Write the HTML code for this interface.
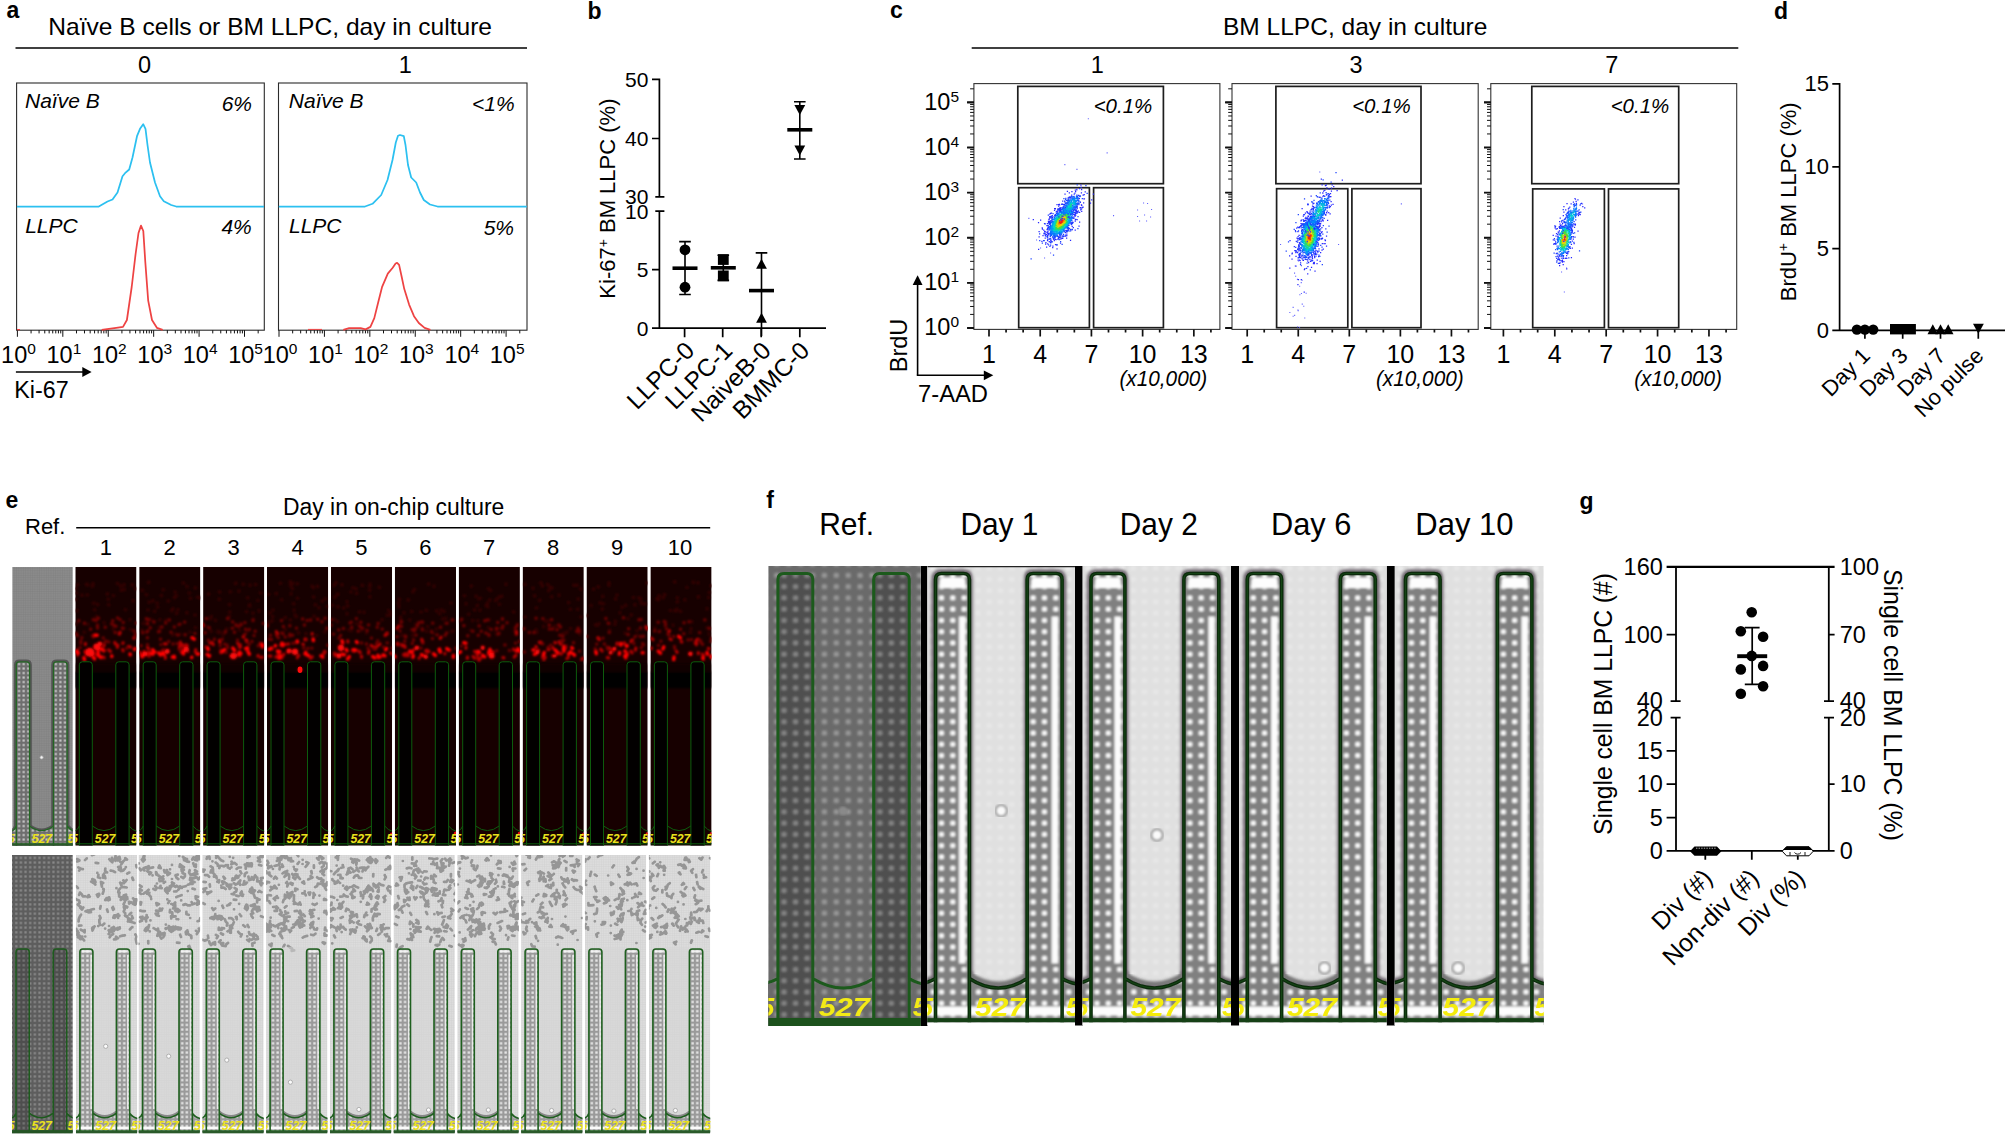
<!DOCTYPE html>
<html><head><meta charset="utf-8"><title>Figure</title>
<style>html,body{margin:0;padding:0;background:#fff;overflow:hidden;width:2006px;height:1136px;}svg{display:block}text{font-family:"Liberation Sans",Arial,sans-serif;}</style>
</head><body>
<svg width="2006" height="1136" viewBox="0 0 2006 1136">
<rect width="2006" height="1136" fill="#fff"/>
<g id="panel-a">
<text x="6.50" y="18.30" font-size="23" font-weight="bold">a</text>
<text x="48.30" y="34.60" font-size="24" textLength="443.7" lengthAdjust="spacingAndGlyphs">Naïve B cells or BM LLPC, day in culture</text>
<line x1="15.50" y1="48.00" x2="527.00" y2="48.00" stroke="#000" stroke-width="1.6" />
<text x="144.50" y="73.00" font-size="23.5" text-anchor="middle">0</text>
<text x="405.30" y="73.00" font-size="23.5" text-anchor="middle">1</text>
<rect x="16.60" y="83.00" width="247.70" height="247.20" fill="none" stroke="#2b2b2b" stroke-width="1.1" />
<path d="M17.40 330.2V336.8M31.07 330.2V333.4M39.07 330.2V333.4M44.75 330.2V333.4M49.15 330.2V333.4M52.74 330.2V333.4M55.78 330.2V333.4M58.42 330.2V333.4M60.74 330.2V333.4M62.82 330.2V336.8M76.49 330.2V333.4M84.49 330.2V333.4M90.17 330.2V333.4M94.57 330.2V333.4M98.16 330.2V333.4M101.20 330.2V333.4M103.84 330.2V333.4M106.16 330.2V333.4M108.24 330.2V336.8M121.91 330.2V333.4M129.91 330.2V333.4M135.59 330.2V333.4M139.99 330.2V333.4M143.58 330.2V333.4M146.62 330.2V333.4M149.26 330.2V333.4M151.58 330.2V333.4M153.66 330.2V336.8M167.33 330.2V333.4M175.33 330.2V333.4M181.01 330.2V333.4M185.41 330.2V333.4M189.00 330.2V333.4M192.04 330.2V333.4M194.68 330.2V333.4M197.00 330.2V333.4M199.08 330.2V336.8M212.75 330.2V333.4M220.75 330.2V333.4M226.43 330.2V333.4M230.83 330.2V333.4M234.42 330.2V333.4M237.46 330.2V333.4M240.10 330.2V333.4M242.42 330.2V333.4M244.50 330.2V336.8M258.17 330.2V333.4" stroke="#111" stroke-width="1" fill="none"/>
<text x="1.10" y="362.6" font-size="23.5">10<tspan dy="-8.2" font-size="15.5">0</tspan></text>
<text x="46.52" y="362.6" font-size="23.5">10<tspan dy="-8.2" font-size="15.5">1</tspan></text>
<text x="91.94" y="362.6" font-size="23.5">10<tspan dy="-8.2" font-size="15.5">2</tspan></text>
<text x="137.36" y="362.6" font-size="23.5">10<tspan dy="-8.2" font-size="15.5">3</tspan></text>
<text x="182.78" y="362.6" font-size="23.5">10<tspan dy="-8.2" font-size="15.5">4</tspan></text>
<text x="228.20" y="362.6" font-size="23.5">10<tspan dy="-8.2" font-size="15.5">5</tspan></text>
<rect x="278.50" y="83.00" width="248.50" height="247.20" fill="none" stroke="#2b2b2b" stroke-width="1.1" />
<path d="M279.00 330.2V336.8M292.67 330.2V333.4M300.67 330.2V333.4M306.35 330.2V333.4M310.75 330.2V333.4M314.34 330.2V333.4M317.38 330.2V333.4M320.02 330.2V333.4M322.34 330.2V333.4M324.42 330.2V336.8M338.09 330.2V333.4M346.09 330.2V333.4M351.77 330.2V333.4M356.17 330.2V333.4M359.76 330.2V333.4M362.80 330.2V333.4M365.44 330.2V333.4M367.76 330.2V333.4M369.84 330.2V336.8M383.51 330.2V333.4M391.51 330.2V333.4M397.19 330.2V333.4M401.59 330.2V333.4M405.18 330.2V333.4M408.22 330.2V333.4M410.86 330.2V333.4M413.18 330.2V333.4M415.26 330.2V336.8M428.93 330.2V333.4M436.93 330.2V333.4M442.61 330.2V333.4M447.01 330.2V333.4M450.60 330.2V333.4M453.64 330.2V333.4M456.28 330.2V333.4M458.60 330.2V333.4M460.68 330.2V336.8M474.35 330.2V333.4M482.35 330.2V333.4M488.03 330.2V333.4M492.43 330.2V333.4M496.02 330.2V333.4M499.06 330.2V333.4M501.70 330.2V333.4M504.02 330.2V333.4M506.10 330.2V336.8M519.77 330.2V333.4" stroke="#111" stroke-width="1" fill="none"/>
<text x="262.70" y="362.6" font-size="23.5">10<tspan dy="-8.2" font-size="15.5">0</tspan></text>
<text x="308.12" y="362.6" font-size="23.5">10<tspan dy="-8.2" font-size="15.5">1</tspan></text>
<text x="353.54" y="362.6" font-size="23.5">10<tspan dy="-8.2" font-size="15.5">2</tspan></text>
<text x="398.96" y="362.6" font-size="23.5">10<tspan dy="-8.2" font-size="15.5">3</tspan></text>
<text x="444.38" y="362.6" font-size="23.5">10<tspan dy="-8.2" font-size="15.5">4</tspan></text>
<text x="489.80" y="362.6" font-size="23.5">10<tspan dy="-8.2" font-size="15.5">5</tspan></text>
<path d="M16.9 206.5 L98.8 206.5 L107.5 201.5 L112.5 199.5 L117.5 192.5 L122.5 176.2 L125.0 173.2 L129.2 169.5 L132.5 157.5 L137.0 136.2 L140.0 128.8 L143.2 124.2 L145.5 128.8 L147.5 145.0 L150.0 162.5 L155.0 182.5 L160.0 196.2 L163.8 201.2 L171.2 205.0 L176.2 206.5 L264.0 206.5" fill="none" stroke="#2cc0f0" stroke-width="1.75" stroke-linejoin="round"/>
<path d="M278.8 206.5 L365.0 206.5 L372.5 203.8 L381.2 195.0 L387.5 180.0 L392.5 160.0 L395.8 142.5 L398.0 135.8 L400.0 135.0 L403.8 136.2 L405.5 145.0 L408.0 165.0 L411.2 177.5 L416.2 182.5 L420.0 192.5 L423.8 200.0 L430.0 204.5 L437.5 206.5 L526.8 206.5" fill="none" stroke="#2cc0f0" stroke-width="1.75" stroke-linejoin="round"/>
<path d="M101.7 329.8 L116.2 327.8 L123.0 326.9 L126.9 320.0 L131.7 287.0 L135.6 254.0 L138.5 233.0 L141.0 225.6 L143.3 231.0 L145.3 262.0 L148.2 300.7 L152.0 320.0 L156.9 327.8 L162.7 329.8" fill="none" stroke="#ee4343" stroke-width="1.75" stroke-linejoin="round"/>
<path d="M343.3 329.8 L349.1 328.2 L360.7 328.2 L365.6 329.4 L370.4 326.9 L374.3 318.1 L378.1 302.7 L382.0 287.2 L387.8 273.6 L392.7 267.8 L395.6 263.5 L397.1 262.8 L399.1 264.9 L401.4 275.5 L404.3 289.1 L409.1 304.6 L414.0 316.2 L418.8 323.0 L424.6 327.8 L430.4 329.8" fill="none" stroke="#ee4343" stroke-width="1.75" stroke-linejoin="round"/>
<line x1="17.00" y1="329.60" x2="20.00" y2="329.60" stroke="#ee4343" stroke-width="1.2" />
<line x1="308.00" y1="329.40" x2="322.00" y2="329.40" stroke="#ee4343" stroke-width="1.0" />
<text x="25.00" y="107.50" font-size="21" font-style="italic">Naïve B</text>
<text x="252.00" y="110.80" font-size="21" text-anchor="end" font-style="italic">6%</text>
<text x="25.20" y="232.50" font-size="21" font-style="italic">LLPC</text>
<text x="251.80" y="234.20" font-size="21" text-anchor="end" font-style="italic">4%</text>
<text x="288.80" y="107.50" font-size="21" font-style="italic">Naïve B</text>
<text x="514.60" y="110.80" font-size="21" text-anchor="end" font-style="italic">&lt;1%</text>
<text x="289.00" y="232.50" font-size="21" font-style="italic">LLPC</text>
<text x="514.00" y="234.50" font-size="21" text-anchor="end" font-style="italic">5%</text>
<line x1="15.90" y1="372.00" x2="83.50" y2="372.00" stroke="#000" stroke-width="1.6" />
<polygon points="82.3,367.1 91.6,372 82.3,376.9"/>
<text x="14.30" y="397.60" font-size="23.5" textLength="54.4" lengthAdjust="spacingAndGlyphs">Ki-67</text>
</g>
<g id="panel-b">
<text x="587.50" y="18.50" font-size="23" font-weight="bold">b</text>
<path d="M652 79.4H659.4V196.8M652 138.5H659.4M655.3 196.8H664.4M655.3 211.2H664.4M659.4 211.2V328.2M652 269.7H659.4M652 328.2H826M684.6 328.2V337.2M722.7 328.2V337.2M761.2 328.2V337.2M799.8 328.2V337.2" stroke="#000" stroke-width="1.7" fill="none"/>
<text x="648.40" y="86.90" font-size="21" text-anchor="end">50</text>
<text x="648.40" y="146.00" font-size="21" text-anchor="end">40</text>
<text x="648.40" y="204.30" font-size="21" text-anchor="end">30</text>
<text x="648.40" y="218.70" font-size="21" text-anchor="end">10</text>
<text x="648.40" y="277.20" font-size="21" text-anchor="end">5</text>
<text x="648.40" y="335.70" font-size="21" text-anchor="end">0</text>
<text x="615.4" y="198.6" font-size="22" text-anchor="middle" transform="rotate(-90 615.4 198.6)">Ki-67<tspan dy="-7.5" font-size="14">+</tspan><tspan dy="7.5"> BM LLPC (%)</tspan></text>
<path d="M685 241.6V294.5M679.2 241.6H690.8M679.2 294.5H690.8" stroke="#000" stroke-width="1.6" fill="none"/>
<line x1="672.50" y1="268.20" x2="697.50" y2="268.20" stroke="#000" stroke-width="3.6" />
<circle cx="685" cy="249.8" r="5.4"/><circle cx="685" cy="287.2" r="5.4"/>
<path d="M723.3 255.2V280.4M717.5 255.2H729.0999999999999M717.5 280.4H729.0999999999999" stroke="#000" stroke-width="1.6" fill="none"/>
<line x1="710.80" y1="267.80" x2="735.80" y2="267.80" stroke="#000" stroke-width="3.6" />
<rect x="717.90" y="254.20" width="10.80" height="10.70" fill="#000" stroke="none" stroke-width="1" />
<rect x="717.90" y="270.50" width="10.80" height="10.70" fill="#000" stroke="none" stroke-width="1" />
<path d="M761.5 252.9V336M755.7 252.9H767.3" stroke="#000" stroke-width="1.6" fill="none"/>
<line x1="749.00" y1="290.60" x2="774.00" y2="290.60" stroke="#000" stroke-width="3.6" />
<polygon points="756.1,268.86 766.9,268.86 761.5,258.87"/>
<polygon points="756.1,322.66 766.9,322.66 761.5,312.67"/>
<path d="M799.8 101.7V159M794.0 101.7H805.5999999999999M794.0 159H805.5999999999999" stroke="#000" stroke-width="1.6" fill="none"/>
<line x1="787.30" y1="129.80" x2="812.30" y2="129.80" stroke="#000" stroke-width="3.6" />
<polygon points="794.4,104.94 805.1999999999999,104.94 799.8,114.92999999999999"/>
<polygon points="794.4,145.54 805.1999999999999,145.54 799.8,155.53"/>
<text x="695.80" y="352.10" font-size="24.5" text-anchor="end" transform="rotate(-45 695.80 352.10)">LLPC-0</text>
<text x="733.90" y="352.10" font-size="24.5" text-anchor="end" transform="rotate(-45 733.90 352.10)">LLPC-1</text>
<text x="772.40" y="352.10" font-size="24.5" text-anchor="end" transform="rotate(-45 772.40 352.10)">NaiveB-0</text>
<text x="811.00" y="352.10" font-size="24.5" text-anchor="end" transform="rotate(-45 811.00 352.10)">BMMC-0</text>
</g>
<g id="panel-c">
<text x="890.00" y="17.80" font-size="23" font-weight="bold">c</text>
<text x="1223.00" y="35.00" font-size="24" textLength="264.4" lengthAdjust="spacingAndGlyphs">BM LLPC, day in culture</text>
<line x1="971.70" y1="48.00" x2="1738.30" y2="48.00" stroke="#000" stroke-width="1.6" />
<text x="1097.40" y="73.20" font-size="23.5" text-anchor="middle">1</text>
<rect x="973.90" y="83.60" width="246.00" height="245.80" fill="none" stroke="#333" stroke-width="1.1" />
<rect x="1017.80" y="86.40" width="145.60" height="97.30" fill="none" stroke="#1e1e1e" stroke-width="1.7" />
<rect x="1018.70" y="187.70" width="70.70" height="140.00" fill="none" stroke="#1e1e1e" stroke-width="1.7" />
<rect x="1093.60" y="187.70" width="69.80" height="140.00" fill="none" stroke="#1e1e1e" stroke-width="1.7" />
<path d="M967.10 328.00H973.90M970.10 314.42H973.90M970.10 306.47H973.90M970.10 300.84H973.90M970.10 296.46H973.90M970.10 292.89H973.90M970.10 289.87H973.90M970.10 287.25H973.90M970.10 284.94H973.90M967.10 282.88H973.90M970.10 269.30H973.90M970.10 261.35H973.90M970.10 255.72H973.90M970.10 251.34H973.90M970.10 247.77H973.90M970.10 244.75H973.90M970.10 242.13H973.90M970.10 239.82H973.90M967.10 237.76H973.90M970.10 224.18H973.90M970.10 216.23H973.90M970.10 210.60H973.90M970.10 206.22H973.90M970.10 202.65H973.90M970.10 199.63H973.90M970.10 197.01H973.90M970.10 194.70H973.90M967.10 192.64H973.90M970.10 179.06H973.90M970.10 171.11H973.90M970.10 165.48H973.90M970.10 161.10H973.90M970.10 157.53H973.90M970.10 154.51H973.90M970.10 151.89H973.90M970.10 149.58H973.90M967.10 147.52H973.90M970.10 133.94H973.90M970.10 125.99H973.90M970.10 120.36H973.90M970.10 115.98H973.90M970.10 112.41H973.90M970.10 109.39H973.90M970.10 106.77H973.90M970.10 104.46H973.90M967.10 102.40H973.90M970.10 88.82H973.90" stroke="#111" stroke-width="1" fill="none"/>
<line x1="967.10" y1="102.40" x2="973.90" y2="102.40" stroke="#111" stroke-width="1.8" />
<path d="M967.10 328.00H973.90M967.10 282.88H973.90M967.10 237.76H973.90M967.10 192.64H973.90M967.10 147.52H973.90M967.10 102.40H973.90" stroke="#111" stroke-width="1.8" fill="none"/>
<path d="M989.00 329.4V336.6M1006.07 329.4V332.6M1023.14 329.4V332.6M1040.21 329.4V336.6M1057.28 329.4V332.6M1074.35 329.4V332.6M1091.42 329.4V336.6M1108.49 329.4V332.6M1125.56 329.4V332.6M1142.63 329.4V336.6M1159.70 329.4V332.6M1176.77 329.4V332.6M1193.84 329.4V336.6M1210.91 329.4V332.6" stroke="#111" stroke-width="1.7" fill="none"/>
<text x="989.00" y="362.80" font-size="25" text-anchor="middle">1</text>
<text x="1040.21" y="362.80" font-size="25" text-anchor="middle">4</text>
<text x="1091.42" y="362.80" font-size="25" text-anchor="middle">7</text>
<text x="1142.63" y="362.80" font-size="25" text-anchor="middle">10</text>
<text x="1193.84" y="362.80" font-size="25" text-anchor="middle">13</text>
<text x="1207.20" y="386.00" font-size="21.5" text-anchor="end" font-style="italic" textLength="87.8" lengthAdjust="spacingAndGlyphs">(x10,000)</text>
<text x="1123.00" y="113.20" font-size="20.5" text-anchor="middle" font-style="italic">&lt;0.1%</text>
<text x="924.30" y="335.40" font-size="23.5">10<tspan dy="-8.2" font-size="15.5">0</tspan></text>
<text x="924.30" y="290.28" font-size="23.5">10<tspan dy="-8.2" font-size="15.5">1</tspan></text>
<text x="924.30" y="245.16" font-size="23.5">10<tspan dy="-8.2" font-size="15.5">2</tspan></text>
<text x="924.30" y="200.04" font-size="23.5">10<tspan dy="-8.2" font-size="15.5">3</tspan></text>
<text x="924.30" y="154.92" font-size="23.5">10<tspan dy="-8.2" font-size="15.5">4</tspan></text>
<text x="924.30" y="109.80" font-size="23.5">10<tspan dy="-8.2" font-size="15.5">5</tspan></text>
<text x="1356.00" y="73.20" font-size="23.5" text-anchor="middle">3</text>
<rect x="1232.00" y="83.60" width="246.20" height="245.80" fill="none" stroke="#333" stroke-width="1.1" />
<rect x="1275.90" y="86.40" width="145.10" height="97.30" fill="none" stroke="#1e1e1e" stroke-width="1.7" />
<rect x="1276.60" y="188.70" width="71.20" height="139.00" fill="none" stroke="#1e1e1e" stroke-width="1.7" />
<rect x="1351.90" y="188.70" width="69.10" height="139.00" fill="none" stroke="#1e1e1e" stroke-width="1.7" />
<path d="M1225.20 328.00H1232.00M1228.20 314.42H1232.00M1228.20 306.47H1232.00M1228.20 300.84H1232.00M1228.20 296.46H1232.00M1228.20 292.89H1232.00M1228.20 289.87H1232.00M1228.20 287.25H1232.00M1228.20 284.94H1232.00M1225.20 282.88H1232.00M1228.20 269.30H1232.00M1228.20 261.35H1232.00M1228.20 255.72H1232.00M1228.20 251.34H1232.00M1228.20 247.77H1232.00M1228.20 244.75H1232.00M1228.20 242.13H1232.00M1228.20 239.82H1232.00M1225.20 237.76H1232.00M1228.20 224.18H1232.00M1228.20 216.23H1232.00M1228.20 210.60H1232.00M1228.20 206.22H1232.00M1228.20 202.65H1232.00M1228.20 199.63H1232.00M1228.20 197.01H1232.00M1228.20 194.70H1232.00M1225.20 192.64H1232.00M1228.20 179.06H1232.00M1228.20 171.11H1232.00M1228.20 165.48H1232.00M1228.20 161.10H1232.00M1228.20 157.53H1232.00M1228.20 154.51H1232.00M1228.20 151.89H1232.00M1228.20 149.58H1232.00M1225.20 147.52H1232.00M1228.20 133.94H1232.00M1228.20 125.99H1232.00M1228.20 120.36H1232.00M1228.20 115.98H1232.00M1228.20 112.41H1232.00M1228.20 109.39H1232.00M1228.20 106.77H1232.00M1228.20 104.46H1232.00M1225.20 102.40H1232.00M1228.20 88.82H1232.00" stroke="#111" stroke-width="1" fill="none"/>
<line x1="1225.20" y1="102.40" x2="1232.00" y2="102.40" stroke="#111" stroke-width="1.8" />
<path d="M1225.20 328.00H1232.00M1225.20 282.88H1232.00M1225.20 237.76H1232.00M1225.20 192.64H1232.00M1225.20 147.52H1232.00M1225.20 102.40H1232.00" stroke="#111" stroke-width="1.8" fill="none"/>
<path d="M1247.20 329.4V336.6M1264.22 329.4V332.6M1281.24 329.4V332.6M1298.26 329.4V336.6M1315.28 329.4V332.6M1332.30 329.4V332.6M1349.32 329.4V336.6M1366.34 329.4V332.6M1383.36 329.4V332.6M1400.38 329.4V336.6M1417.40 329.4V332.6M1434.42 329.4V332.6M1451.44 329.4V336.6M1468.46 329.4V332.6" stroke="#111" stroke-width="1.7" fill="none"/>
<text x="1247.20" y="362.80" font-size="25" text-anchor="middle">1</text>
<text x="1298.26" y="362.80" font-size="25" text-anchor="middle">4</text>
<text x="1349.32" y="362.80" font-size="25" text-anchor="middle">7</text>
<text x="1400.38" y="362.80" font-size="25" text-anchor="middle">10</text>
<text x="1451.44" y="362.80" font-size="25" text-anchor="middle">13</text>
<text x="1463.70" y="386.00" font-size="21.5" text-anchor="end" font-style="italic" textLength="87.8" lengthAdjust="spacingAndGlyphs">(x10,000)</text>
<text x="1381.50" y="113.20" font-size="20.5" text-anchor="middle" font-style="italic">&lt;0.1%</text>
<text x="1611.90" y="73.20" font-size="23.5" text-anchor="middle">7</text>
<rect x="1490.80" y="83.60" width="245.90" height="245.80" fill="none" stroke="#333" stroke-width="1.1" />
<rect x="1531.80" y="86.40" width="146.90" height="97.30" fill="none" stroke="#1e1e1e" stroke-width="1.7" />
<rect x="1532.70" y="188.90" width="71.70" height="138.80" fill="none" stroke="#1e1e1e" stroke-width="1.7" />
<rect x="1608.50" y="188.90" width="70.20" height="138.80" fill="none" stroke="#1e1e1e" stroke-width="1.7" />
<path d="M1484.00 328.00H1490.80M1487.00 314.42H1490.80M1487.00 306.47H1490.80M1487.00 300.84H1490.80M1487.00 296.46H1490.80M1487.00 292.89H1490.80M1487.00 289.87H1490.80M1487.00 287.25H1490.80M1487.00 284.94H1490.80M1484.00 282.88H1490.80M1487.00 269.30H1490.80M1487.00 261.35H1490.80M1487.00 255.72H1490.80M1487.00 251.34H1490.80M1487.00 247.77H1490.80M1487.00 244.75H1490.80M1487.00 242.13H1490.80M1487.00 239.82H1490.80M1484.00 237.76H1490.80M1487.00 224.18H1490.80M1487.00 216.23H1490.80M1487.00 210.60H1490.80M1487.00 206.22H1490.80M1487.00 202.65H1490.80M1487.00 199.63H1490.80M1487.00 197.01H1490.80M1487.00 194.70H1490.80M1484.00 192.64H1490.80M1487.00 179.06H1490.80M1487.00 171.11H1490.80M1487.00 165.48H1490.80M1487.00 161.10H1490.80M1487.00 157.53H1490.80M1487.00 154.51H1490.80M1487.00 151.89H1490.80M1487.00 149.58H1490.80M1484.00 147.52H1490.80M1487.00 133.94H1490.80M1487.00 125.99H1490.80M1487.00 120.36H1490.80M1487.00 115.98H1490.80M1487.00 112.41H1490.80M1487.00 109.39H1490.80M1487.00 106.77H1490.80M1487.00 104.46H1490.80M1484.00 102.40H1490.80M1487.00 88.82H1490.80" stroke="#111" stroke-width="1" fill="none"/>
<line x1="1484.00" y1="102.40" x2="1490.80" y2="102.40" stroke="#111" stroke-width="1.8" />
<path d="M1484.00 328.00H1490.80M1484.00 282.88H1490.80M1484.00 237.76H1490.80M1484.00 192.64H1490.80M1484.00 147.52H1490.80M1484.00 102.40H1490.80" stroke="#111" stroke-width="1.8" fill="none"/>
<path d="M1503.40 329.4V336.6M1520.53 329.4V332.6M1537.66 329.4V332.6M1554.79 329.4V336.6M1571.92 329.4V332.6M1589.05 329.4V332.6M1606.18 329.4V336.6M1623.31 329.4V332.6M1640.44 329.4V332.6M1657.57 329.4V336.6M1674.70 329.4V332.6M1691.83 329.4V332.6M1708.96 329.4V336.6M1726.09 329.4V332.6" stroke="#111" stroke-width="1.7" fill="none"/>
<text x="1503.40" y="362.80" font-size="25" text-anchor="middle">1</text>
<text x="1554.79" y="362.80" font-size="25" text-anchor="middle">4</text>
<text x="1606.18" y="362.80" font-size="25" text-anchor="middle">7</text>
<text x="1657.57" y="362.80" font-size="25" text-anchor="middle">10</text>
<text x="1708.96" y="362.80" font-size="25" text-anchor="middle">13</text>
<text x="1722.00" y="386.00" font-size="21.5" text-anchor="end" font-style="italic" textLength="87.8" lengthAdjust="spacingAndGlyphs">(x10,000)</text>
<text x="1640.00" y="113.20" font-size="20.5" text-anchor="middle" font-style="italic">&lt;0.1%</text>
<path d="M1032.7 219.7h1.25M1038.0 249.3h1.25M1038.5 236.8h1.25M1041.8 229.1h1.25M1043.1 230.1h1.25M1043.8 233.0h1.25M1043.9 223.7h1.25M1044.6 238.0h1.25M1044.7 233.9h1.25M1044.7 235.5h1.25M1045.0 244.0h1.25M1045.3 234.6h1.25M1045.3 242.5h1.25M1046.0 247.0h1.25M1046.3 225.6h1.25M1046.4 232.4h1.25M1046.5 229.3h1.25M1046.6 225.7h1.25M1046.7 225.5h1.25M1046.8 237.8h1.25M1046.8 223.6h1.25M1046.9 235.6h1.25M1047.0 228.1h1.25M1047.1 243.8h1.25M1047.1 233.1h1.25M1047.3 232.8h1.25M1047.3 231.3h1.25M1047.7 228.1h1.25M1047.8 226.8h1.25M1047.8 221.4h1.25M1047.9 233.6h1.25M1047.9 222.9h1.25M1048.1 234.8h1.25M1048.3 219.4h1.25M1048.3 239.1h1.25M1048.4 221.0h1.25M1048.6 241.6h1.25M1048.6 219.0h1.25M1048.9 223.3h1.25M1049.1 216.7h1.25M1049.1 224.3h1.25M1049.2 214.2h1.25M1049.2 223.1h1.25M1049.3 221.3h1.25M1049.6 238.3h1.25M1049.7 222.9h1.25M1049.7 224.1h1.25M1049.8 242.4h1.25M1050.0 222.3h1.25M1050.0 213.4h1.25M1050.1 240.8h1.25M1050.3 220.5h1.25M1050.4 240.5h1.25M1050.6 220.7h1.25M1050.9 213.0h1.25M1051.7 217.5h1.25M1051.7 215.7h1.25M1052.1 247.7h1.25M1052.3 246.0h1.25M1052.7 238.2h1.25M1053.3 239.3h1.25M1053.7 236.6h1.25M1054.0 208.7h1.25M1054.0 215.9h1.25M1054.3 237.6h1.25M1054.8 208.5h1.25M1054.8 239.4h1.25M1054.9 244.5h1.25M1055.4 239.6h1.25M1056.1 244.8h1.25M1056.4 204.7h1.25M1057.1 239.2h1.25M1057.5 236.4h1.25M1057.9 238.9h1.25M1058.2 237.9h1.25M1058.9 236.8h1.25M1059.0 204.9h1.25M1059.2 208.1h1.25M1059.8 234.9h1.25M1059.9 243.1h1.25M1060.0 208.7h1.25M1060.0 209.3h1.25M1060.1 208.9h1.25M1060.2 239.0h1.25M1060.9 238.2h1.25M1061.2 204.4h1.25M1061.6 236.2h1.25M1062.1 201.0h1.25M1062.1 238.4h1.25M1062.4 235.8h1.25M1062.4 207.8h1.25M1063.3 236.4h1.25M1063.4 204.4h1.25M1064.4 194.1h1.25M1064.7 230.8h1.25M1064.8 207.7h1.25M1064.8 232.5h1.25M1065.0 236.0h1.25M1065.3 205.7h1.25M1065.4 230.8h1.25M1065.5 206.9h1.25M1065.6 206.6h1.25M1066.0 238.2h1.25M1066.1 231.8h1.25M1066.2 235.7h1.25M1067.2 203.4h1.25M1067.4 229.8h1.25M1067.8 202.4h1.25M1068.0 230.0h1.25M1068.1 228.5h1.25M1068.4 204.3h1.25M1069.0 197.2h1.25M1069.1 205.5h1.25M1069.5 206.7h1.25M1069.9 240.4h1.25M1070.1 206.1h1.25M1070.3 223.7h1.25M1070.6 203.1h1.25M1071.2 203.9h1.25M1071.2 203.1h1.25M1071.3 205.2h1.25M1071.3 191.5h1.25M1071.5 222.0h1.25M1071.6 222.4h1.25M1071.6 226.3h1.25M1071.8 198.2h1.25M1072.4 222.3h1.25M1072.6 218.2h1.25M1072.7 227.6h1.25M1073.2 212.6h1.25M1073.3 218.4h1.25M1073.4 207.9h1.25M1073.5 197.9h1.25M1073.6 212.6h1.25M1073.7 200.8h1.25M1073.8 214.9h1.25M1074.4 214.4h1.25M1074.4 202.5h1.25M1074.6 215.0h1.25M1074.6 208.9h1.25M1074.7 212.9h1.25M1074.8 219.7h1.25M1075.1 219.3h1.25M1075.3 213.2h1.25M1075.4 209.4h1.25M1075.4 212.3h1.25M1075.5 210.4h1.25M1075.6 211.2h1.25M1076.1 206.1h1.25M1076.5 219.5h1.25M1076.6 200.7h1.25M1076.6 205.9h1.25M1077.5 199.1h1.25M1077.7 203.1h1.25M1078.0 195.3h1.25M1078.4 226.0h1.25M1078.8 198.5h1.25M1079.7 207.6h1.25M1080.0 209.8h1.25M1081.1 205.3h1.25M1081.1 211.4h1.25M1081.3 207.9h1.25M1081.6 207.3h1.25M1082.5 207.0h1.25M1091.1 199.9h1.25M1067.1 200.4h1.25M1058.0 204.7h1.25M1074.6 230.1h1.25M1051.3 241.7h1.25M1065.7 230.4h1.25M1046.3 234.4h1.25M1050.4 216.7h1.25M1076.6 211.6h1.25M1049.3 246.4h1.25M1061.4 209.4h1.25M1067.6 227.5h1.25M1077.0 204.1h1.25M1058.7 204.4h1.25M1041.6 227.8h1.25M1042.4 235.6h1.25M1054.7 236.5h1.25M1057.1 211.9h1.25M1073.4 216.8h1.25M1066.8 230.6h1.25M1066.2 234.0h1.25M1079.0 212.4h1.25M1049.0 226.6h1.25M1075.1 215.2h1.25M1062.5 208.4h1.25M1056.4 248.8h1.25M1074.6 201.2h1.25M1049.4 217.5h1.25M1048.6 222.6h1.25M1053.7 240.6h1.25M1071.0 223.3h1.25M1066.0 231.4h1.25M1059.5 237.6h1.25M1044.0 231.3h1.25M1063.6 231.4h1.25M1049.7 232.6h1.25M1050.4 220.9h1.25M1050.3 222.6h1.25M1071.3 229.9h1.25M1044.9 231.9h1.25M1079.0 222.0h1.25M1077.6 210.9h1.25M1049.2 217.9h1.25M1076.2 211.6h1.25M1054.7 214.9h1.25M1050.7 218.1h1.25M1043.5 233.9h1.25M1054.7 208.8h1.25M1052.4 216.9h1.25M1070.9 223.0h1.25M1074.0 201.0h1.25M1038.5 231.7h1.25M1037.9 222.5h1.25M1053.9 210.3h1.25M1064.2 204.4h1.25M1066.7 227.5h1.25M1073.6 198.9h1.25M1075.1 213.3h1.25M1046.7 229.6h1.25M1068.7 192.8h1.25M1058.6 210.2h1.25M1040.0 220.2h1.25M1046.9 240.5h1.25M1059.6 208.4h1.25M1074.6 221.2h1.25M1072.5 209.7h1.25M1041.3 241.3h1.25M1064.1 201.9h1.25M1067.2 227.9h1.25M1059.4 211.2h1.25M1064.5 207.3h1.25M1063.6 208.4h1.25M1048.1 222.0h1.25M1052.7 238.9h1.25M1060.4 207.7h1.25M1068.3 204.0h1.25M1049.2 217.8h1.25" stroke="#2828ff" stroke-width="1.25" fill="none"/>
<path d="M1062.2 208.7h1.25M1055.8 213.3h1.25M1065.4 202.3h1.25M1066.4 206.9h1.25M1051.4 241.9h1.25M1070.8 205.2h1.25M1047.1 239.6h1.25M1077.1 204.2h1.25M1057.3 213.6h1.25M1069.2 208.5h1.25M1079.0 196.1h1.25M1043.0 240.5h1.25M1073.6 206.3h1.25M1076.6 184.9h1.25M1061.5 244.3h1.25M1051.4 221.6h1.25M1059.3 235.5h1.25M1075.6 213.1h1.25M1052.9 255.0h1.25M1054.9 236.7h1.25M1068.5 225.1h1.25M1060.0 236.1h1.25M1072.9 207.0h1.25M1081.7 198.6h1.25M1058.5 210.1h1.25M1048.6 224.0h1.25M1052.4 236.1h1.25M1075.2 210.6h1.25M1054.3 236.6h1.25M1050.0 245.0h1.25M1069.2 222.9h1.25M1071.7 222.7h1.25M1053.9 238.0h1.25M1058.7 210.4h1.25M1045.1 235.9h1.25M1055.6 211.8h1.25M1058.9 209.2h1.25M1069.2 222.9h1.25M1074.8 210.7h1.25M1066.0 231.1h1.25M1065.0 199.6h1.25M1049.3 223.4h1.25M1044.6 223.9h1.25M1053.5 237.3h1.25M1067.4 206.6h1.25M1068.7 228.7h1.25M1058.1 237.5h1.25M1048.1 229.8h1.25M1076.2 206.8h1.25M1072.3 212.4h1.25M1039.1 240.6h1.25M1047.1 237.0h1.25M1077.5 212.2h1.25M1062.2 236.9h1.25M1066.0 205.9h1.25M1073.2 207.4h1.25M1065.9 200.4h1.25M1049.0 224.2h1.25M1071.6 205.7h1.25M1058.6 212.6h1.25M1046.9 236.5h1.25M1068.9 206.6h1.25M1058.3 209.9h1.25M1052.4 213.6h1.25M1058.0 208.8h1.25M1058.6 239.5h1.25M1049.1 239.0h1.25M1063.3 198.5h1.25M1065.2 198.3h1.25M1050.3 226.4h1.25M1063.1 236.3h1.25M1073.0 212.2h1.25M1075.8 206.5h1.25M1067.6 225.3h1.25M1063.5 208.6h1.25M1067.8 208.5h1.25M1030.5 258.9h1.25M1050.2 242.8h1.25M1051.9 221.4h1.25M1060.0 241.5h1.25M1048.0 244.8h1.25M1067.8 200.7h1.25M1049.3 229.2h1.25M1062.6 207.7h1.25M1047.7 215.0h1.25M1056.7 235.8h1.25M1043.6 240.5h1.25M1051.8 237.2h1.25M1054.7 215.6h1.25M1070.3 207.7h1.25M1059.1 233.1h1.25M1067.2 227.2h1.25M1071.7 229.3h1.25M1068.4 231.0h1.25M1076.5 213.1h1.25M1059.9 209.3h1.25M1071.4 213.2h1.25M1054.0 236.6h1.25M1070.2 204.2h1.25M1068.0 228.1h1.25M1068.1 227.8h1.25M1067.9 199.0h1.25M1050.5 233.9h1.25M1050.4 235.1h1.25M1070.0 230.8h1.25M1047.6 225.5h1.25M1073.9 209.3h1.25M1057.1 236.6h1.25M1070.0 229.3h1.25M1071.2 220.4h1.25M1050.3 239.0h1.25M1068.3 197.3h1.25M1065.3 208.0h1.25M1064.7 235.1h1.25M1077.4 216.5h1.25M1072.0 223.2h1.25M1072.6 207.0h1.25M1050.2 231.5h1.25M1043.6 233.4h1.25M1071.6 222.8h1.25M1070.2 203.0h1.25M1049.7 236.4h1.25M1064.9 203.3h1.25M1077.3 228.7h1.25M1071.3 213.9h1.25M1072.8 214.4h1.25M1050.7 216.1h1.25M1046.5 236.7h1.25M1049.3 228.0h1.25M1041.7 243.2h1.25M1051.3 221.5h1.25M1057.4 209.3h1.25M1073.2 210.5h1.25M1053.1 235.0h1.25M1080.9 209.2h1.25M1070.8 224.7h1.25M1067.0 206.0h1.25M1049.5 230.2h1.25M1047.1 228.7h1.25M1050.4 216.9h1.25M1062.8 234.4h1.25M1056.9 212.9h1.25M1071.7 223.7h1.25M1071.7 217.2h1.25M1061.5 204.0h1.25M1067.0 230.3h1.25M1066.6 231.7h1.25M1070.0 222.1h1.25M1056.5 244.9h1.25M1066.4 227.0h1.25M1039.0 233.9h1.25M1049.8 226.3h1.25M1052.4 233.5h1.25M1051.9 219.0h1.25M1076.6 208.5h1.25M1058.9 234.7h1.25M1055.6 235.9h1.25M1049.8 225.7h1.25M1053.9 217.4h1.25M1067.8 224.9h1.25M1069.0 221.8h1.25M1050.3 228.4h1.25M1050.0 233.7h1.25" stroke="#1c43ff" stroke-width="1.25" fill="none"/>
<path d="M1070.5 210.6h1.25M1059.7 233.2h1.25M1051.4 222.8h1.25M1053.1 235.4h1.25M1066.9 228.3h1.25M1064.3 228.6h1.25M1069.8 207.6h1.25M1049.8 235.9h1.25M1069.5 220.6h1.25M1049.5 228.9h1.25M1057.7 233.4h1.25M1049.6 226.8h1.25M1060.7 234.6h1.25M1054.3 234.8h1.25M1071.4 218.7h1.25M1051.8 233.1h1.25M1062.7 210.6h1.25M1071.4 207.1h1.25M1071.2 207.4h1.25M1059.6 212.4h1.25M1050.0 234.0h1.25M1063.5 230.8h1.25M1072.2 208.5h1.25M1051.7 219.4h1.25M1055.2 236.3h1.25M1058.9 233.5h1.25M1066.6 228.3h1.25M1071.8 215.2h1.25M1071.4 206.9h1.25M1049.7 226.8h1.25M1051.3 219.5h1.25M1050.8 235.4h1.25M1066.3 226.4h1.25M1070.9 211.8h1.25M1060.3 212.1h1.25M1049.0 233.8h1.25M1055.6 215.5h1.25M1067.4 207.5h1.25M1060.6 232.4h1.25M1055.8 233.9h1.25M1051.9 224.4h1.25M1049.5 228.4h1.25M1069.4 209.3h1.25M1052.2 220.0h1.25M1057.0 214.2h1.25M1053.5 237.1h1.25M1068.4 208.2h1.25M1055.9 215.1h1.25M1050.3 232.3h1.25M1068.6 210.5h1.25M1067.4 206.3h1.25M1063.2 209.4h1.25M1056.8 215.2h1.25M1050.5 222.4h1.25M1070.1 217.9h1.25M1049.1 228.2h1.25M1050.6 233.1h1.25M1064.0 209.1h1.25M1070.8 213.0h1.25M1051.8 219.1h1.25M1056.8 235.1h1.25M1061.2 211.9h1.25M1063.4 231.8h1.25M1053.2 219.4h1.25M1051.2 232.9h1.25M1070.0 220.6h1.25M1052.7 232.8h1.25M1051.8 230.1h1.25M1069.4 207.0h1.25M1054.3 234.0h1.25M1051.7 225.7h1.25M1069.2 209.7h1.25M1070.6 216.0h1.25M1055.1 233.8h1.25M1056.6 213.5h1.25M1071.0 207.4h1.25M1059.8 210.2h1.25M1050.5 235.3h1.25M1051.2 234.4h1.25M1057.4 233.4h1.25M1065.3 227.5h1.25M1072.4 210.6h1.25M1060.6 232.4h1.25M1070.9 209.0h1.25M1052.2 221.8h1.25M1070.6 220.2h1.25M1051.3 227.4h1.25M1059.5 210.6h1.25M1061.6 209.7h1.25M1052.6 232.9h1.25M1060.8 212.5h1.25M1054.9 214.9h1.25M1055.9 232.9h1.25M1051.5 227.1h1.25M1066.8 207.9h1.25M1057.0 215.5h1.25M1054.3 235.7h1.25M1058.8 231.7h1.25M1071.7 212.2h1.25M1071.1 217.4h1.25M1051.2 228.6h1.25M1058.6 232.3h1.25M1061.1 233.3h1.25M1049.6 233.7h1.25M1055.2 236.2h1.25M1066.0 210.7h1.25M1064.8 209.6h1.25M1071.7 217.4h1.25M1072.8 212.6h1.25M1055.8 233.8h1.25M1066.4 224.8h1.25M1062.8 211.3h1.25" stroke="#115fff" stroke-width="1.25" fill="none"/>
<path d="M1058.1 233.5h1.25M1051.4 233.3h1.25M1051.9 223.0h1.25M1057.9 214.8h1.25M1055.5 215.7h1.25M1070.0 217.2h1.25M1049.2 226.6h1.25M1066.8 226.1h1.25M1053.5 233.0h1.25M1058.6 214.0h1.25M1051.4 231.2h1.25M1049.4 228.2h1.25M1059.7 231.9h1.25M1063.4 208.6h1.25M1071.0 212.4h1.25M1068.0 222.0h1.25M1062.3 209.2h1.25M1061.7 232.2h1.25M1064.2 209.8h1.25M1070.6 210.9h1.25M1067.4 222.8h1.25M1050.7 231.2h1.25M1070.3 213.7h1.25M1066.0 210.4h1.25M1052.4 224.7h1.25M1061.4 209.7h1.25M1051.7 228.1h1.25M1051.2 233.4h1.25M1054.4 233.3h1.25M1066.3 209.9h1.25M1057.7 215.7h1.25M1051.6 229.5h1.25M1065.9 226.6h1.25M1067.1 226.7h1.25M1070.8 212.6h1.25M1069.5 209.2h1.25M1067.8 211.4h1.25M1071.2 214.4h1.25M1055.7 215.6h1.25M1063.0 230.5h1.25M1068.2 222.7h1.25M1053.4 234.4h1.25M1049.8 227.4h1.25M1065.0 208.8h1.25M1063.5 227.8h1.25M1066.7 226.4h1.25M1059.7 212.2h1.25M1069.2 212.1h1.25M1069.1 217.3h1.25M1058.3 213.6h1.25M1057.1 213.9h1.25M1071.4 218.4h1.25M1053.8 219.1h1.25M1055.2 235.0h1.25M1067.8 209.5h1.25M1063.2 230.0h1.25M1057.7 215.6h1.25M1060.7 211.3h1.25M1072.2 212.0h1.25M1050.9 226.8h1.25M1067.6 221.7h1.25M1061.0 231.2h1.25M1053.6 221.9h1.25M1052.7 221.8h1.25M1070.2 219.9h1.25M1068.2 222.2h1.25M1063.4 229.5h1.25M1056.4 234.0h1.25M1052.5 231.2h1.25M1057.1 213.8h1.25M1056.2 231.6h1.25M1059.8 233.5h1.25M1071.0 213.9h1.25M1050.8 233.3h1.25M1065.5 211.4h1.25M1069.5 214.0h1.25M1052.1 233.2h1.25M1067.9 209.0h1.25M1059.2 232.5h1.25M1065.8 225.1h1.25M1053.8 221.6h1.25M1062.4 210.1h1.25M1054.8 216.2h1.25M1051.6 231.6h1.25M1053.3 219.4h1.25M1065.7 226.7h1.25M1068.2 209.9h1.25M1067.5 221.9h1.25M1061.3 211.9h1.25M1054.0 219.9h1.25M1053.8 234.0h1.25M1049.9 231.9h1.25M1065.4 226.1h1.25M1058.3 215.7h1.25M1053.2 222.6h1.25M1050.4 232.4h1.25M1064.0 211.1h1.25M1067.6 209.9h1.25M1049.8 228.3h1.25M1052.5 233.5h1.25M1068.4 212.2h1.25M1057.4 233.1h1.25M1070.4 218.9h1.25M1061.5 213.2h1.25M1062.2 229.7h1.25M1053.9 231.7h1.25M1068.0 223.4h1.25M1052.6 234.3h1.25M1062.7 228.7h1.25M1055.5 231.7h1.25M1064.7 225.7h1.25M1069.2 218.5h1.25" stroke="#067bff" stroke-width="1.25" fill="none"/>
<path d="M1069.0 217.1h1.25M1052.4 228.9h1.25M1064.1 210.4h1.25M1068.4 210.8h1.25M1065.4 212.0h1.25M1052.5 234.5h1.25M1051.5 227.1h1.25M1052.9 222.0h1.25M1068.2 219.0h1.25M1052.9 229.3h1.25M1070.3 219.0h1.25M1051.2 227.2h1.25M1053.8 218.3h1.25M1053.8 222.2h1.25M1065.9 211.1h1.25M1064.5 210.8h1.25M1054.3 231.3h1.25M1069.3 215.1h1.25M1065.4 212.1h1.25M1051.3 230.6h1.25M1063.0 209.8h1.25M1059.4 214.7h1.25M1068.2 219.9h1.25M1052.7 226.5h1.25M1054.1 218.2h1.25M1056.0 218.2h1.25M1061.8 212.0h1.25M1067.8 220.9h1.25M1065.7 211.1h1.25M1055.0 220.7h1.25M1052.7 223.9h1.25M1065.4 226.3h1.25M1070.5 213.7h1.25M1057.5 215.9h1.25M1069.5 220.0h1.25M1053.3 219.3h1.25M1060.3 232.5h1.25M1057.1 217.3h1.25M1059.4 212.5h1.25M1068.8 217.4h1.25M1060.5 232.0h1.25M1068.4 217.4h1.25M1055.1 218.3h1.25M1061.7 228.8h1.25M1050.4 230.1h1.25M1059.5 212.6h1.25M1053.5 228.8h1.25M1052.8 229.6h1.25M1063.7 227.8h1.25M1057.2 231.7h1.25M1063.7 210.1h1.25M1051.4 228.0h1.25M1052.5 228.6h1.25M1053.1 231.6h1.25M1055.6 233.5h1.25M1061.5 231.5h1.25M1067.4 209.9h1.25M1054.7 218.2h1.25M1061.1 214.0h1.25M1060.3 211.8h1.25M1067.4 212.9h1.25M1054.1 221.6h1.25M1059.9 214.7h1.25M1066.9 225.1h1.25M1063.1 211.4h1.25M1069.7 210.4h1.25M1068.4 223.3h1.25M1068.8 210.6h1.25M1055.6 217.0h1.25M1069.7 221.0h1.25M1066.3 222.7h1.25M1055.8 232.8h1.25M1057.5 217.2h1.25M1053.5 228.4h1.25M1068.2 222.5h1.25M1055.4 232.1h1.25M1069.3 218.7h1.25M1054.5 229.4h1.25M1062.9 229.0h1.25M1055.0 220.9h1.25M1061.1 228.6h1.25M1058.3 215.3h1.25M1054.0 221.2h1.25M1063.0 211.9h1.25M1060.4 212.2h1.25M1063.3 228.7h1.25M1067.4 213.1h1.25M1052.5 230.3h1.25M1056.1 218.9h1.25M1069.2 217.9h1.25M1066.4 210.2h1.25M1051.0 228.5h1.25M1070.1 211.6h1.25M1069.8 215.0h1.25M1068.9 214.2h1.25M1050.9 227.7h1.25M1067.1 222.0h1.25M1062.7 228.6h1.25M1067.9 221.7h1.25M1061.4 228.3h1.25M1068.9 217.4h1.25M1063.6 212.5h1.25M1051.2 225.2h1.25M1066.1 223.6h1.25M1060.4 213.0h1.25M1069.4 211.5h1.25M1066.3 225.3h1.25M1063.8 211.6h1.25M1065.4 211.9h1.25M1066.6 210.2h1.25M1065.2 212.5h1.25M1066.7 213.9h1.25M1068.6 218.1h1.25M1066.9 213.1h1.25M1061.5 230.4h1.25M1059.6 231.0h1.25M1064.8 227.1h1.25M1057.7 216.3h1.25M1053.1 228.5h1.25M1070.5 213.9h1.25M1060.4 229.4h1.25M1053.2 227.4h1.25M1053.1 225.6h1.25M1065.3 225.2h1.25M1064.6 227.4h1.25M1053.4 229.3h1.25M1051.7 230.7h1.25M1064.3 213.2h1.25M1051.1 226.3h1.25M1052.3 226.8h1.25M1052.4 226.8h1.25M1057.0 217.6h1.25M1059.8 212.6h1.25M1051.1 229.6h1.25M1060.5 229.4h1.25M1063.7 212.8h1.25M1068.4 222.2h1.25M1069.1 221.1h1.25M1059.1 229.3h1.25M1065.1 211.1h1.25M1068.0 217.0h1.25M1053.5 221.1h1.25M1057.4 231.7h1.25M1060.2 215.1h1.25M1068.2 215.8h1.25M1056.6 230.8h1.25M1057.5 233.1h1.25M1064.6 224.8h1.25M1062.3 227.4h1.25M1064.4 227.1h1.25M1052.5 230.2h1.25M1054.7 231.8h1.25M1065.7 210.5h1.25M1069.5 213.5h1.25M1059.5 230.0h1.25" stroke="#0098f5" stroke-width="1.25" fill="none"/>
<path d="M1068.8 211.1h1.25M1062.6 212.4h1.25M1068.9 212.5h1.25M1067.8 211.0h1.25M1055.1 229.1h1.25M1062.5 226.9h1.25M1064.7 213.2h1.25M1054.5 221.5h1.25M1062.2 214.2h1.25M1067.9 222.3h1.25M1067.8 213.0h1.25M1068.1 217.3h1.25M1067.0 224.2h1.25M1065.9 225.3h1.25M1069.9 212.5h1.25M1067.4 219.0h1.25M1054.3 221.5h1.25M1052.8 225.0h1.25M1055.6 229.2h1.25M1069.5 215.0h1.25M1052.0 224.2h1.25M1067.3 213.5h1.25M1053.0 229.5h1.25M1054.2 223.1h1.25M1064.0 225.1h1.25M1054.0 226.8h1.25M1056.5 219.3h1.25M1052.7 224.1h1.25M1067.2 219.3h1.25M1052.6 226.0h1.25M1055.5 221.7h1.25M1065.8 222.9h1.25M1056.4 230.5h1.25M1052.6 227.6h1.25M1063.8 212.6h1.25M1059.9 231.4h1.25M1052.7 225.0h1.25M1054.5 223.0h1.25M1067.8 220.9h1.25M1068.3 217.2h1.25M1063.6 225.3h1.25M1056.8 230.6h1.25M1066.9 224.5h1.25M1052.5 229.9h1.25M1054.0 227.9h1.25M1067.6 215.4h1.25M1066.8 212.9h1.25M1065.8 225.4h1.25M1052.6 230.7h1.25M1068.9 218.8h1.25M1059.9 229.3h1.25M1054.4 229.3h1.25M1053.0 229.3h1.25M1055.9 232.9h1.25M1060.4 230.1h1.25M1057.0 230.2h1.25M1053.1 229.2h1.25M1059.1 231.3h1.25M1067.9 217.6h1.25M1055.9 230.9h1.25M1057.4 232.6h1.25M1063.4 227.1h1.25M1053.6 226.1h1.25M1067.0 214.0h1.25M1068.5 214.4h1.25M1067.6 222.7h1.25M1068.4 215.1h1.25M1068.3 215.0h1.25M1052.4 223.4h1.25M1053.8 227.2h1.25M1056.0 232.6h1.25M1054.5 225.3h1.25M1068.1 217.8h1.25M1062.9 226.0h1.25M1054.6 221.8h1.25M1066.6 224.3h1.25M1058.7 215.8h1.25M1067.4 212.6h1.25M1057.9 217.0h1.25M1069.2 212.0h1.25M1052.5 223.2h1.25M1067.1 221.4h1.25M1065.0 213.3h1.25M1065.3 225.0h1.25M1059.8 229.3h1.25M1068.8 213.2h1.25M1060.1 228.0h1.25M1063.8 213.4h1.25M1067.0 221.9h1.25M1065.9 224.1h1.25M1058.4 229.5h1.25M1056.4 216.9h1.25M1053.8 223.7h1.25M1054.1 224.9h1.25M1054.8 226.8h1.25M1066.6 219.5h1.25M1066.7 223.3h1.25M1054.1 229.1h1.25M1066.8 212.3h1.25M1054.4 224.5h1.25M1066.3 221.1h1.25M1059.6 229.7h1.25M1055.3 222.3h1.25M1055.8 232.4h1.25M1054.6 224.0h1.25M1068.2 217.2h1.25M1066.0 211.0h1.25M1054.3 227.5h1.25M1053.8 232.1h1.25M1065.7 223.8h1.25M1058.5 216.5h1.25M1062.8 211.9h1.25M1052.4 229.3h1.25M1053.6 226.6h1.25M1061.8 227.4h1.25M1067.8 221.0h1.25M1058.1 218.1h1.25M1067.9 211.3h1.25M1062.0 228.2h1.25M1054.8 221.9h1.25M1056.4 220.1h1.25M1053.6 225.3h1.25M1055.1 230.6h1.25M1069.0 218.2h1.25M1055.5 230.6h1.25M1068.9 213.5h1.25M1063.6 212.8h1.25M1053.2 226.9h1.25M1054.9 219.2h1.25M1067.4 214.5h1.25M1067.5 221.4h1.25M1056.3 218.8h1.25M1054.3 222.4h1.25M1055.6 229.6h1.25M1066.4 214.1h1.25M1069.2 214.2h1.25M1054.2 230.6h1.25M1062.2 214.2h1.25M1068.2 221.0h1.25M1067.8 213.2h1.25M1064.3 226.9h1.25M1054.7 229.2h1.25M1063.7 224.4h1.25M1055.2 221.1h1.25M1069.3 214.6h1.25M1057.5 218.0h1.25M1056.4 217.3h1.25M1054.3 231.2h1.25M1057.5 219.1h1.25M1062.4 228.2h1.25M1067.7 220.8h1.25M1055.6 228.6h1.25M1064.3 223.7h1.25" stroke="#00b7de" stroke-width="1.25" fill="none"/>
<path d="M1066.2 223.5h1.25M1053.2 230.3h1.25M1060.4 228.2h1.25M1062.9 212.8h1.25M1057.6 216.4h1.25M1059.2 228.1h1.25M1059.2 229.1h1.25M1055.9 221.4h1.25M1052.7 227.0h1.25M1065.1 225.6h1.25M1056.3 229.3h1.25M1057.9 229.8h1.25M1057.3 230.6h1.25M1058.0 215.9h1.25M1060.0 215.2h1.25M1063.4 214.7h1.25M1058.2 228.2h1.25M1053.7 227.1h1.25M1058.6 218.0h1.25M1069.2 215.0h1.25M1056.3 218.2h1.25M1057.9 218.2h1.25M1065.8 220.7h1.25M1057.9 216.3h1.25M1065.3 214.5h1.25M1068.1 212.7h1.25M1053.3 226.5h1.25M1056.7 217.6h1.25M1055.6 227.7h1.25M1054.1 224.1h1.25M1067.4 216.6h1.25M1055.9 223.0h1.25M1058.1 229.6h1.25M1053.0 225.6h1.25M1068.5 218.2h1.25M1066.4 218.3h1.25M1068.1 217.8h1.25M1055.2 220.3h1.25M1062.6 227.5h1.25M1060.0 228.5h1.25M1058.1 217.8h1.25M1057.0 229.9h1.25M1064.9 222.9h1.25M1065.2 212.4h1.25M1063.2 226.5h1.25M1066.4 220.1h1.25M1053.9 228.5h1.25M1059.2 227.9h1.25M1056.0 227.2h1.25M1054.8 223.7h1.25M1065.7 223.8h1.25M1053.2 225.8h1.25M1053.8 227.7h1.25M1054.2 224.8h1.25M1056.2 220.6h1.25M1064.0 213.1h1.25M1054.7 230.6h1.25M1054.2 221.6h1.25M1053.2 226.2h1.25M1066.2 217.4h1.25M1058.2 229.7h1.25M1055.2 222.4h1.25M1061.7 228.7h1.25M1061.1 227.2h1.25M1055.4 219.9h1.25M1054.4 221.3h1.25M1053.4 230.1h1.25M1062.0 212.8h1.25M1064.4 214.8h1.25M1068.7 215.3h1.25M1058.1 228.7h1.25M1060.4 227.1h1.25M1059.6 229.2h1.25M1059.1 228.2h1.25M1057.3 227.9h1.25M1057.0 231.2h1.25M1056.8 220.7h1.25M1055.9 227.8h1.25M1056.2 219.9h1.25M1056.4 222.5h1.25M1060.6 215.4h1.25M1062.2 215.9h1.25M1062.7 227.9h1.25M1066.7 217.3h1.25M1064.3 213.5h1.25M1062.1 213.1h1.25M1063.5 227.2h1.25M1062.4 226.7h1.25M1055.9 229.9h1.25M1066.4 217.4h1.25M1056.5 230.3h1.25M1067.8 218.1h1.25M1057.2 229.5h1.25M1065.9 222.5h1.25M1066.2 213.8h1.25M1054.2 225.0h1.25M1053.1 226.6h1.25M1065.9 218.7h1.25M1067.8 216.0h1.25M1056.0 226.2h1.25M1061.8 225.7h1.25M1061.5 216.3h1.25M1061.6 226.2h1.25M1055.4 227.0h1.25M1056.3 222.4h1.25M1061.1 228.6h1.25M1054.2 222.7h1.25M1060.6 228.1h1.25M1068.2 214.9h1.25M1066.5 214.9h1.25M1066.9 217.9h1.25M1063.6 225.2h1.25M1061.6 225.6h1.25M1065.5 216.6h1.25M1060.8 214.1h1.25M1062.7 215.9h1.25M1059.6 217.9h1.25M1068.1 218.1h1.25M1057.3 228.1h1.25M1056.1 228.1h1.25M1058.9 217.4h1.25M1054.3 225.2h1.25M1062.0 227.0h1.25M1065.4 222.6h1.25M1053.9 225.2h1.25M1059.2 217.2h1.25M1064.7 213.6h1.25M1055.7 222.3h1.25M1055.2 226.5h1.25M1066.4 215.0h1.25M1066.5 218.4h1.25M1055.7 230.1h1.25M1056.3 224.0h1.25M1061.2 215.6h1.25M1056.2 219.0h1.25M1056.4 224.2h1.25M1064.3 223.0h1.25" stroke="#00d7c8" stroke-width="1.25" fill="none"/>
<path d="M1057.4 220.1h1.25M1055.3 227.1h1.25M1058.0 229.9h1.25M1059.2 227.5h1.25M1066.3 214.6h1.25M1067.9 218.0h1.25M1061.3 216.8h1.25M1066.1 222.5h1.25M1055.9 229.2h1.25M1062.7 224.4h1.25M1058.4 230.2h1.25M1059.5 228.1h1.25M1066.6 221.8h1.25M1068.0 217.8h1.25M1056.9 219.3h1.25M1065.5 220.8h1.25M1058.1 218.6h1.25M1056.8 226.2h1.25M1055.7 228.0h1.25M1064.0 224.1h1.25M1065.1 218.0h1.25M1060.2 217.6h1.25M1065.2 223.2h1.25M1055.4 221.8h1.25M1056.3 221.8h1.25M1054.8 229.3h1.25M1067.9 215.8h1.25M1056.2 227.5h1.25M1055.0 227.6h1.25M1054.8 229.6h1.25M1057.0 220.7h1.25M1057.5 228.2h1.25M1064.5 214.9h1.25M1059.4 215.9h1.25M1057.6 227.8h1.25M1064.2 213.9h1.25M1060.4 217.6h1.25M1065.0 216.4h1.25M1067.4 217.4h1.25M1062.4 215.7h1.25M1058.3 227.9h1.25M1066.9 217.2h1.25M1061.7 215.2h1.25M1062.7 226.1h1.25M1058.4 217.7h1.25M1067.4 216.9h1.25M1066.2 215.0h1.25M1067.4 214.4h1.25M1063.9 214.7h1.25M1066.1 217.1h1.25M1055.1 227.9h1.25M1056.5 228.6h1.25M1056.9 221.9h1.25M1061.3 226.7h1.25M1063.3 224.8h1.25M1055.5 221.5h1.25M1059.1 229.0h1.25M1058.8 227.4h1.25M1056.7 228.2h1.25M1055.0 228.3h1.25M1061.0 215.2h1.25M1055.2 224.8h1.25M1056.7 220.1h1.25M1065.0 221.2h1.25M1060.0 227.8h1.25M1064.8 221.6h1.25M1061.4 225.4h1.25M1065.3 216.4h1.25M1066.7 214.8h1.25M1062.3 227.0h1.25M1060.6 228.0h1.25M1064.5 217.8h1.25M1064.1 221.5h1.25M1057.2 221.6h1.25M1057.1 222.0h1.25M1059.1 217.4h1.25M1064.9 219.5h1.25M1066.6 215.9h1.25M1067.6 217.3h1.25M1056.4 226.3h1.25M1061.9 216.8h1.25M1066.9 217.0h1.25M1057.6 218.8h1.25M1060.0 227.2h1.25M1064.9 217.6h1.25M1057.4 229.5h1.25M1057.6 220.2h1.25M1064.7 223.1h1.25M1061.5 227.5h1.25M1059.8 227.6h1.25M1060.4 227.2h1.25M1066.6 215.3h1.25M1055.5 225.7h1.25M1065.7 216.3h1.25M1058.3 220.3h1.25M1066.4 216.7h1.25M1059.6 218.8h1.25M1066.6 217.1h1.25M1060.0 228.7h1.25M1057.0 221.0h1.25M1058.3 217.9h1.25M1063.1 216.6h1.25M1062.5 217.3h1.25M1063.2 223.7h1.25M1060.7 226.3h1.25M1055.4 223.2h1.25M1066.1 217.0h1.25M1062.7 224.3h1.25M1055.7 228.0h1.25M1060.2 216.0h1.25M1065.1 217.8h1.25M1061.4 215.9h1.25M1063.3 224.9h1.25M1060.8 216.5h1.25M1058.4 226.0h1.25M1062.3 224.4h1.25M1063.1 225.3h1.25M1065.9 217.4h1.25M1056.1 222.9h1.25M1056.2 227.6h1.25M1061.4 226.9h1.25M1058.1 225.6h1.25M1057.1 227.3h1.25M1056.7 225.2h1.25M1062.2 216.4h1.25M1062.6 224.9h1.25M1063.3 214.5h1.25M1064.2 223.5h1.25M1063.5 217.7h1.25M1059.1 219.1h1.25M1057.3 223.4h1.25" stroke="#21d97a" stroke-width="1.25" fill="none"/>
<path d="M1057.8 225.6h1.25M1056.6 228.6h1.25M1057.7 219.7h1.25M1056.9 223.0h1.25M1056.2 227.6h1.25M1065.1 214.3h1.25M1062.7 225.7h1.25M1059.6 218.4h1.25M1057.9 225.6h1.25M1064.1 220.6h1.25M1064.6 214.9h1.25M1060.3 225.2h1.25M1059.7 227.8h1.25M1056.9 226.1h1.25M1065.6 220.9h1.25M1057.1 226.7h1.25M1065.3 217.4h1.25M1064.9 215.6h1.25M1057.2 223.8h1.25M1063.0 225.3h1.25M1056.7 221.1h1.25M1058.9 218.6h1.25M1064.5 220.5h1.25M1063.6 217.0h1.25M1060.7 227.2h1.25M1065.0 220.6h1.25M1059.6 227.1h1.25M1057.0 228.0h1.25M1056.8 224.7h1.25M1066.5 218.5h1.25M1064.6 217.7h1.25M1055.2 225.3h1.25M1062.8 214.7h1.25M1058.3 221.0h1.25M1063.1 216.6h1.25M1059.3 227.4h1.25M1058.7 228.6h1.25M1056.3 225.4h1.25M1057.9 219.9h1.25M1060.7 226.6h1.25M1057.7 223.2h1.25M1057.1 224.9h1.25M1065.8 214.8h1.25M1063.0 216.7h1.25M1066.0 215.0h1.25M1059.5 218.5h1.25M1056.4 226.5h1.25M1064.9 214.8h1.25M1064.5 218.6h1.25M1060.1 226.1h1.25M1063.9 222.9h1.25M1055.9 226.0h1.25M1057.4 225.2h1.25M1063.9 219.1h1.25M1056.8 226.1h1.25M1065.8 218.4h1.25M1057.2 222.3h1.25M1056.0 223.3h1.25M1065.2 219.7h1.25M1063.6 217.3h1.25M1062.9 218.5h1.25M1061.7 217.5h1.25M1064.9 218.7h1.25M1063.8 218.3h1.25M1062.5 218.2h1.25M1061.5 216.9h1.25M1065.4 217.4h1.25M1063.8 219.5h1.25M1059.8 226.5h1.25M1065.1 221.1h1.25M1057.4 224.6h1.25M1064.6 222.7h1.25M1059.3 218.1h1.25M1063.7 221.1h1.25M1058.7 225.9h1.25M1063.2 217.0h1.25M1058.8 225.8h1.25M1060.0 219.2h1.25M1057.8 223.8h1.25M1061.1 216.5h1.25M1057.6 228.1h1.25M1065.4 221.1h1.25M1064.2 221.1h1.25M1059.1 226.1h1.25M1065.2 220.0h1.25M1057.7 224.4h1.25M1062.1 218.1h1.25M1062.5 222.3h1.25M1058.4 222.3h1.25M1060.9 216.3h1.25M1060.9 217.7h1.25M1057.1 226.0h1.25M1057.4 225.8h1.25M1062.8 215.7h1.25M1063.9 218.6h1.25" stroke="#4fdd35" stroke-width="1.25" fill="none"/>
<path d="M1064.0 223.2h1.25M1058.2 220.1h1.25M1061.2 219.0h1.25M1055.6 226.4h1.25M1060.7 224.5h1.25M1058.1 222.2h1.25M1063.7 218.8h1.25M1057.1 227.4h1.25M1062.9 223.8h1.25M1059.2 225.0h1.25M1064.4 215.6h1.25M1057.7 221.9h1.25M1063.0 222.3h1.25M1061.1 223.4h1.25M1062.1 217.7h1.25M1064.1 221.9h1.25M1059.9 218.9h1.25M1060.3 224.4h1.25M1060.0 219.5h1.25M1064.5 222.3h1.25M1057.1 225.8h1.25M1062.6 215.6h1.25M1057.1 221.2h1.25M1064.2 219.6h1.25M1063.6 216.9h1.25M1060.2 219.6h1.25M1057.4 223.8h1.25M1057.4 222.3h1.25M1063.5 220.5h1.25M1065.1 217.3h1.25M1064.4 218.5h1.25M1064.5 222.2h1.25M1058.9 222.1h1.25M1063.3 217.0h1.25M1062.4 223.4h1.25M1059.8 219.6h1.25M1062.5 219.2h1.25M1062.5 221.8h1.25M1063.5 221.2h1.25M1064.1 222.2h1.25M1061.3 218.8h1.25M1058.0 224.0h1.25M1059.1 226.0h1.25M1062.1 219.0h1.25M1058.4 222.6h1.25M1058.4 225.5h1.25M1061.5 219.5h1.25M1056.4 223.1h1.25M1057.5 227.1h1.25M1062.7 222.6h1.25M1056.0 224.4h1.25M1065.1 219.2h1.25M1064.6 218.2h1.25M1062.8 217.2h1.25M1060.4 225.2h1.25M1058.0 224.7h1.25M1059.3 224.6h1.25M1063.0 216.1h1.25M1059.8 220.1h1.25M1058.8 224.0h1.25M1063.2 219.3h1.25M1062.3 224.0h1.25M1061.1 225.2h1.25M1059.9 223.5h1.25M1064.7 221.3h1.25M1064.3 218.3h1.25M1063.7 217.2h1.25M1061.2 219.2h1.25M1058.9 220.6h1.25M1056.8 225.7h1.25M1057.7 223.2h1.25M1062.8 217.2h1.25M1058.1 224.7h1.25M1058.8 225.5h1.25M1061.8 221.9h1.25M1061.5 217.2h1.25M1064.7 217.2h1.25M1063.1 217.4h1.25M1057.6 220.9h1.25M1058.3 220.4h1.25M1060.6 224.3h1.25M1062.5 221.2h1.25M1064.8 219.4h1.25M1058.7 221.7h1.25M1065.1 218.1h1.25M1059.7 223.0h1.25M1062.2 224.2h1.25M1060.8 225.0h1.25M1059.3 220.4h1.25" stroke="#b3e214" stroke-width="1.25" fill="none"/>
<path d="M1059.0 221.0h1.25M1063.8 222.3h1.25M1063.1 219.2h1.25M1064.5 217.4h1.25M1057.8 226.5h1.25M1058.4 223.0h1.25M1060.4 219.7h1.25M1059.9 220.0h1.25M1061.2 222.4h1.25M1058.7 224.8h1.25M1061.9 221.3h1.25M1061.2 225.1h1.25M1057.5 225.3h1.25M1057.8 220.9h1.25M1064.3 218.3h1.25M1061.7 217.1h1.25M1059.8 224.6h1.25M1063.0 221.4h1.25M1057.3 222.8h1.25M1059.9 224.3h1.25M1063.5 220.1h1.25M1059.0 221.5h1.25M1057.2 224.6h1.25M1059.8 223.4h1.25M1061.4 219.9h1.25M1060.6 218.7h1.25M1063.2 218.2h1.25M1062.7 219.1h1.25M1059.1 226.2h1.25M1062.8 220.8h1.25M1063.0 218.0h1.25M1057.9 225.2h1.25M1059.5 223.8h1.25M1061.9 218.2h1.25M1063.1 217.2h1.25M1059.6 220.0h1.25M1061.3 224.5h1.25M1061.6 222.2h1.25M1063.7 220.0h1.25M1058.6 225.4h1.25M1062.3 218.3h1.25M1059.0 220.2h1.25M1060.2 225.3h1.25M1062.3 220.1h1.25M1060.8 222.5h1.25M1062.6 218.3h1.25M1061.8 219.9h1.25M1060.0 221.0h1.25M1062.7 220.5h1.25M1059.0 220.1h1.25M1063.5 220.6h1.25M1059.3 223.5h1.25M1059.6 221.5h1.25M1060.4 219.4h1.25M1062.4 221.0h1.25M1063.5 220.1h1.25M1057.7 224.0h1.25M1061.0 219.3h1.25M1064.2 219.1h1.25M1058.3 222.6h1.25M1061.0 224.6h1.25M1062.2 219.9h1.25M1061.9 219.8h1.25M1063.8 218.2h1.25M1060.2 225.0h1.25M1063.2 221.9h1.25M1059.8 223.2h1.25M1062.1 218.0h1.25M1062.8 221.1h1.25M1061.2 222.5h1.25M1061.1 219.5h1.25M1058.6 222.4h1.25M1061.3 220.0h1.25M1060.8 220.5h1.25M1062.4 223.2h1.25" stroke="#f5c800" stroke-width="1.25" fill="none"/>
<path d="M1058.2 223.9h1.25M1059.0 222.4h1.25M1060.1 219.7h1.25M1059.2 222.6h1.25M1063.6 219.4h1.25M1063.4 220.5h1.25M1058.7 223.9h1.25M1061.2 219.6h1.25M1062.8 220.5h1.25M1061.1 222.2h1.25M1063.2 221.1h1.25M1062.2 219.2h1.25M1059.3 223.7h1.25M1060.7 222.6h1.25M1060.9 220.8h1.25M1062.2 219.5h1.25M1058.7 222.1h1.25M1060.1 222.2h1.25M1061.4 222.2h1.25M1058.7 223.8h1.25M1058.4 223.0h1.25M1062.2 221.7h1.25M1059.5 220.7h1.25M1061.9 219.9h1.25M1059.4 222.2h1.25M1060.3 223.0h1.25" stroke="#fc7903" stroke-width="1.25" fill="none"/>
<path d="M1060.2 223.4h1.25M1061.4 222.1h1.25M1060.6 221.2h1.25M1058.9 222.7h1.25M1061.8 221.8h1.25M1060.7 222.3h1.25M1059.8 222.9h1.25M1062.1 220.4h1.25M1059.3 222.1h1.25M1060.4 221.8h1.25M1061.5 220.4h1.25" stroke="#f01e14" stroke-width="1.25" fill="none"/>
<path d="M1054.8 214.8h1.25M1057.0 210.8h1.25M1057.1 209.1h1.25M1058.0 206.0h1.25M1058.8 220.9h1.25M1059.7 210.3h1.25M1059.9 211.1h1.25M1062.1 218.6h1.25M1066.8 191.4h1.25M1067.5 217.4h1.25M1067.6 197.8h1.25M1068.3 216.6h1.25M1070.1 214.3h1.25M1071.1 195.0h1.25M1074.1 214.9h1.25M1074.6 216.1h1.25M1075.0 191.5h1.25M1076.2 189.4h1.25M1076.9 211.8h1.25M1079.7 202.4h1.25M1080.3 185.2h1.25M1080.5 187.3h1.25M1080.8 204.8h1.25M1081.0 189.5h1.25M1082.5 195.2h1.25M1083.0 202.9h1.25M1083.6 194.6h1.25M1083.8 198.9h1.25M1089.9 203.1h1.25M1079.7 207.8h1.25M1075.4 210.9h1.25M1060.3 219.0h1.25M1069.0 197.8h1.25M1076.2 189.8h1.25M1074.7 190.0h1.25M1059.1 208.4h1.25M1058.2 216.8h1.25M1083.3 198.8h1.25M1084.6 191.8h1.25M1060.4 220.1h1.25M1061.6 204.3h1.25M1056.1 211.3h1.25M1080.8 192.8h1.25M1076.6 207.0h1.25M1078.9 188.6h1.25M1069.1 218.0h1.25M1092.8 194.0h1.25M1073.6 194.1h1.25" stroke="#2828ff" stroke-width="1.25" fill="none"/>
<path d="M1086.5 193.3h1.25M1064.0 201.2h1.25M1070.1 197.7h1.25M1078.3 204.6h1.25M1063.0 204.7h1.25M1058.7 211.1h1.25M1078.4 203.6h1.25M1076.3 195.2h1.25M1079.4 201.8h1.25M1074.3 193.1h1.25M1075.1 207.5h1.25M1061.6 216.2h1.25M1063.2 206.3h1.25M1071.8 213.7h1.25M1064.0 219.1h1.25M1061.1 218.2h1.25M1071.2 211.4h1.25M1085.3 185.5h1.25M1073.0 210.6h1.25M1076.1 207.0h1.25M1069.7 197.1h1.25M1079.5 195.8h1.25M1078.1 200.7h1.25M1070.7 196.3h1.25M1062.6 216.1h1.25M1070.1 214.2h1.25M1067.5 199.0h1.25M1069.7 199.0h1.25M1061.4 212.9h1.25M1076.6 196.3h1.25M1064.4 215.2h1.25M1060.7 209.9h1.25M1079.8 196.1h1.25M1063.9 205.9h1.25M1067.2 213.8h1.25M1061.5 216.3h1.25M1062.4 207.2h1.25M1066.0 203.0h1.25M1077.1 196.8h1.25" stroke="#1c43ff" stroke-width="1.25" fill="none"/>
<path d="M1075.8 204.9h1.25M1065.1 205.2h1.25M1075.2 207.6h1.25M1073.5 196.4h1.25M1075.8 196.3h1.25M1074.3 207.4h1.25M1071.3 197.3h1.25M1068.0 213.9h1.25M1073.4 197.3h1.25M1077.5 197.9h1.25M1061.9 208.9h1.25M1063.0 210.8h1.25M1072.2 196.7h1.25M1061.0 212.5h1.25M1067.3 202.3h1.25M1074.8 206.9h1.25M1072.0 209.3h1.25M1079.2 196.5h1.25M1066.1 203.9h1.25M1068.8 212.0h1.25M1077.4 203.2h1.25M1072.6 208.8h1.25M1063.2 213.8h1.25M1074.2 207.8h1.25M1076.4 197.6h1.25M1064.8 213.0h1.25M1077.5 198.3h1.25M1063.0 214.2h1.25M1066.4 203.0h1.25M1063.2 212.9h1.25M1063.5 211.7h1.25M1075.3 206.8h1.25M1067.5 201.0h1.25M1076.9 203.0h1.25M1078.0 201.0h1.25M1063.4 207.4h1.25M1071.3 198.6h1.25M1074.3 206.5h1.25M1074.1 207.9h1.25M1076.3 203.4h1.25M1074.9 204.1h1.25M1076.2 197.4h1.25M1069.0 200.7h1.25M1063.7 211.6h1.25M1075.2 203.3h1.25M1070.7 210.0h1.25M1077.9 200.8h1.25M1067.1 201.8h1.25M1066.7 204.0h1.25M1073.2 199.2h1.25M1063.5 213.2h1.25M1063.2 212.0h1.25" stroke="#115fff" stroke-width="1.25" fill="none"/>
<path d="M1062.5 212.5h1.25M1077.0 198.6h1.25M1075.3 204.6h1.25M1066.5 213.4h1.25M1063.8 213.6h1.25M1068.9 200.1h1.25M1073.1 207.3h1.25M1069.3 210.9h1.25M1075.3 205.0h1.25M1075.5 198.9h1.25M1065.0 212.4h1.25M1062.4 212.0h1.25M1073.9 198.2h1.25M1076.9 199.0h1.25M1074.4 198.0h1.25M1076.3 200.5h1.25M1068.6 211.6h1.25M1062.6 212.7h1.25M1065.0 205.6h1.25M1064.6 213.7h1.25M1072.9 198.7h1.25M1066.4 212.1h1.25M1065.1 211.4h1.25M1072.1 208.2h1.25M1075.3 198.4h1.25M1075.5 201.3h1.25M1064.1 213.3h1.25M1064.8 213.1h1.25M1070.0 209.3h1.25M1071.6 199.4h1.25M1076.0 198.6h1.25M1071.8 208.0h1.25M1063.5 209.5h1.25M1075.4 201.3h1.25M1068.8 201.7h1.25M1076.0 198.3h1.25M1074.4 202.8h1.25M1065.7 210.1h1.25M1075.1 203.6h1.25M1066.2 205.0h1.25M1075.9 197.9h1.25M1072.6 199.6h1.25M1074.3 206.1h1.25M1068.1 202.4h1.25M1074.3 204.6h1.25M1065.7 209.6h1.25M1074.1 203.2h1.25M1068.8 211.3h1.25M1074.2 203.5h1.25M1066.0 210.7h1.25M1074.3 200.6h1.25M1066.3 212.7h1.25M1075.3 203.0h1.25M1072.7 198.9h1.25M1067.6 211.4h1.25M1070.3 200.7h1.25M1067.7 205.0h1.25M1068.3 203.8h1.25" stroke="#067bff" stroke-width="1.25" fill="none"/>
<path d="M1065.4 211.3h1.25M1070.9 200.2h1.25M1067.8 211.4h1.25M1064.1 211.3h1.25M1069.8 209.2h1.25M1067.4 211.4h1.25M1069.2 203.1h1.25M1064.0 209.4h1.25M1071.8 208.6h1.25M1065.9 206.8h1.25M1074.6 201.1h1.25M1070.2 201.8h1.25M1073.7 204.1h1.25M1070.8 208.4h1.25M1074.4 200.7h1.25M1074.0 199.4h1.25M1066.1 209.3h1.25M1070.6 207.7h1.25M1070.8 200.5h1.25M1071.4 199.8h1.25M1068.8 202.8h1.25M1066.3 207.0h1.25M1073.1 201.3h1.25M1066.1 209.1h1.25M1073.8 202.8h1.25M1074.2 199.6h1.25M1069.8 208.5h1.25M1073.0 199.5h1.25M1070.4 209.5h1.25M1075.5 201.2h1.25M1074.6 204.3h1.25M1072.9 205.9h1.25M1066.9 207.3h1.25M1068.3 209.8h1.25M1074.7 201.7h1.25M1071.3 201.8h1.25M1072.4 200.1h1.25M1071.0 206.9h1.25M1072.6 206.1h1.25M1069.9 203.5h1.25M1069.9 208.7h1.25M1072.8 202.6h1.25M1066.3 208.4h1.25M1073.1 201.3h1.25" stroke="#0098f5" stroke-width="1.25" fill="none"/>
<path d="M1065.8 209.4h1.25M1074.2 203.8h1.25M1068.0 209.3h1.25M1073.6 204.2h1.25M1066.6 209.1h1.25M1067.9 206.6h1.25M1070.6 208.5h1.25M1072.2 203.0h1.25M1069.2 209.6h1.25M1072.8 200.8h1.25M1065.9 207.6h1.25M1071.5 207.0h1.25M1068.8 208.1h1.25M1070.0 202.5h1.25M1068.1 206.7h1.25M1073.1 204.9h1.25M1073.2 203.2h1.25M1069.4 207.5h1.25M1070.4 207.8h1.25M1069.8 202.4h1.25M1068.0 205.8h1.25M1069.7 203.6h1.25M1069.7 203.0h1.25M1073.8 201.5h1.25M1067.2 206.2h1.25M1073.9 202.9h1.25M1067.8 207.4h1.25M1073.7 203.2h1.25M1067.3 207.6h1.25M1068.7 207.1h1.25M1068.4 206.2h1.25M1068.6 204.0h1.25M1072.8 203.5h1.25M1068.8 206.8h1.25M1067.7 207.5h1.25M1071.1 204.1h1.25M1070.6 203.5h1.25M1069.8 206.4h1.25M1071.4 202.8h1.25" stroke="#00b7de" stroke-width="1.25" fill="none"/>
<path d="M1067.9 206.6h1.25M1069.8 204.2h1.25M1072.9 203.2h1.25M1070.8 206.1h1.25M1071.1 203.5h1.25M1067.9 207.9h1.25M1068.6 205.6h1.25M1070.7 205.6h1.25M1067.9 207.5h1.25M1068.3 205.5h1.25M1070.6 204.2h1.25M1070.3 204.3h1.25M1070.1 205.5h1.25M1068.9 206.6h1.25M1069.5 206.6h1.25M1069.2 206.9h1.25M1068.6 206.4h1.25" stroke="#00d7c8" stroke-width="1.25" fill="none"/>
<path d="M1069.8 206.7h1.25M1070.1 206.2h1.25M1070.7 204.6h1.25" stroke="#21d97a" stroke-width="1.25" fill="none"/>
<path d="M1087.8 118.8h1.1M1106.6 152.9h1.1M1064.3 164.6h1.1M1076.4 169.4h1.1M1028.3 218.4h1.1M1113.0 215.6h1.1M1137.0 210.0h1.1M1143.0 203.0h1.1M1147.0 203.5h1.1M1151.0 209.5h1.1M1150.0 217.0h1.1M1146.0 221.0h1.1M1139.0 221.0h1.1M1137.0 216.5h1.1M1144.0 215.0h1.1M1050.0 253.0h1.1M1044.0 258.0h1.1M1040.0 248.0h1.1M1036.0 240.0h1.1" stroke="#4a4aff" stroke-width="1.1" fill="none" opacity="0.85"/>
<path d="M1289.4 240.5h1.25M1291.4 253.8h1.25M1291.4 259.0h1.25M1291.7 253.2h1.25M1293.7 246.7h1.25M1294.2 250.6h1.25M1294.8 230.6h1.25M1295.3 266.0h1.25M1295.4 250.6h1.25M1295.4 256.3h1.25M1295.7 241.3h1.25M1296.1 228.0h1.25M1296.2 251.8h1.25M1296.4 238.0h1.25M1297.0 252.6h1.25M1297.0 238.8h1.25M1297.3 231.7h1.25M1297.3 284.6h1.25M1297.5 260.1h1.25M1297.8 279.5h1.25M1297.8 247.2h1.25M1297.9 238.8h1.25M1298.1 250.8h1.25M1298.1 245.5h1.25M1298.3 244.7h1.25M1298.4 238.6h1.25M1298.5 235.4h1.25M1298.7 242.5h1.25M1298.7 256.0h1.25M1298.7 255.0h1.25M1298.9 253.9h1.25M1298.9 227.7h1.25M1299.1 243.6h1.25M1299.2 226.5h1.25M1299.5 254.4h1.25M1299.5 238.1h1.25M1299.5 257.5h1.25M1299.5 260.6h1.25M1299.6 250.4h1.25M1299.7 253.0h1.25M1300.2 257.6h1.25M1300.3 250.3h1.25M1300.4 226.1h1.25M1300.4 223.5h1.25M1300.7 279.7h1.25M1300.7 256.2h1.25M1301.0 231.1h1.25M1301.3 230.2h1.25M1301.7 223.8h1.25M1302.0 255.8h1.25M1302.7 216.1h1.25M1302.8 260.3h1.25M1303.1 224.0h1.25M1303.1 257.1h1.25M1303.2 214.6h1.25M1303.4 220.3h1.25M1303.5 223.9h1.25M1303.6 292.2h1.25M1303.8 269.5h1.25M1304.0 257.0h1.25M1304.9 220.4h1.25M1305.1 259.3h1.25M1305.3 217.3h1.25M1305.3 217.5h1.25M1305.5 257.1h1.25M1306.2 257.4h1.25M1306.3 211.7h1.25M1306.4 218.5h1.25M1306.5 259.6h1.25M1306.7 212.0h1.25M1306.8 212.7h1.25M1306.9 217.9h1.25M1307.1 273.8h1.25M1307.3 266.7h1.25M1307.5 213.1h1.25M1307.7 216.3h1.25M1308.0 257.9h1.25M1308.0 262.5h1.25M1308.9 256.9h1.25M1309.3 259.4h1.25M1309.4 214.0h1.25M1309.4 212.5h1.25M1309.5 211.1h1.25M1309.9 256.8h1.25M1310.2 214.7h1.25M1310.5 209.7h1.25M1310.5 196.1h1.25M1310.9 267.3h1.25M1311.1 260.0h1.25M1311.4 254.9h1.25M1311.6 255.2h1.25M1311.6 257.7h1.25M1311.6 216.1h1.25M1311.6 209.1h1.25M1311.8 218.3h1.25M1311.8 217.4h1.25M1311.9 258.6h1.25M1312.3 216.2h1.25M1312.8 263.5h1.25M1313.0 216.5h1.25M1313.1 262.7h1.25M1313.1 215.0h1.25M1313.3 253.0h1.25M1313.3 217.6h1.25M1313.4 207.3h1.25M1313.5 254.8h1.25M1313.7 214.3h1.25M1313.7 262.3h1.25M1314.0 256.3h1.25M1314.0 216.6h1.25M1314.1 257.6h1.25M1314.3 251.3h1.25M1314.3 218.3h1.25M1314.4 271.2h1.25M1314.9 248.5h1.25M1314.9 253.2h1.25M1315.0 254.3h1.25M1315.2 216.4h1.25M1315.3 246.4h1.25M1315.4 250.4h1.25M1315.7 218.8h1.25M1316.2 254.2h1.25M1316.4 202.8h1.25M1316.4 213.6h1.25M1316.4 263.6h1.25M1316.6 217.3h1.25M1316.6 260.1h1.25M1316.7 251.4h1.25M1317.2 246.4h1.25M1317.2 251.0h1.25M1317.2 252.2h1.25M1317.3 218.1h1.25M1317.5 244.5h1.25M1317.6 218.9h1.25M1317.6 223.1h1.25M1317.9 244.9h1.25M1318.0 256.6h1.25M1318.1 223.1h1.25M1318.2 222.2h1.25M1318.4 248.8h1.25M1318.5 215.9h1.25M1318.8 225.9h1.25M1318.9 235.4h1.25M1319.0 203.4h1.25M1319.0 219.8h1.25M1319.1 238.3h1.25M1319.1 239.4h1.25M1319.2 223.5h1.25M1319.3 234.4h1.25M1319.3 225.1h1.25M1319.3 223.7h1.25M1319.5 231.1h1.25M1319.5 261.4h1.25M1319.5 226.1h1.25M1319.6 209.6h1.25M1320.3 209.8h1.25M1320.8 238.7h1.25M1321.0 232.6h1.25M1321.3 227.6h1.25M1321.4 231.5h1.25M1321.5 184.8h1.25M1321.7 243.6h1.25M1321.9 238.3h1.25M1322.7 220.9h1.25M1323.7 212.3h1.25M1324.4 239.9h1.25M1324.5 243.7h1.25M1324.8 240.7h1.25M1325.2 228.8h1.25M1325.9 236.0h1.25M1327.0 220.4h1.25M1318.2 229.4h1.25M1318.0 217.3h1.25M1310.1 261.4h1.25M1317.9 229.4h1.25M1322.7 249.0h1.25M1325.9 246.1h1.25M1299.0 239.5h1.25M1321.6 238.2h1.25M1319.1 226.3h1.25M1298.9 260.1h1.25M1319.2 233.4h1.25M1319.3 197.3h1.25M1299.0 255.3h1.25M1300.0 262.9h1.25M1298.5 254.4h1.25M1317.9 230.7h1.25M1299.3 237.6h1.25M1304.1 221.2h1.25M1299.9 244.3h1.25M1313.7 263.5h1.25M1313.4 215.2h1.25M1300.4 220.8h1.25M1316.7 223.9h1.25M1289.0 255.8h1.25M1314.8 218.6h1.25M1319.0 233.5h1.25M1312.9 252.0h1.25M1319.1 213.8h1.25M1314.7 214.8h1.25M1302.6 225.8h1.25M1304.3 268.6h1.25M1308.3 257.0h1.25M1318.7 210.7h1.25M1307.2 261.1h1.25M1317.2 242.3h1.25M1306.6 219.2h1.25M1298.8 257.3h1.25M1309.8 261.2h1.25M1312.8 206.6h1.25M1297.5 257.9h1.25M1311.7 256.5h1.25M1297.6 249.3h1.25M1317.7 230.2h1.25M1297.2 227.0h1.25M1318.3 237.8h1.25M1317.7 234.8h1.25M1302.3 252.8h1.25M1309.8 216.6h1.25M1300.8 248.0h1.25M1297.5 236.5h1.25M1289.2 268.0h1.25M1295.2 252.6h1.25M1303.6 257.6h1.25M1299.2 255.9h1.25M1304.8 213.2h1.25M1305.2 218.6h1.25M1302.1 259.9h1.25M1298.5 246.5h1.25M1317.5 227.1h1.25M1310.8 254.1h1.25M1320.0 252.5h1.25M1298.8 255.0h1.25M1307.1 255.1h1.25M1300.8 220.2h1.25M1321.4 250.2h1.25M1309.9 256.9h1.25M1302.3 224.7h1.25" stroke="#2828ff" stroke-width="1.25" fill="none"/>
<path d="M1322.1 219.4h1.25M1285.6 251.0h1.25M1320.1 228.9h1.25M1314.2 253.8h1.25M1314.1 219.7h1.25M1298.5 248.4h1.25M1322.7 225.6h1.25M1301.1 230.8h1.25M1321.7 264.5h1.25M1297.3 240.7h1.25M1315.7 244.8h1.25M1321.4 247.0h1.25M1317.0 238.2h1.25M1295.1 231.7h1.25M1318.3 255.1h1.25M1320.3 235.8h1.25M1318.3 230.3h1.25M1297.9 230.8h1.25M1310.6 218.5h1.25M1304.1 255.5h1.25M1303.4 226.2h1.25M1309.7 269.9h1.25M1306.4 254.9h1.25M1304.9 224.4h1.25M1310.4 253.4h1.25M1301.0 231.1h1.25M1308.1 213.5h1.25M1299.9 247.8h1.25M1306.4 254.3h1.25M1299.7 239.6h1.25M1303.1 221.3h1.25M1305.0 222.8h1.25M1313.9 248.4h1.25M1305.1 224.1h1.25M1318.4 251.1h1.25M1308.0 257.6h1.25M1297.7 214.6h1.25M1313.3 220.1h1.25M1319.9 233.6h1.25M1311.4 252.0h1.25M1320.1 245.3h1.25M1321.2 239.0h1.25M1305.0 257.5h1.25M1302.1 258.0h1.25M1306.5 263.2h1.25M1298.2 257.7h1.25M1317.9 227.8h1.25M1305.5 222.3h1.25M1317.0 220.6h1.25M1318.5 227.7h1.25M1307.7 253.5h1.25M1310.9 255.3h1.25M1309.0 213.9h1.25M1301.2 233.2h1.25M1298.7 248.1h1.25M1309.0 214.6h1.25M1310.7 252.5h1.25M1308.1 257.5h1.25M1311.3 219.6h1.25M1312.6 220.4h1.25M1303.9 214.7h1.25M1287.9 241.9h1.25M1308.8 253.0h1.25M1307.1 204.7h1.25M1303.9 198.8h1.25M1315.1 222.7h1.25M1326.5 232.0h1.25M1312.0 260.5h1.25M1298.4 254.9h1.25M1304.6 259.4h1.25M1308.5 220.5h1.25M1319.2 236.0h1.25M1299.7 250.3h1.25M1300.3 242.1h1.25M1306.0 268.4h1.25M1322.2 234.0h1.25M1295.1 247.4h1.25M1313.7 248.2h1.25M1306.1 257.0h1.25M1317.9 238.2h1.25M1316.8 240.0h1.25M1298.3 245.5h1.25M1312.4 217.2h1.25M1295.3 222.6h1.25M1302.3 224.2h1.25M1323.6 218.4h1.25M1303.6 224.1h1.25M1301.3 255.1h1.25M1316.1 222.8h1.25M1322.1 211.5h1.25M1315.5 223.0h1.25M1319.2 256.4h1.25M1316.3 242.1h1.25M1300.6 227.9h1.25M1306.2 223.5h1.25M1313.4 253.9h1.25M1300.5 236.1h1.25M1311.2 260.8h1.25M1299.9 264.6h1.25M1302.2 250.3h1.25M1303.6 252.7h1.25M1295.3 251.4h1.25M1317.5 229.1h1.25M1305.3 253.4h1.25M1307.3 203.9h1.25M1307.0 254.9h1.25M1318.8 229.7h1.25M1312.0 202.1h1.25M1300.3 238.4h1.25M1297.9 227.5h1.25M1308.3 254.6h1.25M1316.2 223.4h1.25M1297.0 249.7h1.25M1311.2 255.0h1.25M1314.3 246.5h1.25M1318.1 240.4h1.25M1328.4 226.1h1.25M1299.2 249.7h1.25M1310.0 221.2h1.25M1300.7 225.5h1.25M1312.6 214.4h1.25M1293.6 229.3h1.25M1319.1 230.0h1.25M1304.6 218.3h1.25M1302.6 249.6h1.25M1296.8 242.1h1.25M1317.8 243.9h1.25M1301.3 224.6h1.25M1300.0 247.9h1.25M1299.2 253.5h1.25M1306.9 254.8h1.25M1310.7 216.5h1.25M1312.6 249.3h1.25M1316.7 242.5h1.25M1317.6 229.9h1.25M1307.5 258.8h1.25M1328.8 207.2h1.25M1301.8 232.7h1.25M1308.0 255.1h1.25M1299.7 250.8h1.25M1313.4 200.4h1.25M1298.6 246.0h1.25M1311.5 211.1h1.25M1316.9 238.9h1.25M1315.4 256.2h1.25M1314.5 248.2h1.25M1314.9 252.0h1.25M1319.7 235.4h1.25M1317.3 223.5h1.25M1319.0 233.0h1.25M1307.5 254.9h1.25M1317.9 230.1h1.25M1316.4 226.7h1.25M1317.7 227.1h1.25" stroke="#1c43ff" stroke-width="1.25" fill="none"/>
<path d="M1317.1 228.0h1.25M1304.3 251.8h1.25M1307.5 253.0h1.25M1316.1 243.7h1.25M1303.2 223.8h1.25M1312.3 248.6h1.25M1317.1 235.1h1.25M1300.8 239.3h1.25M1302.6 230.1h1.25M1304.7 257.2h1.25M1302.4 249.5h1.25M1305.6 225.4h1.25M1301.7 227.5h1.25M1309.6 217.9h1.25M1311.8 249.1h1.25M1303.2 249.7h1.25M1308.7 221.9h1.25M1318.4 235.0h1.25M1306.5 220.9h1.25M1300.6 252.2h1.25M1311.8 220.8h1.25M1306.0 220.8h1.25M1309.5 219.5h1.25M1302.8 227.3h1.25M1303.9 224.2h1.25M1308.0 220.4h1.25M1316.4 224.6h1.25M1316.5 234.7h1.25M1303.6 229.5h1.25M1302.5 255.0h1.25M1311.1 220.4h1.25M1316.9 235.3h1.25M1305.3 224.8h1.25M1308.8 220.5h1.25M1302.7 225.5h1.25M1302.9 252.1h1.25M1317.0 224.2h1.25M1303.5 250.4h1.25M1305.6 225.9h1.25M1315.7 239.8h1.25M1304.8 256.0h1.25M1317.8 239.1h1.25M1316.4 236.6h1.25M1309.9 250.8h1.25M1316.9 221.6h1.25M1303.6 226.2h1.25M1312.6 221.0h1.25M1314.4 221.9h1.25M1313.3 222.5h1.25M1315.0 242.6h1.25M1314.9 242.0h1.25M1309.0 219.2h1.25M1313.4 218.5h1.25M1300.6 239.0h1.25M1301.0 231.4h1.25M1313.0 250.8h1.25M1303.7 225.4h1.25M1314.3 218.7h1.25M1299.4 237.7h1.25M1304.9 225.4h1.25M1303.3 225.8h1.25M1314.8 245.6h1.25M1300.7 247.9h1.25M1300.3 244.0h1.25M1311.1 252.3h1.25M1317.8 228.0h1.25M1317.1 227.6h1.25M1309.9 250.3h1.25M1306.7 222.1h1.25M1308.3 222.4h1.25M1312.2 248.0h1.25M1311.6 249.8h1.25M1316.5 227.6h1.25M1303.3 231.3h1.25M1308.8 221.7h1.25M1312.7 250.0h1.25M1316.5 238.5h1.25M1301.4 231.1h1.25M1314.5 223.8h1.25M1317.2 233.0h1.25M1317.0 231.4h1.25M1314.3 225.4h1.25M1306.7 223.2h1.25M1302.2 250.3h1.25M1312.8 250.6h1.25M1301.4 245.9h1.25M1313.9 219.9h1.25M1306.9 251.3h1.25M1315.8 236.9h1.25M1301.9 251.4h1.25M1306.0 226.2h1.25M1313.1 248.0h1.25M1317.4 229.8h1.25M1310.9 222.3h1.25M1303.5 226.3h1.25M1306.5 252.2h1.25M1309.9 252.8h1.25M1306.6 225.6h1.25M1308.9 223.2h1.25M1308.6 221.2h1.25M1308.0 251.6h1.25M1301.0 239.5h1.25M1317.5 232.3h1.25M1306.7 251.1h1.25M1308.4 222.0h1.25M1313.7 220.7h1.25M1301.7 238.3h1.25M1302.9 248.5h1.25" stroke="#115fff" stroke-width="1.25" fill="none"/>
<path d="M1316.7 229.9h1.25M1315.5 246.1h1.25M1314.3 221.3h1.25M1314.3 224.6h1.25M1317.9 230.0h1.25M1310.6 250.1h1.25M1317.7 235.6h1.25M1300.0 243.4h1.25M1314.4 226.2h1.25M1300.7 245.0h1.25M1305.1 250.7h1.25M1302.1 244.8h1.25M1300.8 239.8h1.25M1307.3 251.4h1.25M1302.2 232.9h1.25M1312.7 223.7h1.25M1311.6 223.4h1.25M1300.6 238.2h1.25M1300.7 241.6h1.25M1301.9 239.1h1.25M1313.2 245.1h1.25M1301.6 239.5h1.25M1308.8 252.2h1.25M1310.5 222.7h1.25M1314.7 240.2h1.25M1304.9 223.6h1.25M1306.0 222.5h1.25M1314.5 247.5h1.25M1303.3 228.7h1.25M1301.5 245.3h1.25M1315.2 241.0h1.25M1301.7 233.0h1.25M1308.5 223.6h1.25M1315.1 245.9h1.25M1309.0 224.0h1.25M1311.1 247.7h1.25M1311.7 248.4h1.25M1310.1 252.6h1.25M1313.5 220.9h1.25M1308.9 223.9h1.25M1302.3 236.5h1.25M1315.5 237.2h1.25M1312.0 222.8h1.25M1317.9 230.6h1.25M1315.6 230.6h1.25M1304.8 250.5h1.25M1308.8 220.1h1.25M1313.1 249.2h1.25M1315.3 224.2h1.25M1301.5 246.7h1.25M1315.4 233.6h1.25M1311.5 250.3h1.25M1312.9 225.1h1.25M1306.7 253.3h1.25M1307.7 250.4h1.25M1312.3 224.0h1.25M1305.7 254.5h1.25M1317.1 238.7h1.25M1310.8 221.8h1.25M1309.3 224.2h1.25M1311.5 250.8h1.25M1317.1 234.5h1.25M1306.0 251.1h1.25M1312.1 246.1h1.25M1302.5 235.9h1.25M1317.3 230.5h1.25M1302.7 235.1h1.25M1308.1 222.2h1.25M1315.5 235.9h1.25M1311.5 222.3h1.25M1308.1 224.5h1.25M1302.1 250.2h1.25M1305.4 250.5h1.25M1315.5 237.4h1.25M1315.9 238.2h1.25M1313.8 245.8h1.25M1317.4 232.0h1.25M1316.8 233.7h1.25M1315.9 232.9h1.25M1315.5 229.6h1.25M1305.1 228.0h1.25M1305.6 254.1h1.25M1308.7 252.4h1.25M1304.5 225.7h1.25M1314.9 244.4h1.25M1301.9 249.9h1.25M1311.2 250.9h1.25M1301.1 244.7h1.25M1315.0 223.2h1.25M1309.1 223.4h1.25M1312.0 246.5h1.25M1305.8 251.8h1.25M1311.9 224.6h1.25M1305.6 251.5h1.25M1315.2 228.7h1.25M1304.0 229.6h1.25M1308.2 221.8h1.25M1305.4 228.2h1.25M1306.0 225.9h1.25M1306.2 224.2h1.25M1307.6 250.7h1.25M1303.8 227.3h1.25M1305.8 248.7h1.25M1302.8 241.2h1.25M1302.1 237.1h1.25M1310.9 247.8h1.25M1310.2 222.1h1.25M1315.0 226.8h1.25M1312.7 221.2h1.25M1311.8 224.4h1.25M1313.2 223.5h1.25M1311.5 248.1h1.25M1304.7 228.3h1.25M1303.8 233.5h1.25" stroke="#067bff" stroke-width="1.25" fill="none"/>
<path d="M1305.1 252.5h1.25M1308.6 223.0h1.25M1309.8 248.0h1.25M1303.4 250.1h1.25M1301.6 241.3h1.25M1303.5 231.7h1.25M1308.3 224.0h1.25M1313.9 243.2h1.25M1302.5 237.2h1.25M1307.5 222.9h1.25M1305.1 229.1h1.25M1315.8 231.3h1.25M1313.6 244.3h1.25M1316.1 231.7h1.25M1306.7 253.6h1.25M1305.8 224.9h1.25M1314.3 244.4h1.25M1314.2 244.0h1.25M1314.5 241.1h1.25M1315.9 236.1h1.25M1310.1 225.0h1.25M1317.2 230.7h1.25M1310.6 249.9h1.25M1303.6 246.6h1.25M1316.2 227.6h1.25M1309.0 221.5h1.25M1309.4 225.7h1.25M1309.6 224.9h1.25M1312.2 248.0h1.25M1307.8 226.6h1.25M1312.4 222.6h1.25M1313.6 244.0h1.25M1308.6 223.4h1.25M1305.8 249.6h1.25M1314.8 242.6h1.25M1315.5 228.8h1.25M1315.5 242.8h1.25M1304.7 226.1h1.25M1302.9 237.3h1.25M1303.5 235.5h1.25M1303.5 249.2h1.25M1307.3 249.2h1.25M1314.7 228.3h1.25M1311.9 249.5h1.25M1316.0 234.8h1.25M1301.6 234.0h1.25M1308.5 248.5h1.25M1314.3 228.0h1.25M1305.8 227.5h1.25M1315.3 225.8h1.25M1307.0 251.6h1.25M1302.0 242.5h1.25M1311.7 225.0h1.25M1311.2 221.7h1.25M1308.1 224.8h1.25M1315.8 228.4h1.25M1304.6 249.9h1.25M1313.8 226.2h1.25M1312.4 225.2h1.25M1314.5 235.3h1.25M1306.5 252.6h1.25M1315.6 235.8h1.25M1305.1 230.8h1.25M1302.9 241.2h1.25M1315.8 240.2h1.25M1301.3 236.3h1.25M1304.6 248.1h1.25M1304.0 249.1h1.25M1302.3 234.9h1.25M1305.8 228.0h1.25M1315.4 226.2h1.25M1312.4 248.8h1.25M1314.5 226.6h1.25M1303.7 246.9h1.25M1305.4 248.0h1.25M1314.7 232.5h1.25M1306.5 248.6h1.25M1309.2 249.1h1.25M1305.1 226.5h1.25M1308.5 249.3h1.25M1304.5 246.3h1.25M1303.5 245.6h1.25M1314.7 241.9h1.25M1302.8 242.0h1.25M1310.9 246.4h1.25M1304.1 250.4h1.25M1315.2 238.0h1.25M1311.7 245.4h1.25M1314.5 243.3h1.25M1312.7 244.3h1.25M1314.1 228.4h1.25M1304.1 245.9h1.25M1314.7 229.6h1.25M1303.7 236.0h1.25M1304.0 245.5h1.25M1306.5 229.2h1.25M1302.9 238.9h1.25M1314.3 231.8h1.25M1306.8 227.8h1.25M1303.8 237.0h1.25M1302.6 248.7h1.25M1307.5 226.1h1.25M1302.4 247.1h1.25M1311.3 221.9h1.25M1304.8 229.6h1.25M1303.0 236.2h1.25M1302.8 239.1h1.25M1302.6 239.4h1.25M1311.2 245.6h1.25M1310.9 249.3h1.25M1305.5 248.6h1.25M1313.4 240.5h1.25M1303.3 248.2h1.25M1305.1 227.4h1.25M1303.8 248.1h1.25M1306.5 247.2h1.25M1304.6 246.2h1.25M1309.2 224.8h1.25M1301.9 240.3h1.25M1310.2 226.7h1.25M1311.6 226.5h1.25M1305.5 229.7h1.25M1310.3 226.8h1.25M1314.6 232.5h1.25M1303.2 231.9h1.25" stroke="#0098f5" stroke-width="1.25" fill="none"/>
<path d="M1314.8 237.9h1.25M1307.0 224.4h1.25M1301.3 241.3h1.25M1310.1 246.9h1.25M1305.9 249.9h1.25M1310.9 249.1h1.25M1308.5 248.2h1.25M1314.3 230.2h1.25M1314.7 229.5h1.25M1311.9 244.4h1.25M1305.6 251.2h1.25M1309.0 249.8h1.25M1315.6 236.1h1.25M1313.1 245.1h1.25M1313.9 235.7h1.25M1304.1 234.6h1.25M1307.7 225.8h1.25M1304.3 248.6h1.25M1312.4 223.4h1.25M1303.8 247.0h1.25M1301.7 239.2h1.25M1308.9 223.3h1.25M1306.4 228.3h1.25M1303.9 241.4h1.25M1313.2 227.7h1.25M1303.1 243.0h1.25M1313.6 228.1h1.25M1314.1 234.9h1.25M1308.3 224.0h1.25M1313.8 229.0h1.25M1312.9 225.1h1.25M1312.6 243.9h1.25M1309.3 250.7h1.25M1308.0 227.2h1.25M1309.5 224.5h1.25M1314.2 233.4h1.25M1311.3 244.0h1.25M1305.4 245.3h1.25M1311.0 225.1h1.25M1306.2 226.4h1.25M1311.5 244.9h1.25M1309.9 245.7h1.25M1312.4 245.9h1.25M1304.7 233.9h1.25M1313.7 237.1h1.25M1304.5 235.3h1.25M1302.3 234.8h1.25M1314.8 235.7h1.25M1310.2 249.9h1.25M1303.7 234.9h1.25M1308.7 250.3h1.25M1305.2 231.5h1.25M1313.2 228.9h1.25M1315.5 237.7h1.25M1311.7 243.0h1.25M1313.5 228.9h1.25M1314.4 228.3h1.25M1311.1 225.0h1.25M1309.0 227.5h1.25M1308.8 225.4h1.25M1304.9 232.1h1.25M1312.3 228.2h1.25M1305.0 250.1h1.25M1308.7 246.1h1.25M1314.6 227.2h1.25M1302.7 245.3h1.25M1315.2 231.9h1.25M1315.4 229.2h1.25M1304.2 232.6h1.25M1310.9 225.8h1.25M1305.4 230.7h1.25M1312.1 228.4h1.25M1310.3 226.0h1.25M1306.0 231.2h1.25M1314.1 227.0h1.25M1309.9 225.3h1.25M1314.2 240.7h1.25M1313.6 233.6h1.25M1314.8 236.9h1.25M1304.2 237.9h1.25M1303.1 246.7h1.25M1315.6 235.7h1.25M1304.3 245.1h1.25M1303.3 242.4h1.25M1303.3 234.2h1.25M1313.8 243.1h1.25M1304.8 230.7h1.25M1313.5 231.3h1.25M1312.1 225.1h1.25M1309.0 228.1h1.25M1313.4 232.2h1.25M1313.6 238.7h1.25M1309.9 247.5h1.25M1311.0 227.7h1.25M1303.1 245.6h1.25M1305.7 230.3h1.25M1310.3 247.1h1.25M1303.8 246.8h1.25M1307.4 249.4h1.25M1307.4 246.3h1.25M1310.3 248.4h1.25M1304.2 243.3h1.25M1305.1 234.6h1.25M1314.1 235.2h1.25M1312.9 227.1h1.25M1315.3 230.0h1.25M1309.9 228.0h1.25M1312.2 241.9h1.25M1310.3 246.8h1.25M1312.1 241.7h1.25M1307.7 229.2h1.25M1308.6 249.3h1.25M1305.7 230.0h1.25M1311.6 242.4h1.25M1302.4 239.5h1.25M1308.4 249.9h1.25M1315.3 233.1h1.25M1307.4 225.3h1.25M1304.4 243.5h1.25M1312.7 239.7h1.25" stroke="#00b7de" stroke-width="1.25" fill="none"/>
<path d="M1314.1 232.9h1.25M1313.6 230.6h1.25M1306.7 249.3h1.25M1311.2 245.1h1.25M1313.2 229.3h1.25M1311.4 246.3h1.25M1311.2 244.0h1.25M1303.3 242.0h1.25M1309.8 247.1h1.25M1302.6 239.2h1.25M1313.7 237.5h1.25M1314.7 234.0h1.25M1309.1 245.2h1.25M1313.4 243.9h1.25M1307.8 225.7h1.25M1314.4 237.6h1.25M1313.1 233.4h1.25M1304.9 241.8h1.25M1306.8 247.6h1.25M1312.4 239.8h1.25M1313.4 227.2h1.25M1311.5 225.4h1.25M1303.6 241.4h1.25M1307.9 246.8h1.25M1306.6 249.8h1.25M1311.0 228.3h1.25M1309.0 225.9h1.25M1312.1 243.3h1.25M1314.6 234.9h1.25M1305.9 229.7h1.25M1310.7 244.7h1.25M1305.8 247.9h1.25M1313.2 239.0h1.25M1312.4 230.9h1.25M1312.5 243.0h1.25M1315.1 235.1h1.25M1304.8 244.8h1.25M1312.8 231.9h1.25M1313.7 238.9h1.25M1314.4 230.2h1.25M1314.6 232.9h1.25M1312.3 245.3h1.25M1314.0 240.4h1.25M1304.8 231.5h1.25M1308.6 228.6h1.25M1313.8 239.5h1.25M1312.5 229.8h1.25M1309.9 245.6h1.25M1312.2 225.7h1.25M1304.9 231.3h1.25M1305.0 243.3h1.25M1313.1 235.7h1.25M1304.6 235.3h1.25M1313.7 227.9h1.25M1306.4 229.6h1.25M1305.3 229.1h1.25M1312.5 238.9h1.25M1306.7 245.0h1.25M1308.9 225.6h1.25M1306.1 228.6h1.25M1311.3 226.9h1.25M1311.1 225.6h1.25M1314.0 234.3h1.25M1314.0 230.1h1.25M1304.6 231.7h1.25M1306.1 232.5h1.25M1314.2 227.7h1.25M1304.9 236.9h1.25M1303.5 245.6h1.25M1309.0 246.2h1.25M1309.8 246.0h1.25M1311.4 230.2h1.25M1311.4 244.5h1.25M1305.3 231.3h1.25M1306.0 248.2h1.25M1311.8 226.6h1.25M1312.6 242.3h1.25M1314.2 237.4h1.25M1304.2 232.3h1.25M1303.0 243.0h1.25M1302.8 238.3h1.25M1303.1 240.2h1.25M1310.6 244.5h1.25M1312.7 231.8h1.25M1304.7 232.4h1.25M1311.2 245.6h1.25M1314.1 232.3h1.25M1306.3 228.6h1.25M1308.0 230.2h1.25M1314.5 239.3h1.25M1311.2 229.0h1.25M1312.5 225.5h1.25M1309.4 229.1h1.25M1306.6 229.4h1.25M1304.0 235.9h1.25M1309.6 226.6h1.25M1304.9 239.3h1.25M1304.2 239.7h1.25M1310.9 242.8h1.25M1312.3 241.6h1.25M1307.4 248.1h1.25M1310.2 227.2h1.25M1305.2 237.6h1.25M1311.3 243.9h1.25M1307.3 230.5h1.25M1312.2 241.1h1.25M1305.5 247.0h1.25M1305.8 231.4h1.25M1312.7 229.3h1.25M1306.5 232.4h1.25M1303.2 237.4h1.25M1311.7 242.2h1.25M1304.3 236.1h1.25M1310.7 226.2h1.25M1308.0 244.6h1.25M1312.2 230.3h1.25M1309.5 248.1h1.25M1310.1 229.9h1.25M1305.2 235.9h1.25M1314.5 232.6h1.25M1310.5 243.3h1.25M1305.9 246.2h1.25M1306.9 229.9h1.25M1307.7 226.9h1.25M1303.8 245.6h1.25M1310.5 227.8h1.25M1306.9 228.0h1.25M1309.1 227.3h1.25M1306.1 248.3h1.25M1307.7 248.7h1.25M1306.1 229.3h1.25M1311.1 227.3h1.25M1305.2 243.0h1.25M1313.0 241.8h1.25M1311.2 242.5h1.25M1313.2 230.3h1.25M1304.7 232.6h1.25M1313.1 238.3h1.25M1305.1 237.5h1.25M1313.9 237.3h1.25" stroke="#00d7c8" stroke-width="1.25" fill="none"/>
<path d="M1311.9 226.3h1.25M1306.4 248.2h1.25M1313.0 241.8h1.25M1304.6 237.9h1.25M1307.3 228.2h1.25M1304.5 245.5h1.25M1314.6 235.3h1.25M1309.8 226.6h1.25M1306.0 244.6h1.25M1308.4 243.7h1.25M1314.5 236.6h1.25M1304.4 241.7h1.25M1311.1 230.9h1.25M1306.7 247.4h1.25M1306.5 232.4h1.25M1311.8 243.3h1.25M1314.2 236.7h1.25M1305.7 235.7h1.25M1312.5 235.1h1.25M1309.4 230.5h1.25M1310.7 242.3h1.25M1305.7 242.4h1.25M1306.2 242.1h1.25M1304.4 244.8h1.25M1305.1 234.4h1.25M1309.1 245.2h1.25M1307.5 247.8h1.25M1304.2 238.5h1.25M1305.8 236.6h1.25M1309.0 229.0h1.25M1309.4 226.1h1.25M1307.9 231.3h1.25M1313.2 234.1h1.25M1312.8 240.0h1.25M1307.5 232.1h1.25M1305.9 244.9h1.25M1306.0 244.3h1.25M1309.9 228.5h1.25M1313.9 231.2h1.25M1314.0 231.2h1.25M1310.4 227.2h1.25M1314.3 233.2h1.25M1312.2 235.4h1.25M1307.3 244.4h1.25M1304.0 234.6h1.25M1307.0 231.4h1.25M1312.7 238.3h1.25M1312.3 228.5h1.25M1307.0 231.6h1.25M1303.9 235.5h1.25M1311.2 242.2h1.25M1312.2 238.5h1.25M1312.3 239.9h1.25M1305.1 239.5h1.25M1305.3 246.8h1.25M1312.0 233.3h1.25M1312.2 233.2h1.25M1310.2 229.1h1.25M1309.9 229.2h1.25M1304.7 240.9h1.25M1312.8 241.8h1.25M1307.7 244.3h1.25M1311.2 231.7h1.25M1308.8 244.5h1.25M1311.9 226.9h1.25M1304.4 244.1h1.25M1312.4 232.7h1.25M1306.5 244.3h1.25M1305.9 233.3h1.25M1305.2 239.9h1.25M1305.3 236.2h1.25M1312.0 239.5h1.25M1309.9 244.3h1.25M1311.4 232.4h1.25M1309.3 246.4h1.25M1304.3 235.1h1.25M1310.2 242.7h1.25M1307.8 244.1h1.25M1305.6 233.6h1.25M1304.6 237.0h1.25M1306.3 230.3h1.25M1307.4 230.7h1.25M1313.0 236.0h1.25M1306.7 233.3h1.25M1304.2 235.8h1.25M1312.3 233.7h1.25M1305.6 240.6h1.25M1313.1 233.9h1.25M1310.8 228.2h1.25M1310.4 227.6h1.25M1306.9 230.4h1.25M1305.0 238.1h1.25M1311.7 231.7h1.25M1306.9 244.6h1.25M1312.1 231.4h1.25M1305.9 243.0h1.25M1306.2 240.7h1.25M1310.3 229.9h1.25M1308.5 242.9h1.25M1309.4 227.2h1.25M1313.1 230.7h1.25M1305.9 241.1h1.25M1304.5 234.7h1.25M1313.5 235.7h1.25M1308.2 243.3h1.25M1306.9 231.8h1.25M1313.6 234.2h1.25M1311.0 241.1h1.25M1306.1 233.0h1.25M1305.8 242.2h1.25M1306.8 242.0h1.25M1312.2 233.2h1.25M1304.3 235.3h1.25M1311.9 238.2h1.25M1308.8 242.4h1.25M1309.3 231.0h1.25M1312.3 241.5h1.25M1309.9 244.4h1.25M1305.2 238.3h1.25M1306.9 229.5h1.25M1304.6 235.1h1.25M1305.8 244.6h1.25M1305.3 239.9h1.25M1305.2 242.7h1.25M1309.0 242.3h1.25M1305.5 233.1h1.25M1310.1 241.4h1.25M1304.6 238.0h1.25M1311.7 241.0h1.25M1311.7 236.2h1.25M1312.3 236.4h1.25M1304.3 240.9h1.25M1306.7 245.5h1.25M1306.0 231.2h1.25M1306.0 244.9h1.25M1308.6 231.3h1.25M1309.8 227.5h1.25M1309.9 245.3h1.25M1310.7 229.4h1.25M1304.6 234.8h1.25" stroke="#21d97a" stroke-width="1.25" fill="none"/>
<path d="M1305.1 241.7h1.25M1310.2 230.0h1.25M1305.5 242.8h1.25M1308.2 229.3h1.25M1311.4 238.0h1.25M1311.8 242.7h1.25M1311.5 237.9h1.25M1305.5 235.8h1.25M1307.8 229.7h1.25M1312.3 236.5h1.25M1308.1 245.8h1.25M1305.0 239.7h1.25M1310.2 240.4h1.25M1306.9 241.5h1.25M1311.8 238.8h1.25M1313.0 235.1h1.25M1310.5 240.8h1.25M1311.5 242.2h1.25M1305.1 235.3h1.25M1307.4 233.5h1.25M1312.5 234.3h1.25M1311.9 228.5h1.25M1307.4 233.8h1.25M1312.0 241.0h1.25M1311.4 237.0h1.25M1309.8 228.1h1.25M1308.4 232.3h1.25M1309.7 242.4h1.25M1306.6 241.4h1.25M1311.6 236.2h1.25M1310.0 243.3h1.25M1306.0 233.8h1.25M1307.4 242.1h1.25M1307.3 245.1h1.25M1312.2 239.9h1.25M1311.5 232.6h1.25M1306.9 231.7h1.25M1310.7 232.4h1.25M1311.5 237.1h1.25M1310.2 230.9h1.25M1306.7 233.0h1.25M1312.4 232.1h1.25M1311.0 238.0h1.25M1312.1 240.0h1.25M1312.5 230.6h1.25M1306.5 236.5h1.25M1307.4 234.8h1.25M1306.4 241.8h1.25M1304.9 241.6h1.25M1311.7 229.6h1.25M1313.0 232.3h1.25M1308.8 245.4h1.25M1309.5 240.7h1.25M1307.6 230.0h1.25M1311.8 233.5h1.25M1306.6 240.8h1.25M1305.3 234.9h1.25M1309.9 243.2h1.25M1305.7 239.8h1.25M1309.3 228.8h1.25M1311.3 240.5h1.25M1311.1 236.5h1.25M1310.3 244.0h1.25M1307.1 243.4h1.25M1304.9 239.9h1.25M1305.4 242.9h1.25M1311.4 238.4h1.25M1306.7 237.9h1.25M1307.4 243.6h1.25M1308.6 229.7h1.25M1309.7 241.2h1.25M1311.6 233.7h1.25M1311.3 239.1h1.25M1307.6 241.1h1.25M1310.4 232.2h1.25M1308.5 243.7h1.25M1310.6 234.5h1.25M1310.8 242.0h1.25M1307.2 244.0h1.25M1307.1 232.5h1.25" stroke="#4fdd35" stroke-width="1.25" fill="none"/>
<path d="M1308.1 229.8h1.25M1306.2 239.1h1.25M1305.6 236.0h1.25M1308.2 230.3h1.25M1308.6 230.4h1.25M1306.1 241.2h1.25M1308.2 242.3h1.25M1306.7 234.7h1.25M1312.4 233.6h1.25M1310.1 243.1h1.25M1309.3 240.9h1.25M1308.5 230.1h1.25M1311.3 236.3h1.25M1309.5 239.6h1.25M1310.8 229.8h1.25M1307.5 241.9h1.25M1311.6 237.4h1.25M1311.7 236.1h1.25M1309.6 240.6h1.25M1309.5 233.9h1.25M1311.4 234.4h1.25M1307.2 236.8h1.25M1306.9 238.9h1.25M1305.2 240.0h1.25M1307.7 241.3h1.25M1306.1 240.4h1.25M1307.6 241.4h1.25M1311.6 236.2h1.25M1305.7 236.4h1.25M1307.8 236.0h1.25M1307.5 244.0h1.25M1306.3 241.9h1.25M1306.4 237.5h1.25M1308.5 230.3h1.25M1306.0 241.5h1.25M1306.9 232.0h1.25M1312.3 236.4h1.25M1312.2 235.7h1.25M1307.3 233.7h1.25M1305.7 237.7h1.25M1311.5 239.7h1.25M1308.2 230.7h1.25M1308.8 239.7h1.25M1310.4 238.3h1.25M1306.7 236.7h1.25M1309.1 239.3h1.25M1310.2 238.2h1.25M1309.9 230.7h1.25M1305.7 239.0h1.25M1306.3 238.0h1.25M1307.1 234.8h1.25M1307.7 239.4h1.25M1308.4 242.5h1.25M1311.7 236.9h1.25M1306.7 236.4h1.25M1305.6 240.2h1.25M1306.3 240.8h1.25M1308.0 233.6h1.25M1309.5 239.5h1.25M1310.4 230.6h1.25M1310.0 232.6h1.25M1310.0 237.9h1.25M1307.9 243.0h1.25M1309.5 232.0h1.25M1305.7 240.3h1.25M1309.7 243.0h1.25M1309.0 241.0h1.25M1310.9 240.9h1.25M1307.7 236.8h1.25M1310.2 232.2h1.25M1306.9 233.4h1.25M1307.2 238.6h1.25M1308.9 238.8h1.25M1308.6 240.9h1.25M1308.6 234.9h1.25M1307.0 236.5h1.25M1307.5 239.4h1.25M1311.1 237.5h1.25" stroke="#b3e214" stroke-width="1.25" fill="none"/>
<path d="M1306.6 241.0h1.25M1308.8 233.8h1.25M1306.3 237.2h1.25M1310.6 231.9h1.25M1310.5 235.7h1.25M1311.5 236.0h1.25M1310.5 232.0h1.25M1310.1 239.4h1.25M1308.0 234.9h1.25M1310.2 241.5h1.25M1309.9 239.5h1.25M1311.0 231.8h1.25M1311.0 232.1h1.25M1309.1 232.3h1.25M1310.8 232.5h1.25M1310.1 235.5h1.25M1310.0 235.6h1.25M1309.2 241.3h1.25M1310.4 232.0h1.25M1310.4 238.1h1.25M1310.0 233.7h1.25M1311.8 235.6h1.25M1308.2 240.9h1.25M1309.2 234.2h1.25M1307.3 241.6h1.25M1308.4 231.9h1.25M1308.4 242.6h1.25M1307.2 237.7h1.25M1306.5 237.5h1.25M1308.5 233.8h1.25M1309.3 233.9h1.25M1310.7 238.2h1.25M1309.9 234.9h1.25M1307.9 234.0h1.25M1307.8 235.4h1.25M1308.1 233.5h1.25M1309.4 240.6h1.25M1309.3 235.0h1.25M1308.5 241.8h1.25M1308.5 234.4h1.25M1309.3 237.1h1.25M1307.4 239.8h1.25M1309.5 233.3h1.25M1309.7 235.4h1.25M1309.3 232.2h1.25M1307.3 234.4h1.25M1310.5 235.1h1.25M1308.2 234.7h1.25M1310.6 234.7h1.25M1308.4 236.9h1.25" stroke="#f5c800" stroke-width="1.25" fill="none"/>
<path d="M1308.7 234.2h1.25M1310.1 235.4h1.25M1310.9 236.0h1.25M1307.8 239.6h1.25M1309.7 240.0h1.25M1306.9 240.0h1.25M1306.9 237.0h1.25M1307.3 236.1h1.25M1310.1 236.5h1.25M1309.6 234.5h1.25M1309.6 239.2h1.25M1310.2 235.9h1.25M1308.7 233.6h1.25M1308.6 239.3h1.25M1309.3 237.0h1.25M1308.5 233.3h1.25M1310.0 235.3h1.25M1307.2 237.5h1.25M1307.9 234.9h1.25M1307.1 236.6h1.25M1309.0 234.1h1.25M1308.5 236.6h1.25M1307.4 236.1h1.25M1310.4 235.0h1.25M1310.0 238.9h1.25M1308.0 235.2h1.25M1309.3 236.3h1.25M1308.1 239.5h1.25M1309.2 239.2h1.25M1309.4 237.6h1.25M1308.2 236.2h1.25M1309.2 235.8h1.25M1307.8 238.7h1.25" stroke="#fc7903" stroke-width="1.25" fill="none"/>
<path d="M1309.5 236.2h1.25M1310.2 235.0h1.25M1309.2 238.4h1.25M1309.4 239.6h1.25M1309.1 238.7h1.25M1308.3 236.5h1.25M1310.2 235.6h1.25M1308.5 236.1h1.25M1307.8 238.4h1.25M1309.1 237.7h1.25M1308.0 237.1h1.25M1308.2 237.6h1.25M1308.6 237.6h1.25M1308.8 237.9h1.25M1309.2 237.2h1.25M1309.2 238.2h1.25M1309.3 237.7h1.25M1309.4 238.2h1.25M1309.5 236.9h1.25M1309.6 236.2h1.25" stroke="#f01e14" stroke-width="1.25" fill="none"/>
<path d="M1297.4 248.5h1.25M1300.4 225.5h1.25M1301.5 208.5h1.25M1301.7 233.4h1.25M1301.7 229.7h1.25M1303.3 220.7h1.25M1304.9 230.8h1.25M1305.4 232.0h1.25M1306.6 241.6h1.25M1306.6 224.5h1.25M1306.7 223.0h1.25M1307.4 225.8h1.25M1307.5 204.7h1.25M1308.5 227.7h1.25M1309.0 230.2h1.25M1311.9 206.1h1.25M1312.3 203.8h1.25M1313.0 244.4h1.25M1313.3 228.8h1.25M1314.4 228.6h1.25M1317.2 224.7h1.25M1318.7 226.6h1.25M1319.3 223.8h1.25M1320.0 223.6h1.25M1320.7 179.1h1.25M1321.6 220.6h1.25M1322.2 193.0h1.25M1323.0 191.0h1.25M1323.4 243.7h1.25M1324.2 190.3h1.25M1324.8 185.5h1.25M1324.9 215.2h1.25M1325.1 214.7h1.25M1325.2 215.1h1.25M1325.7 185.2h1.25M1325.9 212.5h1.25M1326.1 212.9h1.25M1326.3 187.9h1.25M1326.6 211.2h1.25M1326.6 193.8h1.25M1328.4 189.2h1.25M1328.6 205.9h1.25M1328.7 194.6h1.25M1329.5 213.8h1.25M1329.8 206.6h1.25M1329.9 196.5h1.25M1329.9 193.7h1.25M1330.2 196.6h1.25M1330.5 201.7h1.25M1330.7 205.0h1.25M1330.9 188.0h1.25M1331.6 184.8h1.25M1332.4 204.4h1.25M1341.7 180.0h1.25M1313.7 227.8h1.25M1317.1 223.8h1.25M1307.9 227.1h1.25M1307.3 234.2h1.25M1309.9 231.8h1.25M1317.1 227.8h1.25M1307.4 231.8h1.25M1333.1 186.6h1.25M1308.4 219.4h1.25M1313.2 203.3h1.25M1307.5 216.1h1.25M1316.1 226.6h1.25M1311.5 208.4h1.25M1317.5 223.2h1.25M1302.1 236.0h1.25M1323.1 195.6h1.25M1316.5 228.2h1.25M1328.1 212.5h1.25M1315.1 226.4h1.25M1336.5 190.6h1.25M1319.2 197.4h1.25M1327.9 203.6h1.25M1320.4 221.6h1.25M1330.8 191.1h1.25M1316.1 241.6h1.25M1322.2 192.8h1.25M1322.4 196.3h1.25M1325.7 194.9h1.25M1327.7 195.9h1.25" stroke="#2828ff" stroke-width="1.25" fill="none"/>
<path d="M1308.3 235.5h1.25M1316.6 196.7h1.25M1302.5 219.5h1.25M1316.9 227.9h1.25M1306.5 235.3h1.25M1335.4 172.6h1.25M1330.5 182.1h1.25M1327.6 197.0h1.25M1313.0 208.3h1.25M1322.5 179.8h1.25M1308.6 218.0h1.25M1320.7 198.0h1.25M1314.0 229.7h1.25M1324.1 196.4h1.25M1316.1 203.6h1.25M1328.1 193.6h1.25M1328.2 195.4h1.25M1315.7 195.5h1.25M1308.3 236.0h1.25M1307.4 219.0h1.25M1308.0 221.0h1.25M1319.6 192.9h1.25M1311.0 201.9h1.25M1308.2 228.8h1.25M1326.7 207.0h1.25M1317.4 197.2h1.25M1310.1 224.4h1.25M1328.6 207.6h1.25M1310.5 224.5h1.25M1317.3 223.0h1.25M1325.5 192.5h1.25M1322.1 215.5h1.25M1328.9 196.9h1.25M1314.3 207.7h1.25M1309.3 219.6h1.25M1322.1 217.7h1.25M1320.2 219.9h1.25M1308.9 228.8h1.25M1329.2 200.0h1.25M1314.5 224.8h1.25M1308.1 228.1h1.25M1312.8 209.4h1.25M1308.4 219.7h1.25M1323.9 213.6h1.25M1326.0 194.5h1.25M1311.0 225.2h1.25M1327.7 200.2h1.25M1310.0 218.3h1.25M1326.6 204.6h1.25M1327.8 203.3h1.25M1326.1 207.6h1.25M1311.0 213.6h1.25M1327.5 202.0h1.25M1326.4 205.6h1.25M1310.0 223.2h1.25M1317.4 222.2h1.25M1310.0 224.7h1.25M1310.9 213.4h1.25M1328.3 196.1h1.25M1312.9 210.8h1.25M1326.6 208.1h1.25M1317.3 221.1h1.25M1321.4 198.0h1.25M1324.7 209.5h1.25M1310.4 216.3h1.25M1318.9 201.2h1.25" stroke="#1c43ff" stroke-width="1.25" fill="none"/>
<path d="M1317.1 204.1h1.25M1312.6 212.3h1.25M1311.9 223.8h1.25M1316.8 222.4h1.25M1322.2 214.9h1.25M1315.0 223.1h1.25M1312.4 226.4h1.25M1322.4 214.6h1.25M1318.8 221.5h1.25M1309.0 221.2h1.25M1312.6 223.5h1.25M1325.3 207.5h1.25M1328.2 197.9h1.25M1327.4 202.8h1.25M1317.8 201.7h1.25M1312.6 224.8h1.25M1316.4 203.3h1.25M1319.6 218.4h1.25M1327.2 202.9h1.25M1325.8 205.0h1.25M1320.6 218.0h1.25M1311.3 218.3h1.25M1326.7 202.3h1.25M1323.6 211.5h1.25M1327.8 198.2h1.25M1326.8 200.4h1.25M1324.9 209.1h1.25M1325.7 202.4h1.25M1311.2 217.4h1.25M1309.3 223.0h1.25M1324.9 207.7h1.25M1323.6 213.8h1.25M1327.4 202.9h1.25M1318.6 220.5h1.25M1315.7 221.5h1.25M1313.0 225.1h1.25M1326.0 199.7h1.25M1315.8 205.2h1.25M1320.4 217.2h1.25M1325.2 205.4h1.25M1314.1 224.0h1.25M1320.1 200.4h1.25M1322.5 212.7h1.25M1320.6 215.5h1.25M1319.7 201.0h1.25M1311.8 216.5h1.25M1327.1 198.7h1.25M1326.8 200.7h1.25M1310.2 217.7h1.25M1312.3 220.0h1.25M1310.9 217.7h1.25M1312.9 212.8h1.25M1321.0 214.6h1.25M1326.6 198.3h1.25M1320.1 200.1h1.25M1325.0 202.0h1.25M1324.9 209.5h1.25M1311.3 217.6h1.25M1320.6 217.0h1.25M1312.6 212.7h1.25M1322.8 213.5h1.25" stroke="#115fff" stroke-width="1.25" fill="none"/>
<path d="M1321.0 201.3h1.25M1325.5 200.8h1.25M1312.3 220.6h1.25M1324.4 207.3h1.25M1310.1 219.8h1.25M1320.6 215.6h1.25M1322.4 213.8h1.25M1310.5 218.7h1.25M1321.0 215.4h1.25M1312.6 222.8h1.25M1326.7 200.9h1.25M1315.4 207.0h1.25M1324.8 202.6h1.25M1314.5 222.0h1.25M1321.6 201.2h1.25M1317.5 218.7h1.25M1322.1 214.7h1.25M1313.8 220.8h1.25M1312.5 221.4h1.25M1320.9 199.9h1.25M1318.1 220.5h1.25M1312.3 221.1h1.25M1324.9 198.8h1.25M1319.8 200.7h1.25M1319.2 202.8h1.25M1317.5 205.8h1.25M1320.9 216.9h1.25M1321.2 199.9h1.25M1325.8 204.4h1.25M1310.5 221.7h1.25M1312.2 214.4h1.25M1312.7 213.9h1.25M1322.0 202.2h1.25M1323.0 211.3h1.25M1314.2 221.6h1.25M1323.7 201.4h1.25M1317.4 205.1h1.25M1315.7 208.2h1.25M1320.5 217.1h1.25M1316.0 207.3h1.25M1317.5 205.9h1.25M1310.7 219.7h1.25M1314.8 221.6h1.25M1325.9 203.4h1.25M1313.1 221.7h1.25M1318.3 202.5h1.25M1323.1 208.8h1.25M1323.9 210.3h1.25M1312.6 212.9h1.25M1311.9 218.4h1.25M1313.5 217.2h1.25M1320.8 213.3h1.25M1315.1 209.6h1.25M1320.8 213.3h1.25M1324.0 198.7h1.25M1324.8 201.4h1.25M1323.7 201.9h1.25M1312.3 216.1h1.25M1318.5 218.0h1.25M1313.8 222.4h1.25M1317.5 205.0h1.25M1312.7 216.4h1.25M1313.2 222.2h1.25M1321.6 200.2h1.25M1323.3 204.2h1.25M1313.0 222.2h1.25M1315.8 207.3h1.25M1320.4 201.0h1.25M1314.1 214.0h1.25M1317.1 204.9h1.25M1323.0 210.9h1.25M1319.9 217.2h1.25M1323.5 201.2h1.25M1323.0 200.7h1.25M1320.8 213.3h1.25M1322.6 203.5h1.25M1323.7 203.0h1.25M1322.2 203.3h1.25" stroke="#067bff" stroke-width="1.25" fill="none"/>
<path d="M1324.0 200.2h1.25M1323.8 207.7h1.25M1317.6 218.4h1.25M1313.1 222.0h1.25M1319.5 203.9h1.25M1316.2 218.9h1.25M1321.5 213.7h1.25M1322.9 210.2h1.25M1315.2 218.2h1.25M1316.3 206.6h1.25M1314.4 213.2h1.25M1321.5 201.2h1.25M1321.3 211.1h1.25M1322.6 207.5h1.25M1319.9 202.6h1.25M1313.4 213.9h1.25M1315.4 220.4h1.25M1315.7 210.3h1.25M1320.3 215.6h1.25M1312.0 218.4h1.25M1321.0 204.6h1.25M1318.8 215.4h1.25M1321.5 212.9h1.25M1321.2 203.3h1.25M1319.3 205.9h1.25M1316.0 218.6h1.25M1314.4 211.0h1.25M1315.4 212.5h1.25M1316.1 209.8h1.25M1321.3 212.8h1.25M1321.9 204.1h1.25M1313.7 217.9h1.25M1319.7 214.3h1.25M1323.4 204.2h1.25M1312.6 217.5h1.25M1314.3 220.1h1.25M1323.8 205.2h1.25M1318.5 204.4h1.25M1316.0 219.7h1.25M1322.3 207.5h1.25M1322.9 208.5h1.25M1320.7 204.8h1.25M1324.1 205.6h1.25M1316.1 210.8h1.25M1314.2 217.9h1.25M1313.4 217.5h1.25M1317.0 207.1h1.25M1315.4 210.5h1.25M1315.5 212.2h1.25M1315.7 212.6h1.25" stroke="#0098f5" stroke-width="1.25" fill="none"/>
<path d="M1313.8 214.2h1.25M1313.3 218.2h1.25M1316.5 217.0h1.25M1323.6 205.4h1.25M1314.7 219.2h1.25M1314.8 214.1h1.25M1317.3 216.9h1.25M1323.0 204.5h1.25M1321.5 210.2h1.25M1320.3 203.5h1.25M1320.1 212.2h1.25M1318.8 207.4h1.25M1321.5 203.5h1.25M1321.7 205.6h1.25M1317.3 209.6h1.25M1322.8 204.0h1.25M1321.0 204.8h1.25M1316.9 217.8h1.25M1318.2 208.0h1.25M1323.2 203.9h1.25M1321.1 209.4h1.25M1323.0 204.4h1.25M1322.8 207.0h1.25M1319.2 206.4h1.25M1315.9 216.0h1.25M1316.4 211.5h1.25M1323.3 204.5h1.25M1321.0 209.7h1.25M1316.9 208.7h1.25M1318.2 215.7h1.25M1316.3 211.9h1.25M1320.9 204.5h1.25M1315.0 215.8h1.25M1320.0 213.4h1.25M1320.6 211.9h1.25M1317.6 209.6h1.25M1318.1 215.0h1.25M1318.0 215.7h1.25M1321.7 208.8h1.25M1318.3 214.5h1.25M1320.6 210.8h1.25M1314.8 213.7h1.25M1321.8 205.9h1.25M1319.0 213.7h1.25M1320.2 211.7h1.25M1319.8 211.8h1.25M1320.7 212.2h1.25M1321.7 209.0h1.25M1322.2 205.8h1.25M1316.7 210.9h1.25" stroke="#00b7de" stroke-width="1.25" fill="none"/>
<path d="M1318.1 215.7h1.25M1321.9 206.8h1.25M1316.8 214.3h1.25M1322.0 206.1h1.25M1315.4 216.4h1.25M1320.5 207.8h1.25M1317.0 214.0h1.25M1318.2 209.6h1.25M1317.0 214.3h1.25M1319.5 213.6h1.25M1316.9 215.6h1.25M1317.7 209.7h1.25M1320.0 209.7h1.25M1320.6 210.1h1.25M1317.9 208.1h1.25M1320.3 210.3h1.25M1319.2 208.1h1.25M1318.0 211.5h1.25M1319.2 210.5h1.25M1316.6 214.1h1.25M1319.2 207.7h1.25M1318.5 211.1h1.25M1320.2 207.6h1.25M1317.6 214.5h1.25M1318.6 212.8h1.25" stroke="#00d7c8" stroke-width="1.25" fill="none"/>
<path d="M1319.6 209.6h1.25M1318.2 210.9h1.25M1317.7 212.0h1.25M1317.4 211.5h1.25M1319.9 209.0h1.25M1319.4 209.5h1.25M1318.5 211.0h1.25" stroke="#21d97a" stroke-width="1.25" fill="none"/>
<path d="M1304.2 318.0h1.1M1301.7 304.1h1.1M1297.9 261.0h1.1M1292.6 307.4h1.1M1300.9 265.6h1.1M1300.9 293.5h1.1M1301.6 280.2h1.1M1296.9 279.4h1.1M1295.1 276.3h1.1M1303.2 306.3h1.1M1301.0 258.8h1.1M1300.7 282.6h1.1M1294.7 266.0h1.1M1297.4 310.1h1.1M1299.1 286.2h1.1M1297.7 310.7h1.1M1294.1 315.4h1.1M1294.0 273.1h1.1M1305.6 293.3h1.1M1299.3 294.8h1.1M1292.6 316.3h1.1M1289.3 312.5h1.1M1319.2 172.0h1.1M1400.8 203.9h1.1M1280.0 244.5h1.1M1338.0 244.5h1.1M1297.0 327.0h1.1M1299.0 327.5h1.1" stroke="#4a4aff" stroke-width="1.1" fill="none" opacity="0.85"/>
<path d="M1552.6 235.3h1.25M1552.7 239.8h1.25M1554.0 243.7h1.25M1554.1 240.2h1.25M1554.2 243.8h1.25M1554.2 225.9h1.25M1554.9 226.4h1.25M1555.0 241.8h1.25M1555.2 243.3h1.25M1555.5 229.0h1.25M1555.7 253.6h1.25M1555.9 233.6h1.25M1556.1 258.3h1.25M1556.3 260.8h1.25M1556.7 228.6h1.25M1557.1 234.6h1.25M1557.1 234.4h1.25M1557.6 232.2h1.25M1557.6 259.4h1.25M1557.9 257.2h1.25M1558.0 232.1h1.25M1558.5 227.0h1.25M1558.7 256.0h1.25M1558.8 259.8h1.25M1558.8 263.3h1.25M1558.8 230.9h1.25M1558.9 226.6h1.25M1559.0 259.1h1.25M1559.0 221.6h1.25M1559.1 255.6h1.25M1559.1 228.4h1.25M1559.4 228.2h1.25M1559.4 227.6h1.25M1559.5 224.2h1.25M1559.5 262.9h1.25M1560.5 256.6h1.25M1560.6 226.9h1.25M1561.0 221.9h1.25M1561.7 260.9h1.25M1561.8 262.1h1.25M1561.9 260.2h1.25M1562.0 223.4h1.25M1562.3 220.4h1.25M1562.5 256.8h1.25M1562.6 264.5h1.25M1562.7 215.6h1.25M1562.8 258.3h1.25M1563.3 206.7h1.25M1563.3 261.7h1.25M1564.6 258.3h1.25M1565.5 258.1h1.25M1566.0 255.5h1.25M1566.1 268.8h1.25M1566.2 252.9h1.25M1566.6 217.6h1.25M1567.0 253.7h1.25M1567.7 212.3h1.25M1568.5 220.2h1.25M1569.9 218.9h1.25M1570.7 212.3h1.25M1570.8 217.9h1.25M1570.8 257.7h1.25M1570.9 228.8h1.25M1571.4 231.7h1.25M1571.5 226.8h1.25M1571.6 230.5h1.25M1571.7 212.6h1.25M1571.7 248.0h1.25M1571.7 241.1h1.25M1571.8 230.9h1.25M1572.2 224.9h1.25M1572.7 239.2h1.25M1572.8 236.8h1.25M1573.5 243.5h1.25M1573.9 227.4h1.25M1574.4 237.0h1.25M1574.8 224.4h1.25M1575.3 209.3h1.25M1555.4 236.0h1.25M1556.8 256.0h1.25M1566.2 258.3h1.25M1568.1 251.7h1.25M1569.3 218.1h1.25M1560.9 260.8h1.25M1570.8 244.3h1.25M1557.4 236.4h1.25M1577.4 231.0h1.25M1564.2 222.3h1.25M1571.0 236.5h1.25M1568.7 219.2h1.25M1570.6 238.8h1.25M1569.1 224.4h1.25M1563.3 212.2h1.25M1570.9 232.8h1.25M1567.2 252.2h1.25M1554.5 227.8h1.25M1553.0 244.1h1.25M1562.9 255.7h1.25M1565.1 209.8h1.25M1556.8 239.3h1.25M1570.1 215.6h1.25M1570.2 224.7h1.25M1565.8 253.3h1.25M1569.7 248.4h1.25M1559.0 265.5h1.25M1559.8 225.5h1.25M1570.3 238.8h1.25" stroke="#2828ff" stroke-width="1.25" fill="none"/>
<path d="M1558.5 254.8h1.25M1559.0 227.9h1.25M1564.7 218.6h1.25M1561.3 220.7h1.25M1575.1 214.8h1.25M1570.9 229.3h1.25M1567.7 223.1h1.25M1569.7 212.2h1.25M1569.6 241.5h1.25M1572.9 223.8h1.25M1572.6 233.4h1.25M1567.6 215.4h1.25M1572.3 226.1h1.25M1569.3 246.7h1.25M1570.4 234.2h1.25M1572.4 236.6h1.25M1557.2 259.6h1.25M1556.1 262.0h1.25M1567.1 215.8h1.25M1567.0 253.6h1.25M1574.0 232.9h1.25M1564.6 252.3h1.25M1561.3 258.3h1.25M1568.2 257.8h1.25M1572.1 220.7h1.25M1568.4 248.1h1.25M1570.3 225.9h1.25M1571.1 225.9h1.25M1571.8 226.0h1.25M1563.4 222.1h1.25M1556.5 253.2h1.25M1578.9 250.8h1.25M1553.5 253.2h1.25M1556.5 246.2h1.25M1559.5 260.6h1.25M1554.9 244.0h1.25M1557.9 258.0h1.25M1573.3 242.3h1.25M1561.5 254.1h1.25M1555.5 243.9h1.25M1560.3 228.4h1.25M1554.8 226.8h1.25M1555.4 256.7h1.25M1558.3 233.1h1.25M1557.8 263.4h1.25M1553.8 238.5h1.25M1555.1 249.5h1.25M1564.8 224.2h1.25M1571.9 220.2h1.25M1557.2 253.9h1.25M1570.5 220.3h1.25M1556.7 239.1h1.25M1573.5 221.6h1.25M1557.2 237.2h1.25M1557.7 247.8h1.25M1561.4 224.8h1.25M1566.4 248.9h1.25" stroke="#1c43ff" stroke-width="1.25" fill="none"/>
<path d="M1571.2 230.3h1.25M1569.9 234.5h1.25M1569.1 247.4h1.25M1562.1 227.5h1.25M1557.6 241.4h1.25M1570.1 242.3h1.25M1560.4 253.9h1.25M1569.6 239.4h1.25M1556.4 248.3h1.25M1570.1 230.6h1.25M1562.1 255.4h1.25M1568.1 247.3h1.25M1557.8 237.7h1.25M1557.9 239.7h1.25M1560.1 254.5h1.25M1562.6 256.3h1.25M1560.9 253.8h1.25M1559.6 254.1h1.25M1557.0 249.5h1.25M1557.1 240.6h1.25M1557.7 237.8h1.25M1556.9 242.7h1.25M1570.7 237.4h1.25M1558.2 237.9h1.25M1557.2 248.2h1.25M1562.8 252.2h1.25M1569.8 235.0h1.25M1566.5 251.8h1.25M1567.7 249.5h1.25M1569.3 233.1h1.25M1558.7 251.8h1.25M1568.0 225.0h1.25M1559.4 234.7h1.25M1558.2 246.1h1.25M1569.3 237.3h1.25M1568.3 246.6h1.25" stroke="#115fff" stroke-width="1.25" fill="none"/>
<path d="M1566.2 247.8h1.25M1557.6 241.9h1.25M1561.1 227.2h1.25M1560.0 251.3h1.25M1567.6 246.5h1.25M1561.9 229.0h1.25M1567.7 244.8h1.25M1557.1 248.3h1.25M1569.1 232.2h1.25M1569.6 229.1h1.25M1569.2 242.9h1.25M1557.9 240.9h1.25M1562.0 227.2h1.25M1561.0 255.4h1.25M1569.2 227.6h1.25M1562.9 252.6h1.25M1562.6 227.6h1.25M1569.1 230.8h1.25M1562.5 252.0h1.25M1568.1 223.8h1.25M1566.6 246.4h1.25M1560.9 252.8h1.25M1564.1 227.3h1.25M1569.4 226.3h1.25M1567.1 227.6h1.25M1568.0 229.4h1.25M1560.9 228.3h1.25M1569.8 238.0h1.25M1563.0 253.3h1.25M1560.5 233.1h1.25M1562.3 229.8h1.25M1560.4 233.0h1.25M1567.4 228.5h1.25M1567.5 228.4h1.25M1564.6 251.9h1.25M1569.0 235.5h1.25M1566.0 248.5h1.25M1557.4 239.4h1.25M1568.7 238.5h1.25M1567.3 245.5h1.25M1561.8 253.4h1.25M1567.2 223.9h1.25M1565.4 249.5h1.25M1568.7 232.2h1.25M1559.6 234.1h1.25M1568.1 228.0h1.25" stroke="#067bff" stroke-width="1.25" fill="none"/>
<path d="M1568.6 239.7h1.25M1558.5 238.0h1.25M1567.1 226.9h1.25M1559.9 249.9h1.25M1558.6 234.8h1.25M1567.9 226.7h1.25M1567.6 244.9h1.25M1569.3 235.5h1.25M1569.6 232.8h1.25M1569.7 235.4h1.25M1569.4 233.7h1.25M1567.2 245.9h1.25M1566.8 226.7h1.25M1567.2 243.9h1.25M1560.0 233.4h1.25M1559.2 234.3h1.25M1566.5 245.5h1.25M1566.8 248.8h1.25M1561.7 230.9h1.25M1557.9 248.6h1.25M1562.0 228.7h1.25M1562.4 249.1h1.25M1563.1 229.6h1.25M1569.0 234.3h1.25M1562.9 250.3h1.25M1566.9 243.9h1.25M1562.6 250.3h1.25M1564.0 227.7h1.25M1561.7 231.8h1.25M1563.5 228.4h1.25M1560.3 235.3h1.25M1568.0 230.9h1.25M1559.5 244.4h1.25M1564.4 250.7h1.25M1563.7 251.9h1.25M1561.9 248.6h1.25M1568.4 233.2h1.25M1569.1 233.3h1.25M1567.5 226.4h1.25M1559.1 248.5h1.25M1558.4 238.4h1.25M1561.5 233.1h1.25M1565.8 246.0h1.25M1559.0 237.8h1.25M1561.1 231.5h1.25M1569.2 237.1h1.25M1569.3 232.8h1.25M1560.1 233.3h1.25M1563.5 230.5h1.25M1568.6 239.1h1.25M1559.0 237.6h1.25" stroke="#0098f5" stroke-width="1.25" fill="none"/>
<path d="M1558.4 239.0h1.25M1565.1 227.2h1.25M1561.5 248.4h1.25M1567.5 230.4h1.25M1560.8 248.6h1.25M1562.5 249.5h1.25M1559.8 241.1h1.25M1560.0 240.2h1.25M1568.5 230.6h1.25M1562.9 250.3h1.25M1567.4 240.9h1.25M1569.3 237.1h1.25M1564.6 228.6h1.25M1563.6 227.5h1.25M1560.9 234.7h1.25M1565.0 249.4h1.25M1567.9 239.7h1.25M1559.5 243.2h1.25M1561.7 233.6h1.25M1569.1 237.0h1.25M1566.4 228.5h1.25M1559.7 240.3h1.25M1568.8 238.4h1.25M1567.8 233.6h1.25M1566.4 230.3h1.25M1563.2 249.7h1.25M1567.5 240.0h1.25M1559.1 237.5h1.25M1568.3 235.4h1.25M1568.1 230.4h1.25M1568.6 234.0h1.25M1565.0 248.4h1.25M1560.4 247.7h1.25M1568.1 242.1h1.25M1564.5 248.2h1.25M1559.6 241.5h1.25M1564.0 229.4h1.25M1568.0 233.3h1.25M1559.7 243.1h1.25M1561.3 231.3h1.25" stroke="#00b7de" stroke-width="1.25" fill="none"/>
<path d="M1561.0 249.3h1.25M1560.4 245.4h1.25M1560.2 235.8h1.25M1564.1 248.2h1.25M1567.7 231.6h1.25M1565.8 243.8h1.25M1561.4 246.7h1.25M1560.4 233.7h1.25M1560.4 240.2h1.25M1560.4 240.9h1.25M1566.1 242.3h1.25M1561.9 233.8h1.25M1567.8 242.6h1.25M1560.9 250.0h1.25M1564.4 248.8h1.25M1560.5 235.8h1.25M1559.5 244.1h1.25M1559.5 245.6h1.25M1562.7 249.9h1.25M1561.2 236.2h1.25M1566.1 243.3h1.25M1563.6 246.7h1.25M1565.6 243.5h1.25M1562.9 246.4h1.25M1560.0 235.6h1.25M1559.2 239.7h1.25M1560.0 237.7h1.25M1563.3 248.8h1.25M1564.7 230.0h1.25M1564.5 229.3h1.25M1568.0 236.4h1.25M1565.4 228.2h1.25M1566.7 243.1h1.25M1563.5 229.2h1.25M1561.0 238.7h1.25M1560.7 246.5h1.25M1559.7 247.6h1.25M1566.7 243.5h1.25M1564.9 244.5h1.25M1566.7 240.3h1.25M1565.1 230.9h1.25M1560.2 241.5h1.25M1561.8 232.3h1.25M1563.6 247.9h1.25M1566.3 232.5h1.25M1568.5 233.7h1.25M1562.2 230.9h1.25M1560.6 234.6h1.25M1564.8 229.7h1.25M1561.2 237.5h1.25M1567.4 237.1h1.25M1567.3 231.7h1.25M1560.5 243.8h1.25M1568.3 232.7h1.25M1559.5 243.0h1.25M1565.8 242.7h1.25M1566.2 229.9h1.25M1563.0 230.1h1.25M1564.8 232.3h1.25M1563.3 246.2h1.25M1565.7 229.0h1.25M1564.2 230.1h1.25M1566.3 230.6h1.25" stroke="#00d7c8" stroke-width="1.25" fill="none"/>
<path d="M1561.5 245.2h1.25M1561.9 234.2h1.25M1561.9 245.4h1.25M1566.1 245.0h1.25M1565.3 230.8h1.25M1564.7 245.5h1.25M1563.8 231.4h1.25M1563.4 233.0h1.25M1567.0 236.6h1.25M1561.7 236.3h1.25M1563.1 246.1h1.25M1560.5 244.1h1.25M1561.6 236.4h1.25M1566.2 241.1h1.25M1563.0 248.2h1.25M1560.5 235.9h1.25M1566.9 230.4h1.25M1562.6 245.4h1.25M1562.1 232.3h1.25M1561.6 244.2h1.25M1561.3 246.6h1.25M1562.6 247.5h1.25M1561.5 238.0h1.25M1564.5 231.2h1.25M1561.2 245.2h1.25M1565.6 231.5h1.25M1561.5 239.4h1.25M1566.5 237.3h1.25M1565.4 242.2h1.25M1567.8 233.3h1.25M1562.5 247.1h1.25M1563.3 246.9h1.25M1563.3 244.8h1.25M1564.1 244.3h1.25M1563.7 246.2h1.25M1561.2 245.7h1.25M1564.5 233.0h1.25M1566.8 237.0h1.25M1560.9 235.2h1.25M1562.2 244.6h1.25M1562.0 247.7h1.25M1564.4 233.2h1.25M1564.6 230.4h1.25M1566.7 237.0h1.25M1563.7 247.4h1.25M1563.2 245.6h1.25M1560.4 240.0h1.25M1563.6 244.9h1.25M1566.4 239.3h1.25M1566.9 241.5h1.25M1562.5 235.5h1.25M1561.7 236.2h1.25M1561.5 239.8h1.25M1565.8 239.5h1.25M1564.4 231.6h1.25M1564.2 232.0h1.25M1565.3 232.4h1.25M1565.0 245.3h1.25M1560.8 241.2h1.25M1563.7 233.1h1.25M1561.7 243.4h1.25M1561.7 237.0h1.25M1565.1 242.4h1.25M1563.9 233.2h1.25" stroke="#21d97a" stroke-width="1.25" fill="none"/>
<path d="M1563.2 245.0h1.25M1560.4 241.7h1.25M1561.8 234.6h1.25M1566.9 235.3h1.25M1561.3 246.6h1.25M1564.6 234.4h1.25M1563.2 245.1h1.25M1562.0 238.2h1.25M1561.1 241.3h1.25M1565.4 234.1h1.25M1564.8 245.9h1.25M1566.2 237.1h1.25M1563.3 232.1h1.25M1564.2 245.6h1.25M1561.0 246.6h1.25M1564.2 234.6h1.25M1566.7 235.0h1.25M1560.7 237.1h1.25M1562.4 232.7h1.25M1561.5 244.1h1.25M1561.7 235.6h1.25M1562.5 233.5h1.25M1564.2 245.2h1.25M1564.5 242.3h1.25M1562.7 233.4h1.25M1560.4 242.1h1.25M1567.0 236.8h1.25M1561.4 243.1h1.25M1566.9 238.0h1.25M1564.4 232.4h1.25M1560.3 242.5h1.25M1565.1 233.5h1.25M1565.3 235.6h1.25M1563.3 244.1h1.25M1562.4 246.7h1.25M1564.9 244.8h1.25M1565.8 239.2h1.25M1561.3 245.2h1.25M1562.5 237.2h1.25M1564.6 234.7h1.25M1566.1 238.5h1.25M1564.7 235.1h1.25M1561.7 241.1h1.25M1564.0 234.1h1.25M1566.1 233.9h1.25M1563.5 233.1h1.25M1565.8 236.6h1.25M1563.8 235.0h1.25M1565.6 236.7h1.25M1566.3 235.5h1.25M1566.4 236.8h1.25M1564.6 232.3h1.25M1564.2 245.2h1.25M1562.1 239.6h1.25M1564.2 234.6h1.25M1562.0 241.5h1.25M1563.0 246.3h1.25M1562.0 242.1h1.25M1566.3 238.2h1.25M1565.3 236.0h1.25M1565.3 236.3h1.25M1566.4 234.0h1.25M1566.2 234.3h1.25M1565.7 236.4h1.25M1565.7 235.1h1.25M1566.2 234.5h1.25M1565.5 240.6h1.25" stroke="#4fdd35" stroke-width="1.25" fill="none"/>
<path d="M1562.3 235.7h1.25M1566.0 238.9h1.25M1564.6 244.6h1.25M1566.5 239.6h1.25M1563.5 242.1h1.25M1562.6 242.8h1.25M1562.7 245.5h1.25M1566.5 237.8h1.25M1561.7 239.6h1.25M1565.3 236.9h1.25M1564.0 235.4h1.25M1562.3 235.1h1.25M1563.5 245.1h1.25M1562.9 240.9h1.25M1561.0 239.8h1.25M1565.4 242.9h1.25M1562.5 236.1h1.25M1561.7 243.7h1.25M1565.5 237.1h1.25M1564.2 243.5h1.25M1564.6 240.8h1.25M1561.6 243.6h1.25M1561.5 239.5h1.25M1562.8 236.0h1.25M1561.9 237.1h1.25M1563.4 237.8h1.25" stroke="#b3e214" stroke-width="1.25" fill="none"/>
<path d="M1564.5 238.1h1.25M1564.6 238.9h1.25M1564.7 241.9h1.25M1561.7 240.5h1.25M1562.7 243.7h1.25M1564.2 242.3h1.25M1565.1 239.5h1.25M1563.4 240.2h1.25M1562.1 242.6h1.25M1561.9 240.9h1.25M1561.7 241.7h1.25M1563.5 242.7h1.25M1563.9 242.4h1.25M1562.3 242.9h1.25M1563.8 242.3h1.25M1563.5 242.0h1.25M1565.2 240.3h1.25M1562.8 242.8h1.25M1564.8 241.8h1.25M1564.4 237.3h1.25M1564.4 239.4h1.25" stroke="#f5c800" stroke-width="1.25" fill="none"/>
<path d="M1562.4 240.2h1.25M1562.4 240.8h1.25M1564.2 235.1h1.25M1562.0 239.9h1.25M1563.7 238.8h1.25M1564.8 239.8h1.25M1564.8 240.7h1.25M1562.9 239.3h1.25M1563.8 239.1h1.25M1564.3 239.6h1.25M1562.6 241.1h1.25M1565.1 239.8h1.25M1562.5 239.3h1.25M1565.2 237.5h1.25M1564.6 236.1h1.25M1563.6 239.3h1.25M1564.5 240.6h1.25M1563.6 237.4h1.25M1564.4 237.2h1.25" stroke="#fc7903" stroke-width="1.25" fill="none"/>
<path d="M1564.0 238.9h1.25M1564.0 239.8h1.25M1564.1 236.9h1.25" stroke="#f01e14" stroke-width="1.25" fill="none"/>
<path d="M1560.6 226.0h1.25M1562.6 226.4h1.25M1562.7 230.8h1.25M1563.2 241.3h1.25M1571.6 230.1h1.25M1574.2 224.1h1.25M1577.3 199.8h1.25M1578.2 212.9h1.25M1578.9 212.3h1.25M1579.4 212.7h1.25M1579.5 205.2h1.25M1579.6 214.7h1.25M1581.0 203.3h1.25M1582.2 206.5h1.25M1577.8 215.7h1.25M1562.0 233.4h1.25M1559.6 218.1h1.25M1566.7 228.9h1.25M1574.4 198.6h1.25M1563.9 225.9h1.25M1584.1 207.8h1.25M1567.8 208.9h1.25M1568.4 208.1h1.25M1575.8 203.3h1.25M1570.5 203.9h1.25M1575.1 219.8h1.25M1566.4 203.5h1.25M1575.5 201.3h1.25M1578.4 214.2h1.25M1570.2 227.8h1.25M1564.7 236.8h1.25M1572.8 202.1h1.25M1574.4 224.3h1.25M1570.9 228.8h1.25M1566.7 213.2h1.25M1574.6 225.2h1.25M1577.1 214.1h1.25M1564.1 222.0h1.25" stroke="#2828ff" stroke-width="1.25" fill="none"/>
<path d="M1564.2 222.7h1.25M1580.2 212.1h1.25M1562.6 209.5h1.25M1568.7 229.4h1.25M1564.3 227.1h1.25M1580.1 203.9h1.25M1571.7 232.0h1.25M1562.1 226.6h1.25M1565.3 217.4h1.25M1567.4 212.0h1.25M1570.2 227.7h1.25M1571.4 225.2h1.25M1565.4 214.5h1.25M1572.9 204.5h1.25M1563.5 221.7h1.25M1575.4 205.1h1.25M1573.8 203.8h1.25M1569.2 207.0h1.25M1574.4 205.4h1.25M1575.8 204.3h1.25M1566.4 213.6h1.25M1563.6 227.0h1.25M1578.5 209.9h1.25M1568.3 210.9h1.25M1569.9 226.0h1.25M1566.5 227.7h1.25M1563.8 219.7h1.25M1566.0 228.1h1.25M1573.8 206.1h1.25M1576.6 211.0h1.25M1564.4 219.1h1.25M1566.0 215.9h1.25M1571.1 224.2h1.25M1577.5 211.1h1.25M1565.0 225.6h1.25M1564.4 222.7h1.25M1568.2 227.3h1.25" stroke="#1c43ff" stroke-width="1.25" fill="none"/>
<path d="M1565.7 225.1h1.25M1567.2 212.5h1.25M1565.2 225.1h1.25M1575.2 215.7h1.25M1573.6 205.0h1.25M1565.0 222.3h1.25M1569.0 226.3h1.25M1568.4 211.6h1.25M1575.7 208.4h1.25M1575.0 217.1h1.25M1575.9 204.8h1.25M1566.2 226.4h1.25M1568.0 224.3h1.25M1568.4 213.6h1.25M1566.6 216.4h1.25M1569.5 225.3h1.25M1565.8 222.9h1.25M1575.6 211.1h1.25M1568.1 214.1h1.25M1567.3 225.1h1.25M1570.6 222.7h1.25M1573.5 206.9h1.25M1574.5 216.2h1.25M1575.4 215.3h1.25M1566.7 218.0h1.25M1575.4 214.1h1.25M1570.0 223.0h1.25M1574.8 215.0h1.25M1570.7 224.3h1.25" stroke="#115fff" stroke-width="1.25" fill="none"/>
<path d="M1575.1 213.2h1.25M1575.5 213.6h1.25M1573.1 209.0h1.25M1568.1 223.6h1.25M1566.7 220.2h1.25M1572.7 219.0h1.25M1571.8 222.5h1.25M1569.5 224.9h1.25M1568.0 223.7h1.25M1575.8 207.2h1.25M1574.4 214.4h1.25M1568.5 223.5h1.25M1567.9 225.5h1.25M1567.9 214.7h1.25M1575.3 211.6h1.25M1575.9 208.7h1.25M1574.5 211.5h1.25M1566.4 220.0h1.25M1570.2 210.3h1.25M1573.3 208.5h1.25M1575.4 208.6h1.25M1570.3 211.8h1.25M1567.3 223.0h1.25M1572.0 220.5h1.25M1568.5 222.7h1.25M1574.4 209.8h1.25M1566.4 221.6h1.25M1575.3 211.9h1.25M1575.1 215.0h1.25M1575.0 209.3h1.25M1572.7 210.9h1.25M1567.7 217.6h1.25M1568.3 224.1h1.25M1569.1 214.7h1.25M1575.3 212.2h1.25M1567.7 220.3h1.25M1567.9 217.9h1.25M1570.3 210.8h1.25M1574.0 211.0h1.25M1571.9 220.2h1.25M1572.1 211.1h1.25M1572.1 218.2h1.25M1570.9 222.0h1.25M1571.1 220.3h1.25" stroke="#067bff" stroke-width="1.25" fill="none"/>
<path d="M1574.9 209.8h1.25M1569.6 213.1h1.25M1568.8 215.4h1.25M1569.0 216.4h1.25M1568.5 219.1h1.25M1570.1 221.5h1.25M1572.5 218.7h1.25M1567.6 221.8h1.25M1567.5 219.8h1.25M1568.8 217.0h1.25M1573.1 218.1h1.25M1573.9 214.7h1.25M1570.5 213.7h1.25M1573.5 210.9h1.25M1573.8 215.0h1.25M1570.1 213.5h1.25M1568.6 216.7h1.25M1567.7 221.0h1.25M1568.2 216.4h1.25M1569.3 218.7h1.25M1571.9 218.2h1.25M1571.1 219.6h1.25M1570.5 220.4h1.25M1572.8 217.5h1.25M1570.5 214.7h1.25M1573.0 212.4h1.25M1567.8 219.4h1.25M1570.7 219.5h1.25M1571.2 213.9h1.25" stroke="#0098f5" stroke-width="1.25" fill="none"/>
<path d="M1570.8 219.3h1.25M1573.3 212.0h1.25M1573.5 211.8h1.25M1572.9 214.6h1.25M1571.0 217.5h1.25M1569.3 219.8h1.25M1569.9 215.7h1.25M1573.1 214.1h1.25M1570.4 218.8h1.25M1570.7 214.1h1.25M1569.2 218.6h1.25M1571.3 217.0h1.25M1570.5 219.2h1.25M1569.7 215.5h1.25M1572.5 216.4h1.25M1571.1 213.2h1.25M1569.6 218.3h1.25M1570.6 213.9h1.25M1572.3 212.7h1.25M1571.0 215.7h1.25" stroke="#00b7de" stroke-width="1.25" fill="none"/>
<path d="M1570.4 215.9h1.25M1570.6 216.6h1.25M1571.7 215.4h1.25" stroke="#00d7c8" stroke-width="1.25" fill="none"/>
<path d="M1563.8 292.0h1.1M1561.0 272.0h1.1M1566.0 268.0h1.1M1575.0 199.5h1.1M1582.0 204.0h1.1" stroke="#4a4aff" stroke-width="1.1" fill="none" opacity="0.85"/>
<line x1="917.60" y1="375.30" x2="917.60" y2="284.00" stroke="#000" stroke-width="1.6" />
<line x1="916.80" y1="375.30" x2="984.50" y2="375.30" stroke="#000" stroke-width="1.6" />
<polygon points="912.7,285 917.6,275.2 922.5,285"/><polygon points="983.8,370.4 993.3,375.3 983.8,380.2"/>
<text x="907.00" y="345.50" font-size="24" text-anchor="middle" textLength="53.5" lengthAdjust="spacingAndGlyphs" transform="rotate(-90 907.00 345.50)">BrdU</text>
<text x="918.00" y="401.80" font-size="23" textLength="70.0" lengthAdjust="spacingAndGlyphs">7-AAD</text>
</g>
<g id="panel-d">
<text x="1774.00" y="18.50" font-size="23" font-weight="bold">d</text>
<path d="M1832.3 83.8H1839.6V330.4M1832.3 166.8H1839.6M1832.3 248.6H1839.6M1832.3 330.4H2005M1864.9 330.4V338.8M1902.7 330.4V338.8M1940.5 330.4V338.8M1978.3 330.4V338.8" stroke="#000" stroke-width="1.7" fill="none"/>
<text x="1829.00" y="91.40" font-size="22" text-anchor="end">15</text>
<text x="1829.00" y="174.40" font-size="22" text-anchor="end">10</text>
<text x="1829.00" y="256.20" font-size="22" text-anchor="end">5</text>
<text x="1829.00" y="338.00" font-size="22" text-anchor="end">0</text>
<text x="1796" y="201.8" font-size="22" text-anchor="middle" transform="rotate(-90 1796 201.8)">BrdU<tspan dy="-7.5" font-size="14">+</tspan><tspan dy="7.5"> BM LLPC (%)</tspan></text>
<circle cx="1856.9" cy="329.6" r="5.2"/>
<circle cx="1864.9" cy="329.6" r="5.2"/>
<circle cx="1873.2" cy="329.6" r="5.2"/>
<rect x="1890.00" y="324.00" width="25.90" height="10.40" fill="#000" stroke="none" stroke-width="1" />
<polygon points="1927.5,334.16999999999996 1938.1,334.16999999999996 1932.8,324.36499999999995"/>
<polygon points="1935.2,334.16999999999996 1945.8,334.16999999999996 1940.5,324.36499999999995"/>
<polygon points="1942.9,334.16999999999996 1953.5,334.16999999999996 1948.2,324.36499999999995"/>
<polygon points="1973.0,323.74 1983.8000000000002,323.74 1978.4,333.73"/>
<text x="1871.40" y="357.00" font-size="22" text-anchor="end" transform="rotate(-45 1871.40 357.00)">Day 1</text>
<text x="1909.20" y="357.00" font-size="22" text-anchor="end" transform="rotate(-45 1909.20 357.00)">Day 3</text>
<text x="1947.00" y="357.00" font-size="22" text-anchor="end" transform="rotate(-45 1947.00 357.00)">Day 7</text>
<text x="1984.80" y="357.00" font-size="22" text-anchor="end" transform="rotate(-45 1984.80 357.00)">No pulse</text>
</g>
<g id="panel-e">
<defs>
<pattern id="pdL" width="4.6" height="4.6" patternUnits="userSpaceOnUse"><rect width="4.6" height="4.6" fill="#9a9a9a"/><rect x="1.2" y="1.2" width="2.3" height="2.3" fill="#e6e6e6"/></pattern>
<pattern id="pdD" width="4.65" height="4.65" patternUnits="userSpaceOnUse"><rect width="4.65" height="4.65" fill="#4e4e4e"/><rect x="1.2" y="1.2" width="2.2" height="2.2" fill="#777"/></pattern>
<pattern id="pdD2" width="4.65" height="4.65" patternUnits="userSpaceOnUse"><rect width="4.65" height="4.65" fill="#5d5d5d"/><rect x="1.2" y="1.2" width="2.2" height="2.2" fill="#8a8a8a"/></pattern>
<pattern id="pdR" width="4.5" height="4.5" patternUnits="userSpaceOnUse"><rect width="4.5" height="4.5" fill="#6e6e6e"/><rect x="1.2" y="1.2" width="2.1" height="2.1" fill="#c9c9c9"/></pattern>
<pattern id="pfine" width="2.3" height="2.3" patternUnits="userSpaceOnUse"><rect width="2.3" height="2.3" fill="#dcdcdc"/><path d="M0 0H2.3M0 0V2.3" stroke="#cfcfcf" stroke-width="0.7"/></pattern>
<pattern id="pfineR" width="2.3" height="2.3" patternUnits="userSpaceOnUse"><rect width="2.3" height="2.3" fill="#8a8a8a"/><path d="M0 0H2.3M0 0V2.3" stroke="#808080" stroke-width="0.7"/></pattern>
<filter id="b09" x="-10%" y="-10%" width="120%" height="120%"><feGaussianBlur stdDeviation="0.9"/></filter>
<filter id="b07" x="-10%" y="-10%" width="120%" height="120%"><feGaussianBlur stdDeviation="0.7"/></filter>
<filter id="b12" x="-10%" y="-10%" width="120%" height="120%"><feGaussianBlur stdDeviation="1.2"/></filter>
<filter id="b04" x="-10%" y="-10%" width="120%" height="120%"><feGaussianBlur stdDeviation="0.45"/></filter>
<path id="penO" d="M4 184V3Q4 0 7 0H14Q17 0 17 3V184M40.5 184V3Q40.5 0 43.5 0H50.8Q53.8 0 53.8 3V184M17 164.2Q28.7 173.4 40.5 164.2M0 169Q2.5 168 4 164.2M53.8 164.2Q57 168.5 61.6 169.5M0 182H61.6" fill="none"/>
<path id="pilF" d="M4 184V3Q4 0 7 0H14Q17 0 17 3V184ZM40.5 184V3Q40.5 0 43.5 0H50.8Q53.8 0 53.8 3V184Z"/>
<path id="botF" d="M17 164.2Q28.7 173.4 40.5 164.2V184H17ZM0 169Q2.5 168 4 164.2V184H0ZM53.8 164.2Q57 168.5 61.6 169.5V184H53.8Z"/>
<path id="intF" d="M17 -2V164.2Q28.7 173.4 40.5 164.2V-2Z"/>
</defs>
<text x="5.50" y="508.20" font-size="23" font-weight="bold">e</text>
<text x="25.00" y="533.60" font-size="22">Ref.</text>
<text x="283.00" y="515.20" font-size="23" textLength="221.3" lengthAdjust="spacingAndGlyphs">Day in on-chip culture</text>
<line x1="76.20" y1="527.70" x2="710.20" y2="527.70" stroke="#000" stroke-width="1.5" />
<text x="105.80" y="555.00" font-size="22" text-anchor="middle">1</text>
<text x="169.70" y="555.00" font-size="22" text-anchor="middle">2</text>
<text x="233.60" y="555.00" font-size="22" text-anchor="middle">3</text>
<text x="297.50" y="555.00" font-size="22" text-anchor="middle">4</text>
<text x="361.40" y="555.00" font-size="22" text-anchor="middle">5</text>
<text x="425.30" y="555.00" font-size="22" text-anchor="middle">6</text>
<text x="489.20" y="555.00" font-size="22" text-anchor="middle">7</text>
<text x="553.10" y="555.00" font-size="22" text-anchor="middle">8</text>
<text x="617.00" y="555.00" font-size="22" text-anchor="middle">9</text>
<text x="679.90" y="555.00" font-size="22" text-anchor="middle">10</text>
<clipPath id="ce0"><rect x="12.2" y="566.9" width="60.5" height="278.80000000000007"/></clipPath>
<g clip-path="url(#ce0)"><rect x="12.2" y="566.9" width="61" height="278.80000000000007" fill="url(#pfineR)"/>
<g transform="translate(12.2 661.8) scale(1.02 1)"><use href="#pilF" fill="none" stroke="#555" stroke-width="4.5" filter="url(#b07)"/><use href="#botF" fill="none" stroke="#555" stroke-width="4" filter="url(#b07)"/><use href="#pilF" fill="url(#pdR)"/><use href="#botF" fill="url(#pdR)"/><use href="#penO" stroke="#236623" stroke-width="1.3"/></g>
<circle cx="41.6" cy="757.4" r="1.6" fill="#f4f4f4" stroke="#aaa" stroke-width="0.8"/>
<g fill="#e9e01c" font-weight="bold" font-style="italic" font-size="12.5"><text x="31.7" y="842.6" textLength="20.5" lengthAdjust="spacingAndGlyphs">527</text><text x="7.7" y="842.6">5</text><text x="67.8" y="842.6">5</text></g>
<rect x="12.20" y="843.60" width="61.00" height="2.20" fill="#2a5a2a" stroke="none" stroke-width="1" />
</g>
<clipPath id="cr"><rect x="0" y="-94.89999999999998" width="61.2" height="278.80000000000007"/></clipPath>
<g transform="translate(75.30 661.8)" clip-path="url(#cr)">
<rect x="0" y="-94.89999999999998" width="61.2" height="278.80000000000007" fill="#170000"/>
<g fill="none" stroke-linecap="round"><g filter="url(#b12)"><path d="M38.1 -66.1h.1M48.7 -76.9h.1M45.3 -75.8h.1M1.8 -51.1h.1M57.7 -61.0h.1M55.1 -32.1h.1M28.7 -39.3h.1M33.3 -57.0h.1M0.8 -37.7h.1M17.1 -75.5h.1M46.9 -34.6h.1M48.8 -33.5h.1M37.8 -32.8h.1M0.1 -73.1h.1M12.8 -37.6h.1M60.1 -73.1h.1M17.7 -77.9h.1M33.0 -62.6h.1M12.5 -76.8h.1M42.3 -78.2h.1M54.7 -42.1h.1M22.1 -35.0h.1M8.9 -29.5h.1M18.4 -58.6h.1M0.2 -62.6h.1M20.7 -42.7h.1M50.1 -52.0h.1M19.3 -52.0h.1M43.1 -29.1h.1M59.7 -27.2h.1M45.9 -71.6h.1M1.1 -68.5h.1M22.4 -57.2h.1M0.6 -28.5h.1M11.1 -77.6h.1M12.0 -66.8h.1M56.9 -76.9h.1M21.1 -45.2h.1M32.1 -67.9h.1M6.6 -66.4h.1M48.8 -72.4h.1M2.2 -77.1h.1" stroke="#340000" stroke-width="3.6"/><path d="M5.6 -20.9h.1M37.4 -41.1h.1M20.8 -41.3h.1M33.4 -19.9h.1M19.4 -15.2h.1M4.8 -14.2h.1M42.2 -43.9h.1M9.9 -10.7h.1M60.4 -27.7h.1M24.8 -17.3h.1M36.4 -37.9h.1M27.9 -23.8h.1M3.4 -41.1h.1M2.0 -26.3h.1M51.3 -13.6h.1M44.8 -42.2h.1M38.6 -36.6h.1M6.5 -24.2h.1M9.1 -38.6h.1M18.0 -24.9h.1M61.2 -38.8h.1M59.7 -24.9h.1M29.9 -34.5h.1M29.3 -19.2h.1M24.7 -14.1h.1M23.1 -43.6h.1M58.7 -30.9h.1M30.6 -20.8h.1M5.5 -18.5h.1M47.9 -39.4h.1M22.1 -36.5h.1M47.4 -33.3h.1M40.6 -35.6h.1M22.2 -33.7h.1M17.2 -26.0h.1M47.1 -33.2h.1M18.0 -42.1h.1M39.8 -29.3h.1M0.7 -28.1h.1M15.3 -32.5h.1" stroke="#6e0000" stroke-width="3.4"/></g><g filter="url(#b09)"><path d="M28.3 -10.5l1.2 -0.8M39.4 -19.3l1.0 1.6M21.4 -16.9l0.8 2.4M58.5 -23.7l0.1 0.1M10.2 -18.1l-0.1 1.0M44.0 -27.7l0.9 -1.6M47.8 -19.0l-0.3 0.6M47.4 -12.1l0.5 1.1M1.7 -10.4l0.6 -1.4M42.0 -14.4l0.5 -2.3M28.9 -4.1l-1.5 -0.9M11.1 -7.5l-1.2 -2.3M28.5 -15.6l0.4 -1.3M55.3 -14.8l-2.0 -0.5M17.0 -8.5l1.3 -0.6M2.2 -6.7l0.5 -2.0M33.4 -11.9l1.8 1.6" stroke="#b00000" stroke-width="3.2"/><path d="M25.6 -12.9l1.6 0.7M22.6 -10.8l0.3 2.3M59.2 -12.4l0.5 -0.7M54.7 -7.8l0.3 0.6M8.6 -4.0l0.6 2.0M23.0 -9.2l-1.0 2.4M23.2 -6.4l2.3 2.1M36.5 -5.4l-0.0 -0.4M19.5 -26.5l2.4 -0.0M17.5 -8.0l0.6 -0.3M17.9 -4.6l1.4 1.6M0.8 -10.3l2.2 1.4" stroke="#ff0505" stroke-width="3.5"/>
<circle cx="14.5" cy="-9.5" r="4.6" fill="#ff0a0a"/>
<circle cx="21.5" cy="-15" r="3.4" fill="#ff0a0a"/>
<circle cx="24.5" cy="-18" r="2.4" fill="#ff0a0a"/>
</g></g>
<rect x="0" y="10" width="61.2" height="16.5" fill="#000" filter="url(#b12)"/><rect x="0" y="2" width="61.2" height="9" fill="#0a0000" opacity="0.6" filter="url(#b12)"/>
<use href="#pilF" fill="#020000"/>
<use href="#penO" stroke="#0d5c0d" stroke-width="1"/>
<g fill="#e9e01c" font-weight="bold" font-style="italic" font-size="12.5"><text x="19.5" y="180.8" textLength="20.5" lengthAdjust="spacingAndGlyphs">527</text><text x="-4.5" y="180.8">5</text><text x="55.6" y="180.8">5</text></g>
</g>
<g transform="translate(139.20 661.8)" clip-path="url(#cr)">
<rect x="0" y="-94.89999999999998" width="61.2" height="278.80000000000007" fill="#170000"/>
<g fill="none" stroke-linecap="round"><g filter="url(#b12)"><path d="M15.0 -40.5h.1M9.5 -79.4h.1M17.9 -58.8h.1M29.0 -60.8h.1M37.0 -66.1h.1M7.2 -67.1h.1M18.4 -54.8h.1M20.6 -42.0h.1M32.4 -51.1h.1M22.1 -66.2h.1M36.2 -28.0h.1M15.4 -50.6h.1M56.1 -73.9h.1M33.4 -26.8h.1M47.6 -49.1h.1M35.2 -64.2h.1M38.7 -52.0h.1M55.8 -46.8h.1M24.0 -72.0h.1M12.0 -42.0h.1M50.8 -29.6h.1M51.2 -63.5h.1M26.5 -41.5h.1M47.8 -75.2h.1M8.7 -51.8h.1M33.6 -52.9h.1M20.2 -34.3h.1M35.9 -69.8h.1M4.2 -38.4h.1M50.2 -68.8h.1M40.6 -27.4h.1M44.2 -78.8h.1M61.1 -63.9h.1M3.0 -71.5h.1M13.4 -60.9h.1M58.3 -64.5h.1M8.2 -41.8h.1M56.2 -34.1h.1M37.4 -48.4h.1M9.9 -59.6h.1M2.7 -31.8h.1" stroke="#340000" stroke-width="3.6"/><path d="M23.2 -11.5h.1M3.5 -29.1h.1M45.4 -39.7h.1M8.2 -24.1h.1M19.3 -30.0h.1M30.0 -41.8h.1M22.9 -11.0h.1M42.7 -14.3h.1M38.6 -26.7h.1M55.7 -28.4h.1M38.0 -18.2h.1M33.8 -17.9h.1M45.9 -27.1h.1M8.2 -17.2h.1M22.7 -34.8h.1M11.0 -34.0h.1M40.1 -12.0h.1M40.9 -12.2h.1M7.6 -29.8h.1M14.6 -39.7h.1M29.4 -20.3h.1M48.7 -10.0h.1M44.4 -10.9h.1M9.2 -42.3h.1M41.7 -16.8h.1M7.1 -43.0h.1M40.7 -37.7h.1M8.6 -30.9h.1M21.7 -17.2h.1M20.4 -30.5h.1M21.3 -22.5h.1M8.3 -38.1h.1M39.7 -37.2h.1M26.5 -38.8h.1M31.7 -29.7h.1M35.1 -34.9h.1M24.2 -12.4h.1M2.0 -16.1h.1" stroke="#6e0000" stroke-width="3.4"/></g><g filter="url(#b09)"><path d="M2.4 -5.5l1.6 -0.1M46.5 -17.0l1.6 0.6M26.2 -3.5l-0.1 -2.0M9.5 -9.8l-0.5 1.9M9.3 -13.3l-1.0 -1.1M9.9 -5.5l-0.1 -2.3M56.6 -12.1l-0.5 2.2M42.1 -9.7l1.8 -1.9M40.9 -15.5l-0.8 0.9M44.6 -7.7l-1.9 -1.3M4.8 -10.4l-0.4 2.4M22.3 -8.6l-0.9 1.2M43.9 -16.0l-1.3 -1.3M41.1 -19.6l-0.3 2.4M0.4 -9.8l-1.8 1.4M25.1 -18.0l2.0 0.1" stroke="#b00000" stroke-width="3.2"/><path d="M21.4 -6.8l-2.0 -2.1M55.0 -22.7l-2.2 -1.3M3.1 -5.0l-0.5 -2.2M15.6 -9.7l-2.2 -2.3M59.5 -7.8l-1.6 0.0M24.6 -7.3l-0.9 -2.0M33.2 -4.7l2.1 0.5M52.4 -4.3l0.2 -0.1M35.0 -5.5l-0.6 0.6M44.4 -9.9l-0.3 1.6M13.7 -7.6l-1.9 -0.9" stroke="#ff0505" stroke-width="3.5"/>
<circle cx="28" cy="-10.5" r="2.6" fill="#ff0a0a"/>
<circle cx="47" cy="-12.5" r="2.8" fill="#ff0a0a"/>
<circle cx="6" cy="-8" r="2.6" fill="#ff0a0a"/>
</g></g>
<rect x="0" y="10" width="61.2" height="16.5" fill="#000" filter="url(#b12)"/><rect x="0" y="2" width="61.2" height="9" fill="#0a0000" opacity="0.6" filter="url(#b12)"/>
<use href="#pilF" fill="#020000"/>
<use href="#penO" stroke="#0d5c0d" stroke-width="1"/>
<g fill="#e9e01c" font-weight="bold" font-style="italic" font-size="12.5"><text x="19.5" y="180.8" textLength="20.5" lengthAdjust="spacingAndGlyphs">527</text><text x="-4.5" y="180.8">5</text><text x="55.6" y="180.8">5</text></g>
</g>
<g transform="translate(203.10 661.8)" clip-path="url(#cr)">
<rect x="0" y="-94.89999999999998" width="61.2" height="278.80000000000007" fill="#170000"/>
<g fill="none" stroke-linecap="round"><g filter="url(#b12)"><path d="M5.4 -67.7h.1M50.1 -42.9h.1M7.9 -30.4h.1M15.0 -30.6h.1M26.2 -57.2h.1M15.0 -29.3h.1M42.9 -28.6h.1M12.2 -41.4h.1M22.9 -31.3h.1M25.7 -43.0h.1M46.0 -56.0h.1M54.8 -61.3h.1M46.5 -57.0h.1M27.1 -70.1h.1M40.1 -77.6h.1M44.6 -63.9h.1M16.4 -69.9h.1M23.4 -33.0h.1M4.0 -35.1h.1M16.1 -62.5h.1M17.5 -29.4h.1M46.7 -56.1h.1M1.7 -28.7h.1M8.0 -45.3h.1M52.6 -77.3h.1M37.5 -38.5h.1M26.2 -45.6h.1M20.2 -26.7h.1M35.8 -70.7h.1M44.5 -31.1h.1M32.5 -35.2h.1M43.4 -50.1h.1M57.4 -68.9h.1M7.2 -43.1h.1M56.0 -50.9h.1M26.6 -49.8h.1M47.0 -76.6h.1M32.6 -78.4h.1M36.5 -31.6h.1M49.8 -48.7h.1" stroke="#340000" stroke-width="3.6"/><path d="M3.2 -43.2h.1M2.0 -29.2h.1M29.5 -39.9h.1M24.0 -16.5h.1M17.0 -16.0h.1M34.4 -21.5h.1M46.0 -17.5h.1M21.5 -17.7h.1M60.1 -38.4h.1M52.0 -30.6h.1M24.5 -14.0h.1M50.9 -26.2h.1M2.3 -14.9h.1M6.0 -34.1h.1M55.1 -16.0h.1M48.8 -20.3h.1M41.8 -39.2h.1M38.1 -37.0h.1M23.0 -9.4h.1M31.3 -29.5h.1M11.3 -22.6h.1M19.4 -9.9h.1M19.1 -22.4h.1M29.1 -33.6h.1M24.4 -43.4h.1M49.9 -41.3h.1M42.4 -32.5h.1M32.8 -37.0h.1M22.2 -29.8h.1M41.6 -27.3h.1M17.4 -11.7h.1M5.3 -21.5h.1M35.5 -35.6h.1M43.7 -19.7h.1M56.9 -18.6h.1M43.8 -11.5h.1M46.1 -32.4h.1" stroke="#6e0000" stroke-width="3.4"/></g><g filter="url(#b09)"><path d="M58.6 -18.1l1.4 1.2M37.4 -14.5l-1.2 0.1M54.8 -5.7l0.2 -0.5M0.2 -36.0l-0.4 -1.6M40.0 -24.8l0.5 -0.6M6.7 -19.0l0.8 0.3M43.8 -21.1l-1.1 -1.0M16.4 -21.3l0.5 2.0M10.2 -17.2l-1.1 -2.2M34.6 -18.7l1.3 1.9M44.6 -14.4l0.1 2.0M18.5 -9.8l-0.9 0.5M59.2 -4.6l-1.5 0.3M36.9 -6.3l-1.3 -1.5M36.4 -14.6l0.9 -2.2" stroke="#b00000" stroke-width="3.2"/><path d="M29.7 -13.7l1.7 2.3M19.5 -10.8l2.1 -1.4M42.6 -13.3l1.7 -0.1M6.2 -5.6l-2.0 -1.7M37.7 -8.4l-2.0 1.3M45.1 -9.8l1.1 2.1M58.6 -17.2l0.6 2.3M6.3 -6.3l-1.5 -0.6M28.1 -5.8l0.9 1.2M5.1 -12.2l-0.6 -1.9M36.5 -9.7l-0.6 0.9" stroke="#ff0505" stroke-width="3.5"/>
<circle cx="30.5" cy="-6" r="3.4" fill="#ff0a0a"/>
</g></g>
<rect x="0" y="10" width="61.2" height="16.5" fill="#000" filter="url(#b12)"/><rect x="0" y="2" width="61.2" height="9" fill="#0a0000" opacity="0.6" filter="url(#b12)"/>
<use href="#pilF" fill="#020000"/>
<use href="#penO" stroke="#0d5c0d" stroke-width="1"/>
<g fill="#e9e01c" font-weight="bold" font-style="italic" font-size="12.5"><text x="19.5" y="180.8" textLength="20.5" lengthAdjust="spacingAndGlyphs">527</text><text x="-4.5" y="180.8">5</text><text x="55.6" y="180.8">5</text></g>
</g>
<g transform="translate(267.00 661.8)" clip-path="url(#cr)">
<rect x="0" y="-94.89999999999998" width="61.2" height="278.80000000000007" fill="#170000"/>
<g fill="none" stroke-linecap="round"><g filter="url(#b12)"><path d="M30.3 -78.0h.1M57.8 -29.9h.1M46.5 -64.9h.1M18.1 -32.3h.1M29.3 -45.1h.1M45.1 -75.6h.1M23.4 -41.7h.1M30.5 -63.6h.1M48.3 -57.1h.1M18.1 -44.2h.1M51.9 -54.0h.1M3.1 -48.7h.1M14.6 -62.0h.1M4.5 -40.6h.1M5.9 -51.8h.1M60.3 -55.2h.1M23.6 -76.4h.1M5.6 -45.2h.1M49.6 -26.3h.1M46.9 -45.5h.1M1.0 -39.5h.1M28.0 -46.7h.1M31.6 -28.9h.1M13.4 -78.6h.1M27.1 -51.5h.1M5.2 -41.1h.1M58.4 -63.1h.1M31.1 -28.9h.1M24.0 -68.0h.1M26.6 -58.1h.1M55.2 -60.8h.1M38.9 -27.9h.1M1.5 -67.6h.1M25.3 -73.2h.1M50.5 -75.4h.1M23.2 -79.9h.1M46.3 -74.2h.1M9.1 -68.2h.1M25.8 -78.5h.1" stroke="#340000" stroke-width="3.6"/><path d="M60.8 -16.6h.1M25.8 -18.5h.1M28.8 -19.0h.1M40.8 -13.3h.1M10.4 -25.0h.1M4.5 -22.3h.1M54.9 -40.0h.1M12.0 -9.6h.1M50.7 -42.6h.1M36.7 -13.8h.1M14.5 -41.2h.1M57.4 -10.1h.1M11.3 -24.0h.1M16.3 -35.4h.1M22.8 -36.1h.1M9.3 -27.1h.1M59.7 -33.6h.1M5.5 -12.9h.1M39.4 -22.1h.1M22.6 -25.7h.1M35.6 -42.8h.1M14.7 -28.9h.1M16.1 -28.1h.1M44.8 -13.7h.1M29.4 -33.7h.1M0.5 -36.0h.1M25.6 -26.6h.1M37.4 -36.8h.1M3.4 -26.5h.1M2.3 -22.5h.1M21.2 -9.7h.1M18.2 -24.8h.1M40.1 -41.4h.1M22.7 -27.6h.1M43.6 -41.8h.1M58.1 -43.6h.1" stroke="#6e0000" stroke-width="3.4"/></g><g filter="url(#b09)"><path d="M18.5 -17.4l-1.7 -0.3M45.1 -27.6l0.1 -0.6M56.6 -8.1l1.3 -1.8M21.5 -18.0l-0.0 0.3M12.7 -7.5l-1.6 -0.8M8.8 -4.7l1.9 -1.2M16.9 -7.6l-1.0 1.6M38.3 -22.8l-0.4 0.6M15.0 -5.6l-0.2 2.0M10.8 -28.0l-1.5 -2.2M45.3 -5.0l-1.8 1.6M30.3 -4.1l1.5 -2.3M36.0 -17.7l0.4 0.6M13.6 -16.4l1.8 -1.9M3.9 -5.6l-1.7 -0.2" stroke="#b00000" stroke-width="3.2"/><path d="M39.7 -7.2l2.0 1.1M4.2 -13.6l-1.9 1.3M15.8 -16.1l-1.0 -2.5M46.4 -21.2l-0.2 -1.7M13.2 -5.7l-1.2 2.2M12.6 -10.3l-2.1 -0.4M38.0 -7.9l0.8 -1.6M8.5 -16.2l-0.3 0.4M55.8 -4.7l-1.8 -1.2M30.2 -20.7l0.3 0.8" stroke="#ff0505" stroke-width="3.5"/>
<circle cx="33" cy="8" r="2.7" fill="#ff0a0a"/>
<circle cx="28" cy="-10" r="3.2" fill="#ff0a0a"/>
<circle cx="22" cy="-11" r="2.6" fill="#ff0a0a"/>
</g></g>
<rect x="0" y="10" width="61.2" height="16.5" fill="#000" filter="url(#b12)"/><rect x="0" y="2" width="61.2" height="9" fill="#0a0000" opacity="0.6" filter="url(#b12)"/>
<use href="#pilF" fill="#020000"/>
<ellipse cx="33" cy="8" rx="2.4" ry="3.2" fill="#ff0a0a" filter="url(#b04)"/>
<use href="#penO" stroke="#0d5c0d" stroke-width="1"/>
<g fill="#e9e01c" font-weight="bold" font-style="italic" font-size="12.5"><text x="19.5" y="180.8" textLength="20.5" lengthAdjust="spacingAndGlyphs">527</text><text x="-4.5" y="180.8">5</text><text x="55.6" y="180.8">5</text></g>
</g>
<g transform="translate(330.90 661.8)" clip-path="url(#cr)">
<rect x="0" y="-94.89999999999998" width="61.2" height="278.80000000000007" fill="#170000"/>
<g fill="none" stroke-linecap="round"><g filter="url(#b12)"><path d="M25.7 -68.4h.1M51.2 -41.9h.1M6.6 -40.0h.1M21.9 -74.0h.1M16.2 -60.0h.1M39.2 -77.6h.1M7.1 -67.6h.1M20.6 -31.6h.1M38.7 -71.6h.1M35.6 -28.7h.1M59.5 -46.7h.1M38.9 -65.1h.1M16.0 -48.1h.1M20.2 -31.2h.1M3.9 -64.7h.1M25.1 -73.0h.1M3.8 -42.3h.1M11.0 -76.9h.1M48.4 -74.4h.1M31.0 -31.6h.1M25.5 -38.2h.1M1.6 -56.5h.1M17.7 -31.8h.1M31.3 -76.4h.1M57.9 -51.2h.1M6.3 -67.5h.1M7.0 -55.0h.1M5.1 -79.3h.1M33.2 -49.6h.1M16.7 -55.8h.1M59.5 -49.1h.1M12.8 -53.8h.1M56.2 -46.6h.1M38.8 -75.6h.1M19.9 -69.8h.1M32.4 -33.5h.1M3.3 -76.7h.1M28.5 -49.9h.1" stroke="#340000" stroke-width="3.6"/><path d="M56.2 -29.1h.1M30.6 -18.9h.1M45.5 -18.0h.1M28.8 -35.5h.1M37.0 -13.7h.1M12.4 -33.3h.1M44.6 -12.6h.1M61.0 -13.7h.1M10.3 -12.1h.1M27.3 -30.7h.1M52.5 -14.7h.1M42.8 -12.7h.1M35.5 -17.8h.1M21.8 -10.8h.1M44.1 -13.3h.1M46.8 -20.8h.1M36.2 -31.4h.1M29.9 -39.6h.1M56.3 -18.9h.1M20.4 -39.7h.1M8.1 -23.7h.1M25.4 -43.2h.1M7.8 -31.9h.1M46.3 -34.5h.1M0.1 -42.0h.1M19.1 -38.9h.1M40.5 -23.7h.1M51.3 -32.7h.1M20.8 -34.6h.1M30.9 -33.9h.1M37.6 -36.9h.1M9.7 -26.3h.1M0.1 -36.7h.1M47.2 -38.3h.1M2.6 -27.7h.1" stroke="#6e0000" stroke-width="3.4"/></g><g filter="url(#b09)"><path d="M29.3 -9.3l-1.5 -1.5M59.6 -8.8l1.3 0.8M23.6 -10.6l0.6 -1.4M16.8 -21.0l0.3 1.2M30.8 -4.6l-0.3 -1.0M45.0 -14.8l1.0 -0.3M42.0 -15.1l-1.8 -1.2M51.4 -6.0l-1.9 1.3M6.5 -6.8l-0.2 -0.3M49.1 -17.9l-1.9 1.5M47.0 -5.6l0.5 1.7M37.6 -8.5l0.5 -2.4M54.1 -26.4l2.0 -1.5M4.0 -6.5l-0.5 -2.1" stroke="#b00000" stroke-width="3.2"/><path d="M13.5 -7.1l-2.5 -0.4M18.4 -5.1l-1.7 2.3M54.7 -11.9l0.9 -1.4M24.6 -11.8l-2.4 -0.2M47.0 -6.5l1.0 1.8M41.8 -5.3l2.1 1.5M25.5 -20.1l0.8 0.8M54.0 -6.0l-1.5 -0.9M15.3 -12.4l0.9 1.3M11.8 -19.0l-0.7 -2.0" stroke="#ff0505" stroke-width="3.5"/>
<circle cx="10" cy="-14" r="3.2" fill="#ff0a0a"/>
<circle cx="8" cy="-6" r="2.6" fill="#ff0a0a"/>
</g></g>
<rect x="0" y="10" width="61.2" height="16.5" fill="#000" filter="url(#b12)"/><rect x="0" y="2" width="61.2" height="9" fill="#0a0000" opacity="0.6" filter="url(#b12)"/>
<use href="#pilF" fill="#020000"/>
<use href="#penO" stroke="#0d5c0d" stroke-width="1"/>
<circle cx="60.7" cy="172.2" r="1.6" fill="#f01010" filter="url(#b04)"/>
<g fill="#e9e01c" font-weight="bold" font-style="italic" font-size="12.5"><text x="19.5" y="180.8" textLength="20.5" lengthAdjust="spacingAndGlyphs">527</text><text x="-4.5" y="180.8">5</text><text x="55.6" y="180.8">5</text></g>
</g>
<g transform="translate(394.80 661.8)" clip-path="url(#cr)">
<rect x="0" y="-94.89999999999998" width="61.2" height="278.80000000000007" fill="#170000"/>
<g fill="none" stroke-linecap="round"><g filter="url(#b12)"><path d="M22.2 -33.8h.1M17.6 -26.4h.1M9.1 -49.0h.1M6.4 -26.3h.1M33.7 -77.7h.1M51.0 -43.6h.1M56.6 -30.3h.1M9.2 -26.4h.1M3.6 -58.5h.1M46.3 -51.8h.1M49.2 -50.4h.1M56.2 -58.8h.1M32.9 -35.2h.1M26.1 -49.8h.1M50.4 -38.4h.1M18.0 -70.1h.1M4.3 -55.0h.1M13.4 -61.9h.1M36.4 -31.1h.1M44.7 -48.0h.1M19.6 -72.3h.1M47.7 -42.7h.1M41.5 -32.7h.1M31.8 -30.5h.1M39.2 -75.5h.1M38.9 -28.2h.1M31.4 -51.4h.1M27.1 -34.2h.1M17.0 -50.3h.1M4.4 -62.4h.1M14.9 -41.7h.1M5.6 -42.3h.1M57.0 -41.8h.1M5.9 -44.7h.1M57.8 -30.7h.1M21.0 -37.3h.1M41.7 -50.9h.1" stroke="#340000" stroke-width="3.6"/><path d="M6.0 -39.2h.1M20.1 -33.0h.1M27.7 -39.5h.1M3.6 -17.0h.1M17.5 -18.3h.1M50.3 -26.6h.1M21.2 -26.7h.1M51.8 -28.9h.1M27.6 -32.0h.1M37.6 -23.2h.1M26.1 -13.6h.1M26.9 -39.8h.1M18.7 -21.8h.1M36.9 -29.7h.1M10.7 -24.6h.1M44.9 -10.4h.1M6.7 -35.4h.1M55.4 -11.4h.1M5.0 -30.9h.1M17.4 -32.0h.1M2.1 -25.0h.1M9.9 -20.6h.1M42.4 -26.9h.1M52.2 -38.5h.1M37.9 -38.7h.1M10.9 -25.6h.1M19.6 -30.9h.1M6.8 -40.0h.1M22.7 -36.4h.1M57.7 -41.9h.1M23.9 -39.0h.1M61.0 -13.6h.1M45.7 -34.5h.1M28.0 -18.7h.1" stroke="#6e0000" stroke-width="3.4"/></g><g filter="url(#b09)"><path d="M10.6 -8.3l-0.4 2.2M24.6 -4.1l-0.3 0.6M27.8 -20.2l-0.9 -2.3M50.1 -8.4l-0.0 0.4M30.8 -11.0l1.6 1.4M18.8 -12.2l-1.4 2.2M2.8 -17.5l-0.0 -1.1M32.2 -11.7l2.0 1.4M13.5 -5.9l-0.2 -2.3M7.5 -15.9l-0.8 -1.3M4.0 -35.8l-1.6 2.5M45.3 -23.5l1.1 -1.2M10.3 -14.4l-0.9 -2.2M10.7 -6.1l-2.0 -1.0" stroke="#b00000" stroke-width="3.2"/><path d="M52.0 -13.1l1.8 1.1M44.8 -12.7l-0.6 0.4M17.3 -9.4l-2.3 -1.2M28.0 -6.4l-1.3 -0.7M58.6 -6.2l-0.1 1.7M45.6 -9.9l-0.5 -0.9M38.8 -7.9l1.8 1.5M18.1 -4.6l0.4 -1.4M0.3 -4.9l-1.0 -1.4" stroke="#ff0505" stroke-width="3.5"/>
<circle cx="22" cy="-14" r="2.4" fill="#ff0a0a"/>
<circle cx="31" cy="-5" r="2.2" fill="#ff0a0a"/>
</g></g>
<rect x="0" y="10" width="61.2" height="16.5" fill="#000" filter="url(#b12)"/><rect x="0" y="2" width="61.2" height="9" fill="#0a0000" opacity="0.6" filter="url(#b12)"/>
<use href="#pilF" fill="#020000"/>
<use href="#penO" stroke="#0d5c0d" stroke-width="1"/>
<circle cx="60.7" cy="171.4" r="1.6" fill="#f01010" filter="url(#b04)"/>
<g fill="#e9e01c" font-weight="bold" font-style="italic" font-size="12.5"><text x="19.5" y="180.8" textLength="20.5" lengthAdjust="spacingAndGlyphs">527</text><text x="-4.5" y="180.8">5</text><text x="55.6" y="180.8">5</text></g>
</g>
<g transform="translate(458.70 661.8)" clip-path="url(#cr)">
<rect x="0" y="-94.89999999999998" width="61.2" height="278.80000000000007" fill="#170000"/>
<g fill="none" stroke-linecap="round"><g filter="url(#b12)"><path d="M40.7 -57.6h.1M17.2 -65.5h.1M12.6 -75.7h.1M7.3 -58.0h.1M43.1 -65.6h.1M29.8 -73.1h.1M38.5 -63.3h.1M4.8 -36.1h.1M28.5 -55.4h.1M5.8 -66.1h.1M21.2 -51.7h.1M31.9 -71.3h.1M18.5 -56.2h.1M37.1 -61.4h.1M19.1 -41.1h.1M28.8 -58.5h.1M39.5 -33.2h.1M27.3 -56.3h.1M11.9 -31.5h.1M56.9 -27.1h.1M30.5 -41.9h.1M1.9 -40.6h.1M9.9 -47.6h.1M55.7 -30.3h.1M21.5 -63.5h.1M38.2 -27.1h.1M14.0 -41.2h.1M54.8 -49.9h.1M15.8 -51.9h.1M29.7 -34.1h.1M40.8 -64.9h.1M29.2 -55.0h.1M47.2 -77.6h.1M37.5 -28.4h.1M30.9 -61.8h.1M20.3 -63.0h.1" stroke="#340000" stroke-width="3.6"/><path d="M22.5 -30.6h.1M37.6 -32.5h.1M56.6 -33.8h.1M43.4 -33.6h.1M14.1 -30.5h.1M38.0 -11.1h.1M46.2 -16.9h.1M30.1 -27.3h.1M44.2 -35.8h.1M28.7 -41.9h.1M27.1 -28.8h.1M60.7 -20.3h.1M43.7 -42.5h.1M5.2 -36.2h.1M39.9 -27.9h.1M48.3 -39.1h.1M9.0 -26.0h.1M37.7 -33.5h.1M58.7 -37.1h.1M50.7 -11.3h.1M26.1 -41.0h.1M57.9 -35.5h.1M20.4 -35.9h.1M32.5 -32.4h.1M39.0 -39.3h.1M43.7 -43.0h.1M30.2 -26.3h.1M40.2 -28.7h.1M3.0 -42.6h.1M19.5 -26.5h.1M2.6 -15.7h.1M56.8 -18.7h.1" stroke="#6e0000" stroke-width="3.4"/></g><g filter="url(#b09)"><path d="M18.3 -6.9l0.7 0.3M54.9 -11.8l-0.1 -0.9M15.9 -3.6l-1.5 -1.8M19.3 -3.6l1.1 2.2M21.7 -3.5l0.5 -0.1M7.2 -13.5l0.1 -1.2M8.8 -4.7l-0.2 1.3M33.2 -9.0l1.5 -0.9M57.9 -28.0l-0.3 -2.5M15.9 -10.4l2.0 1.1M45.1 -4.0l-0.8 -0.2M55.6 -4.8l1.6 -1.8M60.4 -13.1l-1.7 -0.4" stroke="#b00000" stroke-width="3.2"/><path d="M31.9 -6.3l-0.2 -0.9M58.0 -10.8l1.4 -1.3M25.9 -5.1l-2.0 -1.3M61.0 -11.0l0.9 0.9M31.9 -10.7l-0.7 -1.8M1.8 -9.9l-2.4 0.9M20.6 -9.6l-1.3 -0.9M30.2 -7.9l-0.1 -2.2M5.2 -19.1l2.0 0.4" stroke="#ff0505" stroke-width="3.5"/>
<circle cx="33" cy="-6" r="3.0" fill="#ff0a0a"/>
<circle cx="24" cy="-14" r="2.2" fill="#ff0a0a"/>
</g></g>
<rect x="0" y="10" width="61.2" height="16.5" fill="#000" filter="url(#b12)"/><rect x="0" y="2" width="61.2" height="9" fill="#0a0000" opacity="0.6" filter="url(#b12)"/>
<use href="#pilF" fill="#020000"/>
<use href="#penO" stroke="#0d5c0d" stroke-width="1"/>
<circle cx="60.7" cy="171.6" r="1.6" fill="#f01010" filter="url(#b04)"/>
<g fill="#e9e01c" font-weight="bold" font-style="italic" font-size="12.5"><text x="19.5" y="180.8" textLength="20.5" lengthAdjust="spacingAndGlyphs">527</text><text x="-4.5" y="180.8">5</text><text x="55.6" y="180.8">5</text></g>
</g>
<g transform="translate(522.60 661.8)" clip-path="url(#cr)">
<rect x="0" y="-94.89999999999998" width="61.2" height="278.80000000000007" fill="#170000"/>
<g fill="none" stroke-linecap="round"><g filter="url(#b12)"><path d="M43.6 -28.5h.1M54.4 -76.6h.1M40.7 -28.7h.1M26.1 -71.2h.1M36.3 -37.3h.1M14.3 -29.4h.1M31.9 -35.8h.1M27.3 -74.4h.1M55.1 -52.6h.1M48.0 -33.2h.1M58.0 -72.7h.1M29.5 -73.8h.1M18.2 -78.9h.1M19.8 -75.9h.1M51.2 -76.5h.1M44.5 -30.0h.1M17.1 -61.4h.1M55.6 -62.8h.1M2.4 -44.8h.1M21.1 -35.2h.1M13.8 -53.9h.1M22.8 -40.4h.1M25.2 -77.2h.1M36.5 -66.6h.1M57.1 -27.7h.1M53.9 -31.1h.1M12.0 -65.9h.1M46.1 -59.2h.1M29.1 -65.0h.1M26.2 -36.5h.1M13.4 -32.1h.1M2.2 -77.4h.1M58.2 -44.8h.1M25.2 -41.1h.1M47.8 -52.6h.1M10.4 -73.7h.1" stroke="#340000" stroke-width="3.6"/><path d="M56.8 -10.6h.1M28.1 -16.7h.1M39.1 -21.6h.1M18.2 -19.6h.1M37.2 -26.6h.1M29.9 -32.8h.1M29.0 -42.1h.1M26.8 -36.7h.1M56.9 -30.8h.1M36.1 -36.6h.1M43.6 -15.8h.1M25.5 -14.5h.1M1.3 -33.1h.1M20.1 -17.9h.1M1.6 -9.8h.1M41.1 -21.5h.1M26.7 -32.7h.1M55.5 -33.5h.1M13.4 -43.6h.1M11.2 -29.3h.1M39.4 -19.1h.1M54.4 -30.3h.1M43.5 -13.8h.1M50.9 -19.1h.1M37.8 -34.8h.1M19.7 -18.3h.1M20.2 -43.2h.1M40.2 -25.5h.1M34.4 -32.0h.1M16.0 -11.7h.1M6.7 -29.4h.1" stroke="#6e0000" stroke-width="3.4"/></g><g filter="url(#b09)"><path d="M36.6 -20.1l1.4 2.4M30.4 -5.8l-0.3 -0.1M22.7 -4.5l-1.5 2.3M32.2 -19.2l1.0 0.2M36.0 -8.8l-1.5 1.2M21.4 -6.2l-1.5 1.6M45.8 -4.5l-1.5 1.3M13.2 -15.3l0.7 1.0M16.7 -19.5l1.2 0.4M60.2 -3.7l-1.1 1.2M26.6 -12.4l-1.1 0.2M37.2 -8.4l1.6 0.5M30.6 -13.3l-0.4 -1.2" stroke="#b00000" stroke-width="3.2"/><path d="M41.8 -13.1l-0.6 -2.3M10.4 -11.7l0.8 -0.0M50.0 -13.4l-0.9 -0.7M46.0 -7.6l1.9 -2.4M32.8 -11.6l1.8 1.9M11.8 -7.5l2.2 -0.9M40.7 -13.2l0.7 2.5M20.8 -7.2l0.9 -2.1M52.0 -6.6l-1.8 -1.5" stroke="#ff0505" stroke-width="3.5"/>
<circle cx="15" cy="-10" r="2.2" fill="#ff0a0a"/>
<circle cx="32" cy="-6" r="1.9" fill="#ff0a0a"/>
</g></g>
<rect x="0" y="10" width="61.2" height="16.5" fill="#000" filter="url(#b12)"/><rect x="0" y="2" width="61.2" height="9" fill="#0a0000" opacity="0.6" filter="url(#b12)"/>
<use href="#pilF" fill="#020000"/>
<use href="#penO" stroke="#0d5c0d" stroke-width="1"/>
<circle cx="60.7" cy="172.9" r="1.6" fill="#f01010" filter="url(#b04)"/>
<g fill="#e9e01c" font-weight="bold" font-style="italic" font-size="12.5"><text x="19.5" y="180.8" textLength="20.5" lengthAdjust="spacingAndGlyphs">527</text><text x="-4.5" y="180.8">5</text><text x="55.6" y="180.8">5</text></g>
</g>
<g transform="translate(586.50 661.8)" clip-path="url(#cr)">
<rect x="0" y="-94.89999999999998" width="61.2" height="278.80000000000007" fill="#170000"/>
<g fill="none" stroke-linecap="round"><g filter="url(#b12)"><path d="M30.5 -66.8h.1M21.2 -39.1h.1M22.6 -79.1h.1M11.7 -74.9h.1M54.0 -62.7h.1M16.3 -65.4h.1M55.4 -58.0h.1M13.5 -58.9h.1M58.5 -57.9h.1M9.1 -36.9h.1M38.6 -28.6h.1M0.1 -46.2h.1M15.8 -52.7h.1M4.5 -56.2h.1M41.3 -43.1h.1M35.6 -54.5h.1M48.3 -57.1h.1M39.1 -56.4h.1M50.4 -31.2h.1M7.0 -72.7h.1M51.0 -26.4h.1M54.7 -58.9h.1M52.4 -63.9h.1M23.0 -32.1h.1M46.8 -64.3h.1M28.8 -40.6h.1M22.3 -76.5h.1M28.4 -37.3h.1M60.4 -78.8h.1M10.8 -36.6h.1M44.7 -46.9h.1M29.0 -62.9h.1M16.7 -58.1h.1M12.5 -38.0h.1M33.4 -49.1h.1" stroke="#340000" stroke-width="3.6"/><path d="M54.7 -14.0h.1M56.1 -18.2h.1M21.0 -12.7h.1M19.3 -43.3h.1M22.2 -38.3h.1M59.8 -33.3h.1M11.3 -24.1h.1M10.2 -17.7h.1M20.5 -14.8h.1M41.6 -27.3h.1M17.8 -17.9h.1M8.7 -13.0h.1M26.8 -11.6h.1M32.0 -17.9h.1M47.3 -18.3h.1M52.4 -42.1h.1M56.9 -17.0h.1M56.9 -25.5h.1M54.1 -25.2h.1M33.1 -18.1h.1M46.4 -21.9h.1M54.1 -33.8h.1M26.3 -10.1h.1M16.4 -23.6h.1M22.7 -29.4h.1M0.3 -25.4h.1M54.6 -42.4h.1M42.1 -33.0h.1M36.9 -44.0h.1M48.4 -25.1h.1" stroke="#6e0000" stroke-width="3.4"/></g><g filter="url(#b09)"><path d="M30.3 -17.6l0.4 -1.0M40.7 -9.1l-0.0 2.2M61.2 -32.9l-1.8 -2.1M20.8 -4.2l1.3 0.3M15.7 -10.8l-1.5 -1.8M45.6 -8.9l-1.2 -1.7M37.9 -19.0l0.6 1.9M44.4 -20.1l0.9 -1.2M25.9 -12.2l1.6 -0.3M48.9 -11.7l0.5 -2.1M12.9 -22.2l-1.1 -1.3M23.1 -13.5l-0.2 -0.4" stroke="#b00000" stroke-width="3.2"/><path d="M56.6 -9.0l-0.8 0.0M9.8 -8.1l-0.5 -2.2M40.2 -15.5l0.5 -0.6M34.3 -16.7l0.3 -1.6M33.1 -9.3l-0.3 1.7M39.3 -4.1l-0.9 -1.3M38.6 -10.4l-0.1 -0.5M38.4 -6.2l1.9 -0.6" stroke="#ff0505" stroke-width="3.5"/>
<circle cx="24" cy="-9" r="2.0" fill="#ff0a0a"/>
<circle cx="28" cy="-13" r="2.0" fill="#ff0a0a"/>
</g></g>
<rect x="0" y="10" width="61.2" height="16.5" fill="#000" filter="url(#b12)"/><rect x="0" y="2" width="61.2" height="9" fill="#0a0000" opacity="0.6" filter="url(#b12)"/>
<use href="#pilF" fill="#020000"/>
<use href="#penO" stroke="#0d5c0d" stroke-width="1"/>
<circle cx="60.7" cy="172.1" r="1.6" fill="#f01010" filter="url(#b04)"/>
<g fill="#e9e01c" font-weight="bold" font-style="italic" font-size="12.5"><text x="19.5" y="180.8" textLength="20.5" lengthAdjust="spacingAndGlyphs">527</text><text x="-4.5" y="180.8">5</text><text x="55.6" y="180.8">5</text></g>
</g>
<g transform="translate(650.40 661.8)" clip-path="url(#cr)">
<rect x="0" y="-94.89999999999998" width="61.2" height="278.80000000000007" fill="#170000"/>
<g fill="none" stroke-linecap="round"><g filter="url(#b12)"><path d="M34.4 -62.0h.1M14.9 -39.3h.1M56.5 -33.9h.1M41.7 -40.0h.1M30.1 -50.4h.1M14.6 -35.5h.1M58.6 -28.1h.1M8.7 -65.9h.1M22.7 -36.5h.1M47.5 -79.0h.1M12.7 -64.2h.1M24.3 -79.9h.1M36.5 -74.3h.1M40.6 -33.1h.1M27.0 -64.1h.1M9.4 -30.8h.1M60.6 -75.9h.1M39.8 -29.4h.1M42.9 -79.4h.1M47.9 -64.6h.1M26.9 -60.1h.1M56.7 -53.0h.1M4.6 -33.8h.1M58.3 -64.3h.1M57.2 -34.0h.1M6.4 -62.9h.1M26.2 -51.0h.1M14.2 -67.2h.1M47.8 -65.2h.1M26.3 -52.5h.1M24.2 -51.1h.1M19.9 -51.3h.1M58.9 -69.3h.1M8.3 -62.2h.1" stroke="#340000" stroke-width="3.6"/><path d="M50.2 -21.1h.1M54.4 -41.9h.1M4.3 -30.9h.1M23.3 -25.3h.1M33.6 -39.1h.1M38.6 -40.1h.1M15.2 -36.9h.1M24.0 -15.4h.1M49.2 -29.2h.1M13.8 -40.3h.1M30.1 -32.6h.1M60.3 -20.4h.1M33.3 -28.1h.1M17.5 -27.7h.1M59.1 -33.4h.1M16.2 -32.9h.1M37.7 -21.9h.1M41.1 -22.2h.1M47.8 -22.6h.1M50.4 -19.4h.1M10.5 -20.5h.1M7.7 -39.6h.1M60.9 -23.6h.1M14.7 -39.9h.1M52.1 -17.6h.1M18.7 -26.4h.1M8.1 -16.4h.1M24.3 -13.2h.1M8.8 -30.2h.1" stroke="#6e0000" stroke-width="3.4"/></g><g filter="url(#b09)"><path d="M18.4 -29.9l0.7 -1.1M46.5 -19.0l-0.6 1.8M25.9 -10.7l0.8 1.3M20.9 -22.2l-1.4 -0.7M58.7 -13.0l-0.8 -0.3M53.3 -5.7l-1.3 -2.0M1.1 -13.8l-0.2 0.7M31.4 -19.8l-0.6 -0.5M2.5 -22.1l-1.6 -1.5M47.9 -9.3l0.0 1.2M46.0 -17.1l-1.2 -1.8M45.7 -21.2l1.3 -1.0" stroke="#b00000" stroke-width="3.2"/><path d="M23.6 -4.7l-0.3 2.5M7.9 -10.6l2.2 1.9M61.0 -4.2l-0.3 -1.6M56.6 -9.3l0.4 1.7M30.1 -24.0l-1.9 -1.4M52.4 -4.2l0.4 1.4M60.9 -5.5l1.3 0.2M13.4 -14.9l-0.9 2.1" stroke="#ff0505" stroke-width="3.5"/>
<circle cx="40" cy="-8" r="2.4" fill="#ff0a0a"/>
</g></g>
<rect x="0" y="10" width="61.2" height="16.5" fill="#000" filter="url(#b12)"/><rect x="0" y="2" width="61.2" height="9" fill="#0a0000" opacity="0.6" filter="url(#b12)"/>
<use href="#pilF" fill="#020000"/>
<use href="#penO" stroke="#0d5c0d" stroke-width="1"/>
<circle cx="60.7" cy="172.1" r="1.6" fill="#f01010" filter="url(#b04)"/>
<g fill="#e9e01c" font-weight="bold" font-style="italic" font-size="12.5"><text x="19.5" y="180.8" textLength="20.5" lengthAdjust="spacingAndGlyphs">527</text><text x="-4.5" y="180.8">5</text><text x="55.6" y="180.8">5</text></g>
</g>
<clipPath id="ce2"><rect x="12.0" y="855.0" width="60.7" height="278.4000000000001"/></clipPath>
<g clip-path="url(#ce2)"><rect x="12.0" y="855.0" width="61" height="278.4000000000001" fill="url(#pdD2)"/>
<g transform="translate(11.9 949.0) scale(1.02 1)"><use href="#pilF" fill="url(#pdD)"/><use href="#penO" stroke="#1d5a1d" stroke-width="1.5"/></g>
<g fill="#e9e01c" font-weight="bold" font-style="italic" font-size="12.5"><text x="31.4" y="1130.2" textLength="20.5" lengthAdjust="spacingAndGlyphs">527</text><text x="7.4" y="1130.2">5</text><text x="67.5" y="1130.2">5</text></g>
<rect x="12.00" y="1130.80" width="61.00" height="2.80" fill="#245424" stroke="none" stroke-width="1" />
</g>
<clipPath id="cb"><rect x="0" y="-94.0" width="61.6" height="278.4000000000001"/></clipPath>
<g transform="translate(75.90 949.0)" clip-path="url(#cb)">
<rect x="0" y="-94.0" width="61.2" height="278.4000000000001" fill="url(#pfine)"/>
<path d="M2.0 -61.0l-1.7 -1.7l-2.4 0.1h.1M27.9 -60.0l-0.3 2.4l-0.8 2.3h.1M5.5 -23.5l-2.4 0.1h.1M16.3 -20.8l0.3 2.4l0.9 -2.2l1.2 -2.1l-2.0 1.4h.1M1.5 -18.3l1.2 2.1l-1.7 -1.7l-0.8 -2.3h.1M24.2 -40.4l0.5 -2.4h.1M47.9 -53.8l2.3 -0.5l-2.3 0.6h.1M15.2 -67.4l2.1 1.1l2.3 -0.6l-1.0 -2.2l-2.2 -0.9h.1M42.2 -81.9l2.3 -0.6l0.6 2.3l-2.2 1.0h.1M47.7 -44.6l1.0 -2.2h.1M39.3 -33.6l-0.4 2.4l-0.7 -2.3l-0.8 2.2h.1M47.3 -52.3l-0.6 2.3h.1M44.2 -12.7l2.3 -0.7l2.4 -0.3h.1M56.4 -21.8h.1M26.6 -23.8l1.8 -1.6h.1M42.3 -34.9l-2.1 1.2h.1M7.4 -41.5l-1.3 2.0l-1.7 -1.7h.1M50.7 -69.0l-1.5 1.9l-1.8 -1.5h.1M21.8 -52.4l1.6 -1.8l-1.3 2.0l-1.2 -2.1l2.2 -0.9h.1M38.0 -20.2l-0.1 2.4l-2.3 0.7h.1M37.9 -39.9l-0.9 -2.2h.1M31.1 -76.6l-1.9 -1.4l0.2 -2.4h.1M48.6 -88.7l-1.8 1.5l-2.4 0.2l2.4 0.5l-1.5 1.8h.1M58.8 -48.9l-1.6 -1.8h.1M36.4 -86.7l0.6 -2.3l-0.9 -2.2h.1M32.6 -48.7l-0.7 -2.3l-1.4 2.0h.1M39.1 -20.1l-1.3 -2.0l-1.6 1.8h.1M2.7 -27.7l0.2 -2.4l0.9 -2.2l1.3 -2.0h.1M49.3 -90.9l1.8 1.5h.1M47.9 -41.9l0.9 2.2l-1.0 2.2l1.5 1.8h.1M55.6 -21.3l-1.6 1.8h.1M39.2 -76.8l-2.1 -1.2l-2.4 -0.4h.1M33.9 -49.4l-0.6 -2.3l-1.9 1.5l-2.1 1.2l1.4 -2.0h.1M35.0 -88.0l-1.6 -1.8h.1M29.4 -70.7l-0.5 -2.3l-1.7 1.7l-0.0 -2.4l1.3 -2.0h.1M49.9 -81.8h.1M53.2 -45.5l2.1 -1.2l-2.4 -0.4h.1M40.5 -60.8h.1M51.5 -49.8l-0.3 -2.4l-2.4 -0.1h.1M21.4 -76.1h.1M4.9 -42.3l-2.1 -1.1h.1M41.8 -19.4l2.1 -1.1h.1M11.9 -37.0l-2.3 -0.7l2.2 -0.9h.1M59.2 -44.2l-2.2 -1.0l2.3 -0.5l-1.4 -1.9l1.3 -2.0h.1M51.0 -41.4l-1.8 -1.6l2.2 0.9h.1M37.3 -41.5l-0.0 2.4l-0.9 -2.2h.1M39.6 -88.2l-0.3 -2.4l0.3 -2.4h.1M4.0 -12.2l2.4 -0.2l-1.2 2.1h.1M9.3 -12.5h.1M38.1 -9.6l2.4 -0.3l-0.3 -2.4l1.9 1.5l-2.2 -1.0h.1M60.7 -81.6l-0.4 -2.4h.1M15.9 -67.7l1.9 1.5l1.6 1.8h.1M55.3 -28.5l-2.3 0.6l-0.8 -2.3h.1M1.7 -14.7l2.0 1.3l-1.7 1.7h.1M43.1 -54.1l0.5 -2.4h.1M46.5 -51.9l1.0 2.2l2.2 1.0l-0.8 -2.3l2.4 -0.3h.1M2.4 -81.7l2.1 1.2l-1.2 2.1l1.3 -2.0l2.3 0.6h.1M53.5 -34.6l1.8 -1.6h.1M31.1 -39.5l0.8 2.3h.1M22.3 -22.9h.1M40.5 -91.1l1.1 2.1l0.3 -2.4h.1M59.5 -14.5l1.2 2.1l-0.8 2.3l0.4 2.4l0.6 2.3h.1M1.9 -44.5l1.8 -1.6l-0.4 -2.4l-2.3 -0.8l-2.0 -1.3h.1M36.5 -89.6h.1M32.7 -15.0l1.5 -1.9l-1.5 -1.9l1.1 2.1h.1M56.5 -71.4l0.6 2.3l-0.8 -2.2l1.0 2.2h.1M58.7 -26.0l-2.3 -0.7l-2.4 -0.5l-0.7 -2.3l-1.3 2.0h.1M37.6 -20.2l2.3 0.6l1.9 -1.5h.1M43.3 -52.4l2.2 1.0l-0.7 2.3h.1M33.1 -23.0h.1M1.0 -89.9l2.2 1.0l-2.0 1.3l2.3 -0.8h.1M33.8 -11.7l1.3 -2.0l2.1 -1.2h.1M50.8 -61.5l-2.4 -0.4l-2.4 -0.0l-0.7 -2.3l-1.1 -2.2h.1M45.6 -65.6l2.4 -0.2h.1M38.0 -21.5l-2.3 0.6l2.3 -0.7l-1.5 1.9l-2.4 0.5h.1M43.5 -92.2l0.7 2.3l-0.8 -2.3h.1M29.2 -20.4h.1M51.3 -75.3l2.1 -1.2h.1M48.8 -80.1l-1.6 1.8l-2.4 0.4h.1M8.8 -19.0l-0.1 2.4l-1.7 -1.7l-2.2 -1.0h.1M3.2 -54.1l0.8 -2.3l1.8 1.6l1.1 2.1l2.4 -0.0h.1M18.0 -40.0l-2.3 0.5l-2.2 0.9l1.5 1.8l-2.4 0.1h.1M9.1 -88.9l1.7 -1.7h.1M13.9 -52.3l-2.4 0.4l1.3 -2.0h.1M3.0 -11.7l1.5 1.9l2.3 -0.6l1.4 1.9h.1M1.6 -16.3l-0.1 2.4h.1M43.8 -21.6h.1M16.0 -93.8l2.3 -0.7h.1M28.0 -25.0h.1M56.0 -33.0l1.0 2.2l-2.2 0.9h.1M43.5 -33.4l-2.4 0.1l1.1 2.1h.1M42.0 -88.5l2.2 -1.1l-2.1 -1.1l-2.4 0.4h.1M24.3 -70.9l-2.2 -0.8l0.4 -2.4h.1M23.7 -33.1l1.0 2.2l-1.3 2.0l0.1 2.4l0.7 2.3h.1M52.8 -30.7l-1.8 -1.5l-2.0 -1.3l2.3 0.6h.1M42.3 -56.6l0.5 -2.3l1.5 -1.8h.1M59.8 -44.9l0.3 -2.4l0.2 -2.4l2.2 0.9h.1M19.8 -86.2l2.4 0.4h.1M27.3 -60.0h.1M27.3 -66.1l-2.2 -1.0l0.4 2.4l0.5 2.4l-0.2 -2.4h.1" stroke="#969696" stroke-width="2.7" stroke-linecap="round" stroke-linejoin="round" fill="none" filter="url(#b04)"/>
<use href="#intF" fill="#d6d6d6" opacity="0.55"/>
<use href="#pilF" fill="url(#pdL)"/><use href="#botF" fill="url(#pdL)"/>
<path d="M15.2 6V160M51.9 6V160" stroke="#f4f4f4" stroke-width="1.5" opacity="0.85"/>
<path d="M6 2.4H15M42.5 2.4H51.8" stroke="#f6f6f6" stroke-width="2.2" opacity="0.9"/>
<rect x="0" y="177.6" width="61.2" height="2.6" fill="#fafafa"/>
<path d="M17 164.2Q28.7 173.4 40.5 164.2" stroke="#888" stroke-width="2.4" fill="none" transform="translate(0 -1.6)" filter="url(#b04)"/>
<use href="#penO" stroke="#1f5f1f" stroke-width="1.6"/>
<circle cx="29.8" cy="97.3" r="2.1" fill="#fbfbfb" stroke="#a8a8a8" stroke-width="0.9"/>
<g fill="#e9e01c" font-weight="bold" font-style="italic" font-size="12.5"><text x="19.5" y="181.3" textLength="20.5" lengthAdjust="spacingAndGlyphs">527</text><text x="-4.5" y="181.3">5</text><text x="55.6" y="181.3">5</text></g>
<rect x="0" y="182" width="61.2" height="2.6" fill="#2a5a2a"/>
</g>
<g transform="translate(138.50 949.0)" clip-path="url(#cb)">
<rect x="0" y="-94.0" width="61.2" height="278.4000000000001" fill="url(#pfine)"/>
<path d="M6.9 -56.8l-1.9 1.5h.1M60.0 -93.4l1.1 2.1l2.0 1.3l-1.2 -2.1l-0.8 2.3h.1M16.7 -63.0l1.6 1.8l-1.2 2.1l-2.2 -1.0h.1M30.7 -61.3l2.2 -0.8l0.4 -2.4l2.2 -1.0l-2.1 -1.1h.1M34.6 -32.3l2.4 -0.4h.1M31.0 -75.2l-2.0 1.3l-0.4 -2.4l-2.4 -0.3l-0.7 -2.3h.1M24.2 -68.2h.1M34.6 -40.6l2.4 0.2l2.4 0.5l1.7 1.7l-2.0 1.3h.1M57.4 -18.2h.1M42.5 -12.1l-0.9 -2.2h.1M23.4 -70.7l1.4 -2.0l-1.9 1.5l2.0 1.3h.1M41.1 -82.2l0.4 -2.4l1.9 1.5l2.0 1.3h.1M38.5 -6.3l2.4 0.1h.1M10.8 -56.2h.1M37.7 -20.1l-0.7 -2.3l-0.0 2.4h.1M38.2 -63.3l1.9 1.5l2.4 0.2l2.3 -0.6l2.3 -0.6h.1M2.4 -78.7l-1.5 -1.9l1.9 1.5h.1M56.2 -45.6l-2.2 0.9l-0.9 -2.2l0.9 2.2h.1M59.2 -48.8l-1.9 -1.5l-0.2 -2.4l2.4 0.5h.1M44.4 -92.1l1.9 1.4l2.2 0.9h.1M52.1 -66.4l1.9 1.4l-2.4 -0.0l-2.3 0.8h.1M34.9 -20.8l-2.3 -0.5l-1.8 1.5l-0.0 -2.4l2.3 0.6h.1M56.4 -78.8l2.0 1.3h.1M0.9 -58.3l2.4 -0.4l-2.0 -1.4h.1M59.9 -45.4l1.1 -2.1l-2.2 0.8l-0.2 2.4l2.1 -1.1h.1M0.7 -56.3l2.0 1.3h.1M35.6 -57.5l2.4 -0.2h.1M53.8 -69.0l-2.4 -0.0l0.5 -2.4h.1M55.8 -82.8l1.6 -1.7l-0.1 2.4l-1.8 -1.5l-0.8 -2.2h.1M48.3 -14.9l0.9 -2.2h.1M20.5 -44.9l-2.1 1.2l-0.6 -2.3l2.2 1.0h.1M55.0 -91.5l-1.3 2.0l1.2 -2.1h.1M40.7 -92.9h.1M51.6 -31.0h.1M30.5 -20.5l-0.2 -2.4h.1M10.1 -59.2l-1.7 1.7l0.2 2.4h.1M21.5 -16.8h.1M25.8 -16.1l-0.8 2.2l1.1 -2.1l-0.2 2.4l-1.4 2.0h.1M32.8 -30.5l-0.3 -2.4h.1M38.4 -52.3l2.3 -0.7l2.3 -0.8h.1M27.3 -24.4h.1M44.6 -76.0l-1.3 -2.0l2.1 -1.1l-2.4 -0.1l0.4 -2.4h.1M2.1 -46.8l0.1 2.4l0.5 -2.3h.1M47.9 -37.2l0.0 2.4l2.3 0.6h.1M52.9 -74.5l2.3 -0.6l1.8 -1.6l1.7 1.7h.1M7.3 -81.6l-2.3 0.8l0.9 2.2h.1M3.3 -89.5l1.4 2.0l1.5 -1.8h.1M31.5 -75.8l-2.2 -1.0l-1.0 -2.2h.1M10.7 -76.5l-2.0 -1.3h.1M42.6 -48.6h.1M53.8 -67.8l2.2 1.0h.1M49.8 -2.5l1.8 1.6l-0.9 -2.2h.1M22.3 -80.8l-2.3 -0.5l0.9 -2.2l1.1 2.1h.1M38.0 -29.9h.1M18.4 -65.5h.1M9.8 -5.5l-0.1 -2.4h.1M59.0 -27.8l2.3 -0.6l0.4 -2.4h.1M52.9 -10.9l-0.1 -2.4l-2.2 -1.0l-1.7 -1.7h.1M49.2 -57.9h.1M58.3 -15.0l1.3 -2.0l1.3 -2.0h.1M33.4 -84.1h.1M7.4 -29.3l-0.2 -2.4l-1.7 1.6l2.4 -0.3h.1M9.1 -31.7l-1.6 1.8l0.1 2.4h.1M7.4 -20.8l-1.2 2.1h.1M27.0 -20.7l2.4 -0.4l-2.1 1.1h.1M37.8 -51.8h.1M50.6 -87.2l-2.4 -0.4l-2.0 -1.3l-1.0 -2.2l0.4 2.4h.1M31.6 -39.1l-0.3 2.4l2.4 -0.0l0.2 2.4h.1M20.8 -70.3l0.3 2.4l2.4 -0.2h.1M23.2 -60.9l-2.4 -0.1l1.2 -2.1h.1M29.7 -45.9l1.2 -2.1h.1M61.2 -92.4l-1.9 1.5l-0.6 -2.3l-1.7 1.7l1.0 2.2h.1M21.8 -72.1l-1.9 -1.5l-2.2 -1.0l-0.2 -2.4l1.1 2.1h.1M26.5 -67.1h.1M53.4 -71.1l2.4 0.3l2.1 -1.1h.1M22.2 -14.1l1.9 -1.5l-1.9 1.4h.1M36.8 -42.7l-0.2 -2.4l-1.7 1.7h.1M39.1 -21.7l1.3 2.0l2.0 -1.3l-2.3 -0.5l1.4 1.9h.1M60.2 -20.3l2.4 0.1l0.1 -2.4l1.7 1.7h.1M12.6 -49.9h.1M41.2 -61.1l-1.5 1.9h.1M33.4 -70.0h.1M56.4 -89.0l2.4 0.4l-0.6 -2.3h.1M0.2 -85.6h.1M21.7 -12.4l1.1 2.1h.1M21.3 -40.3l1.8 1.6l-1.7 -1.7h.1M36.7 -46.5l-1.6 1.8l-2.4 -0.3l2.4 0.5h.1M8.1 -19.9l1.0 -2.2h.1M15.1 -20.9l2.1 1.2l2.0 1.4h.1M39.7 -29.7h.1M0.0 -5.2h.1M21.1 -17.2l-1.6 1.7l-0.7 2.3l2.2 -0.9h.1M58.4 -71.5l1.5 1.9l1.4 -2.0h.1M10.8 -54.0l1.5 1.9h.1M6.4 -37.9l-2.4 0.0l-2.3 -0.5h.1M2.9 -30.2l1.1 -2.1l-2.4 0.5h.1M4.5 -90.6l0.7 -2.3l0.2 2.4l0.5 -2.4h.1M54.0 -60.4l2.3 0.7h.1M51.2 -78.8l-0.6 2.3l1.2 2.1l2.4 -0.0l2.3 0.6h.1M8.3 -31.4l-0.2 -2.4h.1M30.7 -58.4l1.1 -2.1l-0.6 -2.3h.1M11.2 -17.6h.1M19.9 -18.0l-0.5 -2.4h.1M14.6 -81.6l-2.4 0.4h.1M7.3 -18.0l2.0 -1.3l0.7 -2.3l0.5 -2.3h.1M34.6 -21.4l0.1 2.4l-2.2 0.9l1.4 -1.9l0.7 -2.3h.1M11.9 -28.6h.1M17.6 -38.3l2.4 0.2l2.4 -0.4l1.4 -1.9h.1M1.2 -63.7l1.9 1.4h.1M20.4 -33.2l-2.3 -0.7l1.4 -1.9l-2.4 0.3h.1M3.5 -28.3l-2.2 0.9h.1M28.8 -49.6h.1M25.2 -66.1h.1M29.1 -55.8l-1.7 -1.7l-0.9 -2.2l1.8 -1.6h.1M44.9 -44.1l2.3 -0.8l2.1 1.2l2.4 -0.0h.1M10.2 -82.9l-2.1 1.1l1.1 2.1l2.0 -1.3h.1M41.5 -62.7l1.8 1.6h.1M10.4 -77.4l2.2 1.1l-1.7 1.7h.1M26.7 -58.3l1.9 -1.5l1.8 1.6h.1M31.5 -79.7h.1M42.8 -72.2l2.0 1.4l1.6 -1.8l-0.0 -2.4l-2.3 -0.8h.1M47.6 -14.8l1.4 -1.9l-1.2 2.1l-0.6 -2.3l1.6 -1.8h.1M30.9 -18.8l1.8 1.6l2.1 -1.2h.1M36.4 -32.6h.1M14.0 -73.6h.1M39.3 -19.8l-1.7 -1.7l2.4 0.4l2.1 1.2h.1M39.3 -74.4l-2.3 0.8l0.9 2.2l1.9 1.5h.1M40.3 -38.1l-2.2 -1.0h.1M32.7 -19.4l1.9 -1.5l2.1 1.2h.1M37.1 -37.8l-1.0 -2.2l1.9 1.4h.1M35.1 -63.4l1.9 1.4h.1" stroke="#969696" stroke-width="2.7" stroke-linecap="round" stroke-linejoin="round" fill="none" filter="url(#b04)"/>
<use href="#intF" fill="#d6d6d6" opacity="0.55"/>
<use href="#pilF" fill="url(#pdL)"/><use href="#botF" fill="url(#pdL)"/>
<path d="M15.2 6V160M51.9 6V160" stroke="#f4f4f4" stroke-width="1.5" opacity="0.85"/>
<path d="M6 2.4H15M42.5 2.4H51.8" stroke="#f6f6f6" stroke-width="2.2" opacity="0.9"/>
<rect x="0" y="177.6" width="61.2" height="2.6" fill="#fafafa"/>
<path d="M17 164.2Q28.7 173.4 40.5 164.2" stroke="#888" stroke-width="2.4" fill="none" transform="translate(0 -1.6)" filter="url(#b04)"/>
<use href="#penO" stroke="#1f5f1f" stroke-width="1.6"/>
<circle cx="30.2" cy="107.2" r="2.1" fill="#fbfbfb" stroke="#a8a8a8" stroke-width="0.9"/>
<g fill="#e9e01c" font-weight="bold" font-style="italic" font-size="12.5"><text x="19.5" y="181.3" textLength="20.5" lengthAdjust="spacingAndGlyphs">527</text><text x="-4.5" y="181.3">5</text><text x="55.6" y="181.3">5</text></g>
<rect x="0" y="182" width="61.2" height="2.6" fill="#2a5a2a"/>
</g>
<g transform="translate(202.30 949.0)" clip-path="url(#cb)">
<rect x="0" y="-94.0" width="61.2" height="278.4000000000001" fill="url(#pfine)"/>
<path d="M32.3 -61.0l2.1 1.2l-0.5 2.3l-2.1 1.2h.1M47.3 -92.7l-2.2 1.1l1.8 -1.6l-1.0 -2.2l-0.3 2.4h.1M24.8 -64.8l2.0 1.4l2.2 -0.9h.1M26.2 -44.2l1.9 -1.5h.1M19.4 -83.2l2.3 0.6l2.0 -1.3h.1M29.3 -55.0l2.4 0.3h.1M30.8 -91.2h.1M10.5 -76.2l1.8 1.6l-0.7 2.3l2.3 -0.6l0.5 2.3h.1M29.1 -81.7h.1M55.3 -12.1l-1.7 -1.7h.1M2.3 -79.1l-2.4 -0.2l1.4 2.0l-2.3 -0.7l2.4 0.1h.1M54.3 -41.7l-2.3 -0.7l-1.9 -1.5l2.2 -0.9h.1M26.8 -30.8l2.4 -0.1l1.7 1.7h.1M52.6 -72.0l2.3 0.6h.1M19.1 -61.3l2.4 -0.2l1.8 1.6h.1M51.8 -14.9l-2.2 1.0l-2.3 -0.7l-0.7 -2.3h.1M27.7 -64.3h.1M60.2 -65.6l-2.4 -0.2l1.1 2.1h.1M45.2 -84.8l1.7 1.7l-2.0 -1.4l-2.4 0.1h.1M46.6 -70.1l-0.5 -2.3h.1M43.5 -80.3l-0.1 -2.4l0.0 2.4l0.4 -2.4h.1M44.9 -12.7h.1M5.1 -54.9l1.6 -1.7l2.3 -0.8l-2.1 1.2l-2.4 -0.4h.1M4.5 -9.1l-2.3 0.7l-2.2 -0.8h.1M55.9 -57.0h.1M16.7 -7.0l1.6 -1.7h.1M19.4 -32.7l-2.4 -0.4l-2.3 0.6l-2.3 -0.6h.1M16.3 -48.1h.1M12.9 -40.5l-1.8 1.6l-1.3 -2.0h.1M37.4 -34.7l1.4 1.9h.1M27.4 -92.2h.1M19.3 -19.0l-2.4 -0.1l-0.4 -2.4l-0.1 2.4h.1M4.0 -60.8l-2.3 0.7h.1M57.3 -49.3l-2.4 0.3l-0.1 2.4l0.2 -2.4h.1M13.8 -91.2h.1M15.4 -83.2l2.4 0.1l-0.8 2.2h.1M25.2 -17.6l2.1 -1.2h.1M13.0 -34.9l-0.4 2.4l2.2 1.0h.1M48.0 -59.7l1.6 1.8l-2.4 0.3l1.9 1.5h.1M4.7 -92.0l2.4 -0.5l0.2 2.4h.1M8.0 -30.9l2.2 -1.0h.1M57.4 -38.7l-0.8 -2.3l-0.7 2.3h.1M33.6 -31.9l0.9 2.2l-0.2 -2.4h.1M53.1 -42.5l-2.2 -0.9h.1M51.6 -15.3l-1.0 2.2h.1M36.6 -66.7l1.4 -1.9l-0.9 2.2l0.7 2.3h.1M18.9 -63.4h.1M26.6 -62.1l-2.1 -1.1l-0.4 -2.4l1.2 2.1h.1M19.9 -67.7l2.3 0.8l-2.4 -0.3l1.2 2.1h.1M53.1 -39.8l-2.4 0.0l-1.1 2.1l1.3 2.0l-2.3 0.8h.1M20.8 -3.9h.1M24.9 -43.5l2.3 -0.7h.1M58.8 -70.7l0.2 2.4h.1M51.3 -69.2l0.5 -2.3l1.0 -2.2l1.4 2.0h.1M13.9 -93.4l1.5 -1.9h.1M31.5 -49.3l2.4 0.1h.1M49.4 -85.6l-2.4 0.2l-2.4 -0.3l2.1 1.1h.1M27.5 -80.3l-2.0 -1.3l0.0 -2.4h.1M42.4 -72.8l0.1 -2.4l2.0 -1.3h.1M55.7 -10.1l-2.3 0.5l-2.2 -1.0l-1.9 1.4h.1M21.0 -41.1l-1.0 -2.2h.1M38.2 -55.6l1.2 -2.1l0.2 2.4l0.8 2.2l-2.2 -0.8h.1M38.6 -81.5l-2.4 -0.0l-1.9 1.4h.1M5.6 -13.3l0.4 2.4h.1M27.2 -60.1l1.8 -1.6l-2.4 0.0h.1M58.6 -32.8l2.2 0.9h.1M57.3 -67.6l-2.4 0.1l0.2 -2.4h.1M10.1 -87.7h.1M45.1 -41.1h.1M4.3 -90.2h.1M49.5 -56.9l2.4 -0.5l-2.3 -0.6h.1M55.5 -41.0l0.8 2.3l-2.2 -1.0l0.9 2.2h.1M33.9 -53.3l2.4 0.4h.1M27.5 -23.2l2.4 -0.0l-2.1 1.2h.1M47.3 -10.0l-0.6 2.3l-1.9 -1.5h.1M45.3 -24.0l1.0 2.2h.1M20.8 -14.8l-2.3 -0.8l2.0 1.3h.1M21.0 -87.8l-2.2 -1.0l-1.7 -1.7l-1.5 -1.9l-1.6 -1.8h.1M15.0 -67.4l1.9 -1.5l-0.5 2.3h.1M57.7 -92.3l2.4 0.4l-0.8 -2.2l0.9 2.2l1.8 -1.5h.1M18.8 -29.4l1.9 -1.4h.1M49.3 -82.6l0.3 -2.4l-1.0 2.2l-2.4 0.0h.1M49.5 -71.9l-0.5 2.3l-2.3 0.7h.1M56.8 -41.8h.1M40.8 -54.5h.1M21.7 -20.6l-2.4 -0.2h.1M6.9 -72.3l-1.8 -1.6l-2.4 -0.0h.1M7.7 -62.3l-0.3 -2.4h.1M29.0 -84.7l2.1 -1.1l-1.9 -1.5h.1M45.0 -43.7l-1.7 1.6l1.2 2.1h.1M40.5 -64.4l2.4 -0.4l1.7 -1.7h.1M22.7 -70.6l-1.6 -1.7l1.1 2.1h.1M17.5 -30.6l-2.3 0.8h.1M30.0 -68.7l2.3 -0.8l-2.1 -1.2h.1M55.7 -41.6h.1M36.8 -45.2h.1M35.9 -17.2l1.6 1.8h.1M43.7 -40.7h.1M36.0 -71.5l-1.7 -1.7l0.9 2.2l-2.4 0.1l0.7 -2.3h.1M10.7 -79.2l-0.0 2.4l-2.4 0.3l0.7 -2.3h.1M52.7 -58.4l-2.3 -0.8l-0.8 -2.3h.1M15.2 -84.9l-1.8 -1.6h.1M23.2 -2.3l0.7 -2.3l1.8 -1.5h.1M50.2 -3.1l-0.3 -2.4l2.3 -0.8h.1M51.4 -11.2l0.5 -2.3h.1M30.0 -20.8l-2.4 -0.4l0.9 -2.2l2.1 -1.1l0.9 -2.2h.1M31.7 -39.7h.1M2.5 -44.8l-2.1 -1.2l-2.3 0.5h.1M27.8 -16.3l0.7 -2.3l-0.0 2.4h.1M0.8 -60.0l1.8 1.6l-1.8 1.6h.1M13.2 -31.4l-1.9 1.5l-2.3 -0.8h.1M44.5 -38.9l1.1 -2.1l-0.6 -2.3h.1M6.9 -7.6l0.6 2.3h.1M22.1 -2.9l-2.3 -0.6l-1.2 -2.1l2.4 -0.3l-2.3 0.7h.1M43.0 -42.2l1.1 -2.1h.1M48.3 -43.4l2.3 0.6l2.4 -0.5l0.5 2.4l2.0 -1.3h.1M39.1 -75.6l-1.1 -2.1h.1M8.6 -4.0l2.0 -1.3l2.2 0.9l-0.1 -2.4l-2.3 0.8h.1M22.6 -29.7l0.8 2.3l1.7 1.7l-0.5 2.3h.1M10.7 -79.2l-0.4 -2.4l-2.1 -1.1h.1M59.0 -83.5l-2.3 -0.6h.1M31.6 -65.9l1.8 1.5l2.1 -1.1l1.3 -2.0h.1M49.1 -33.2l1.4 2.0h.1M61.0 -71.2l-2.4 0.4h.1M42.0 -68.0l-0.5 2.3h.1M55.7 -91.3l1.7 1.7l-1.8 1.6l2.3 0.7h.1M1.0 -67.2l2.4 0.3h.1M57.0 -58.0l2.1 1.2h.1M50.9 -55.8l1.0 2.2l0.7 2.3l2.3 0.7l2.1 1.2h.1M42.6 -40.7l2.0 1.3h.1M37.2 -73.5h.1M39.5 -14.7l-1.0 2.2h.1M15.7 -12.9l-2.1 -1.2l2.0 1.3l-1.2 2.0h.1M41.0 -23.8l1.8 1.5h.1M32.4 -86.0l1.8 1.6h.1" stroke="#969696" stroke-width="2.7" stroke-linecap="round" stroke-linejoin="round" fill="none" filter="url(#b04)"/>
<use href="#intF" fill="#d6d6d6" opacity="0.55"/>
<use href="#pilF" fill="url(#pdL)"/><use href="#botF" fill="url(#pdL)"/>
<path d="M15.2 6V160M51.9 6V160" stroke="#f4f4f4" stroke-width="1.5" opacity="0.85"/>
<path d="M6 2.4H15M42.5 2.4H51.8" stroke="#f6f6f6" stroke-width="2.2" opacity="0.9"/>
<rect x="0" y="177.6" width="61.2" height="2.6" fill="#fafafa"/>
<path d="M17 164.2Q28.7 173.4 40.5 164.2" stroke="#888" stroke-width="2.4" fill="none" transform="translate(0 -1.6)" filter="url(#b04)"/>
<use href="#penO" stroke="#1f5f1f" stroke-width="1.6"/>
<circle cx="24.5" cy="111.1" r="2.1" fill="#fbfbfb" stroke="#a8a8a8" stroke-width="0.9"/>
<g fill="#e9e01c" font-weight="bold" font-style="italic" font-size="12.5"><text x="19.5" y="181.3" textLength="20.5" lengthAdjust="spacingAndGlyphs">527</text><text x="-4.5" y="181.3">5</text><text x="55.6" y="181.3">5</text></g>
<rect x="0" y="182" width="61.2" height="2.6" fill="#2a5a2a"/>
</g>
<g transform="translate(266.10 949.0)" clip-path="url(#cb)">
<rect x="0" y="-94.0" width="61.2" height="278.4000000000001" fill="url(#pfine)"/>
<path d="M18.3 -77.0l-1.9 1.5h.1M45.3 -77.9l0.4 2.4l-0.7 -2.3h.1M54.9 -70.7h.1M60.8 -13.6l-2.4 0.3l-0.0 -2.4h.1M0.1 -77.6h.1M36.6 -11.3l2.1 -1.2l2.3 -0.6h.1M19.7 -75.8l0.6 2.3l0.6 -2.3l2.0 1.4l0.2 2.4h.1M8.5 -63.3l-1.6 1.7l2.2 -1.0l1.4 2.0h.1M43.6 -37.9l2.2 0.9l-1.6 -1.8h.1M51.0 -20.7h.1M10.3 -42.5l1.7 1.7l-2.1 -1.2h.1M13.5 -86.6l-0.5 2.4l-2.3 0.6l-2.3 0.6h.1M20.3 -20.2l-0.4 -2.4h.1M56.6 -86.3l2.4 -0.1l-1.3 2.0h.1M46.5 -45.0l2.2 1.0l2.0 -1.4h.1M19.0 -77.0l2.1 -1.2h.1M38.7 -27.9l-2.2 -0.9l0.7 2.3l-0.4 -2.4l-2.2 -0.9h.1M27.9 -48.8l-0.1 -2.4l0.1 -2.4h.1M45.5 -23.5l-0.4 -2.4l2.1 -1.2l-0.5 2.3l-0.8 2.2h.1M53.9 -93.8l-0.9 2.2l2.3 -0.5l1.9 1.4h.1M8.4 -13.1l-2.2 -1.0h.1M56.7 -65.5l0.7 2.3l1.7 -1.7h.1M13.4 -25.2l-2.0 1.3l-2.0 1.3l-2.2 -1.0h.1M58.5 -38.1l1.9 1.5l-2.4 -0.1l1.9 -1.4h.1M25.6 -20.8l2.1 -1.2h.1M29.0 -69.9l-1.9 -1.4h.1M30.3 -71.5l0.5 -2.3l1.5 1.9l1.5 1.9h.1M18.2 -25.9l-0.3 2.4h.1M26.3 -64.2l-2.0 -1.4l2.4 0.1l-2.3 -0.7h.1M60.4 -13.3h.1M12.2 -20.8l-0.6 -2.3h.1M31.8 -28.9l-1.4 1.9l-1.1 2.1h.1M34.6 -44.3l-0.9 -2.2l-1.5 1.9l-2.2 -0.9l-2.3 0.5h.1M58.7 -18.9l0.3 -2.4l0.4 2.4l2.2 0.8l2.3 -0.5h.1M29.9 -78.2l-1.6 -1.8l1.7 1.7h.1M18.7 -51.9l0.1 -2.4l1.8 1.5h.1M7.0 -42.0l2.4 -0.2l1.2 2.1h.1M5.2 -83.0l-2.0 1.4l2.3 -0.6h.1M36.4 -85.0h.1M3.3 -4.4l1.9 1.5l0.3 -2.4h.1M0.1 -19.8l0.7 2.3l-0.1 -2.4l-0.7 -2.3h.1M12.2 -89.9l-1.4 1.9h.1M38.1 -23.5l-2.3 0.6l-2.4 0.3l0.7 -2.3l2.2 -0.9h.1M35.0 -24.6l2.3 0.8l-1.6 1.8h.1M24.6 -87.7l2.4 -0.1l-2.3 -0.7l0.2 -2.4l-1.5 1.8h.1M38.6 -57.7h.1M44.2 -56.5l-0.7 2.3l-1.1 -2.1h.1M4.3 -22.3l-2.1 1.2l0.7 2.3l2.2 0.8h.1M60.7 -34.8l1.9 -1.5l1.3 2.0l0.9 2.2l0.3 2.4h.1M0.2 -22.4l1.6 -1.8l-2.1 -1.2h.1M26.2 -75.0l1.3 2.0l1.4 -1.9l2.4 0.2h.1M22.0 -36.1l-2.3 0.8l-0.6 -2.3h.1M44.5 -73.0l1.9 1.4l-2.2 1.0l-2.1 1.1h.1M19.7 -74.2l-1.3 2.0h.1M21.1 -56.7l0.9 2.2l-0.6 2.3l1.9 1.4l-1.4 -1.9h.1M29.2 -46.0l-1.7 -1.7h.1M31.0 -38.2l-2.4 0.3h.1M9.0 -48.9l-0.2 -2.4l1.9 -1.5h.1M16.8 -46.8l0.7 -2.3l1.8 -1.6h.1M30.9 -79.4l-2.4 0.0h.1M47.8 -83.6l0.0 2.4h.1M45.7 -22.6l-1.6 -1.8l0.9 2.2h.1M17.2 -24.6l-2.2 -1.0l-1.9 1.4h.1M3.0 -47.9l1.0 2.2h.1M14.1 -38.8h.1M48.8 -54.0l-1.4 -2.0l0.2 2.4l-0.4 2.4h.1M3.1 -66.6l-2.3 -0.6l-2.4 -0.1l-0.6 2.3l2.4 -0.4h.1M2.4 -54.0l2.4 0.4h.1M55.7 -90.0h.1M44.2 -20.9h.1M27.6 -82.2h.1M47.3 -21.6l1.1 2.1l2.4 0.1h.1M20.0 -66.1l2.0 1.3l-0.9 2.2l0.6 -2.3l-0.9 -2.2h.1M0.8 -53.4l0.3 2.4l-0.4 2.4h.1M34.5 -29.8l-1.5 -1.8l1.6 1.8l0.5 -2.3h.1M53.8 -85.7l1.9 -1.5l-2.1 1.2l2.1 -1.1h.1M8.5 -38.1l2.4 -0.1h.1M5.3 -72.7l-2.0 -1.4l-0.0 -2.4l-2.3 0.8h.1M56.5 -64.1l0.4 -2.4l0.4 -2.4l-2.1 1.2h.1M33.9 -21.5l-1.2 -2.1l-0.7 -2.3l2.3 0.7l-0.5 -2.3h.1M58.4 -5.1l-1.8 -1.5l2.3 0.5h.1M56.4 -86.6l2.3 0.6h.1M11.5 -90.8l2.4 0.4l-0.6 2.3l1.9 -1.5h.1M45.0 -14.3l2.4 0.5l1.9 -1.5h.1M60.1 -59.2l-1.3 -2.0h.1M48.2 -39.2l-2.3 0.6h.1M14.2 -38.2l1.4 1.9h.1M61.1 -85.3l0.4 2.4l-1.0 2.2l-2.1 1.2h.1M36.2 -55.6l2.4 -0.2l1.1 2.1h.1M22.1 -27.8l-2.3 -0.7l0.5 -2.3l-2.0 1.3l0.4 2.4h.1M54.1 -65.2l-2.4 -0.1l-0.6 2.3l-2.1 1.2h.1M44.1 -38.9h.1M16.7 -91.6l-2.4 -0.2l1.7 -1.7h.1M13.8 -35.1l1.8 1.6l-2.0 -1.4h.1M2.1 -80.6l0.5 -2.3h.1M4.7 -62.1l1.4 1.9l-1.9 1.5h.1M18.4 -4.2l-1.1 2.1h.1M15.3 -20.6l1.2 2.1l-2.0 1.4l-1.2 2.1h.1M22.9 -70.1h.1M10.8 -70.5l-1.6 -1.8l-1.4 1.9h.1M40.2 -86.9l2.2 0.9l-1.4 2.0l-1.6 1.8h.1M6.7 -60.7l2.3 -0.5h.1M15.4 -13.1l0.8 2.3l-1.2 -2.1l-0.7 -2.3l0.3 2.4h.1M20.6 -92.7l-1.6 1.8l-0.7 -2.3h.1M59.4 -62.4l1.5 -1.8l0.1 -2.4h.1M21.9 -3.1l1.9 1.5l2.2 1.0l-0.4 2.4l2.4 -0.4h.1M43.8 -35.4l1.5 1.9l1.1 -2.1h.1M19.8 -29.0l-1.8 1.6l0.3 2.4l-2.3 -0.6h.1M22.7 -18.9l2.3 0.7h.1M32.9 -36.2l1.1 -2.1l0.7 2.3h.1M1.2 -88.2l1.1 2.2l-1.4 2.0h.1M45.1 -31.8l2.2 -0.9h.1M57.6 -83.0l-1.9 1.4h.1M4.5 -31.3h.1M33.0 -87.0l-1.5 1.9h.1M51.0 -71.7l1.9 1.4l2.4 0.0h.1M18.7 -41.4l1.7 -1.6h.1M11.9 -51.1l-2.3 -0.5l-2.0 1.3h.1M21.9 -91.2l0.5 2.3l1.6 -1.8l-2.3 0.7h.1M52.5 -30.4h.1M53.3 -53.4h.1M36.5 -89.2h.1M50.9 -90.9l1.6 1.8h.1M4.8 -21.8l-2.4 0.4l1.6 1.8l-0.9 2.2h.1M31.4 -59.7l-2.3 -0.7l0.1 2.4h.1M6.8 -80.0h.1M17.0 -82.4l-1.1 -2.1l0.3 2.4l-2.4 0.1l-0.4 2.4h.1M35.0 -36.5l-0.6 2.3l2.4 -0.1l2.0 1.4l-1.7 -1.7h.1M18.9 -18.8l1.3 -2.0l-2.4 0.0l0.2 2.4l-2.4 0.5h.1M12.7 -64.2h.1M54.3 -77.5l1.9 -1.5l1.6 1.8l-1.6 1.8l1.8 1.6h.1M32.2 -92.8l-1.5 -1.8h.1M37.6 -67.7l0.6 2.3l-2.1 -1.2h.1M36.0 -30.9h.1M24.8 -52.6l-1.9 -1.5l1.4 -1.9l2.1 -1.1l-0.4 2.4h.1M23.6 -32.3l-2.4 -0.1l-2.3 0.6l-1.3 -2.0l0.3 2.4h.1M27.2 -24.5l2.4 0.4l0.1 -2.4h.1M57.8 -49.0l2.4 -0.2l-2.2 -1.0h.1M23.8 -16.9h.1M4.0 -28.2l-0.3 2.4l1.7 1.7l-2.4 0.4h.1" stroke="#969696" stroke-width="2.7" stroke-linecap="round" stroke-linejoin="round" fill="none" filter="url(#b04)"/>
<use href="#intF" fill="#d6d6d6" opacity="0.55"/>
<use href="#pilF" fill="url(#pdL)"/><use href="#botF" fill="url(#pdL)"/>
<path d="M15.2 6V160M51.9 6V160" stroke="#f4f4f4" stroke-width="1.5" opacity="0.85"/>
<path d="M6 2.4H15M42.5 2.4H51.8" stroke="#f6f6f6" stroke-width="2.2" opacity="0.9"/>
<rect x="0" y="177.6" width="61.2" height="2.6" fill="#fafafa"/>
<path d="M17 164.2Q28.7 173.4 40.5 164.2" stroke="#888" stroke-width="2.4" fill="none" transform="translate(0 -1.6)" filter="url(#b04)"/>
<use href="#penO" stroke="#1f5f1f" stroke-width="1.6"/>
<circle cx="24.3" cy="133.2" r="2.1" fill="#fbfbfb" stroke="#a8a8a8" stroke-width="0.9"/>
<g fill="#e9e01c" font-weight="bold" font-style="italic" font-size="12.5"><text x="19.5" y="181.3" textLength="20.5" lengthAdjust="spacingAndGlyphs">527</text><text x="-4.5" y="181.3">5</text><text x="55.6" y="181.3">5</text></g>
<rect x="0" y="182" width="61.2" height="2.6" fill="#2a5a2a"/>
</g>
<g transform="translate(329.90 949.0)" clip-path="url(#cb)">
<rect x="0" y="-94.0" width="61.2" height="278.4000000000001" fill="url(#pfine)"/>
<path d="M7.9 -22.2l-1.5 1.9l0.4 2.4h.1M54.9 -14.5l1.5 1.8l0.7 -2.3h.1M39.6 -62.4l-2.3 0.6l2.3 0.6l-1.1 -2.1h.1M1.0 -24.0h.1M36.9 -21.3l-1.9 -1.4h.1M54.1 -47.1l1.3 -2.0l-1.4 -2.0l1.5 -1.9l-1.9 1.4h.1M7.4 -49.0h.1M55.5 -79.3l2.2 -0.9l1.6 -1.8l2.4 0.3h.1M41.8 -86.8l1.0 -2.2h.1M0.4 -21.7l2.1 -1.2l2.0 1.3h.1M10.5 -70.8l2.4 0.1l-2.2 -1.0l-0.2 -2.4l-2.4 0.1h.1M47.2 -20.3l-0.8 2.3h.1M37.4 -46.4l1.7 1.7l-2.4 0.3h.1M25.4 -73.3l-1.5 1.9h.1M47.2 -46.7l-1.3 2.0l-1.1 2.1l-0.2 2.4l2.3 0.6h.1M44.7 -63.4l1.3 2.0l-0.6 -2.3l-1.9 -1.5l0.4 2.4h.1M42.3 -89.9l-2.4 0.4l-1.5 1.9l2.3 0.8h.1M59.1 -79.9l0.5 -2.4l0.7 2.3l-1.5 -1.9l1.9 1.4h.1M43.3 -72.5l0.1 -2.4h.1M1.5 -77.8l-2.4 -0.5h.1M58.7 -12.4l0.9 2.2l-1.3 2.0l2.4 0.3h.1M3.2 -41.1l1.9 1.5l-2.4 0.2l-2.3 -0.6l-1.9 1.5h.1M39.7 -52.5l1.0 -2.2l0.9 2.2l-0.4 2.4h.1M50.9 -23.7h.1M13.8 -54.6l1.7 1.7l2.3 0.6h.1M31.1 -54.7l2.2 1.1l-2.2 -0.9l-0.5 -2.3h.1M9.4 -45.2h.1M40.2 -59.0l0.1 -2.4l2.0 1.3l0.8 2.3h.1M22.1 -62.1l1.9 -1.5l2.0 1.3l2.2 0.9h.1M15.9 -38.0l0.8 -2.3l2.1 1.1h.1M0.7 -43.9l-2.3 0.7h.1M23.5 -19.1l2.4 0.4l-0.6 2.3h.1M34.7 -12.2l-2.0 1.4l2.4 -0.0l-1.6 -1.8h.1M7.1 -91.2l0.2 -2.4h.1M36.7 -80.5l1.7 -1.7h.1M21.1 -90.3l2.1 1.1l-0.8 2.3h.1M9.7 -45.1l2.4 -0.1l1.4 -2.0h.1M36.7 -9.4h.1M56.3 -91.1l1.6 -1.8l1.9 1.5h.1M36.8 -60.4l-1.3 2.0l1.8 1.5l0.9 -2.2l-2.3 0.5h.1M17.1 -59.2l-2.0 -1.4l1.6 -1.8l0.9 2.2h.1M20.0 -61.9l-2.1 1.2h.1M26.7 -81.5l0.6 2.3l1.7 1.7h.1M30.8 -47.2h.1M33.8 -57.6l1.0 2.2h.1M35.5 -78.7l1.2 -2.1l-2.3 -0.7l-2.4 0.0l-2.3 0.6h.1M2.4 -30.8l-1.0 2.2l1.4 -2.0l-2.4 -0.2l-2.4 -0.2h.1M6.7 -83.4h.1M20.1 -26.2l1.9 -1.5h.1M58.3 -58.6l-0.9 -2.2l1.4 -2.0l2.2 1.0h.1M10.7 -24.3l-0.0 2.4l-2.1 1.1l2.3 -0.7l2.3 -0.7h.1M26.9 -21.6h.1M48.8 -52.6l-0.7 2.3l-2.1 -1.2l1.6 -1.8h.1M35.0 -9.2l1.8 1.6h.1M21.3 -32.9l-0.8 2.2l-0.8 2.3h.1M25.1 -19.4l-1.5 1.9l-1.2 -2.1h.1M47.0 -45.0l-0.6 2.3l-2.0 1.3l0.9 2.2l-1.7 -1.7h.1M20.7 -76.4l-1.6 -1.8l-0.6 -2.3l2.3 -0.8l1.8 1.6h.1M13.2 -63.3h.1M40.8 -21.0l-1.6 -1.8l-1.6 -1.8l1.9 1.5l1.5 1.9h.1M20.8 -30.5l0.6 -2.3l1.9 -1.5h.1M22.5 -53.5l-1.8 -1.6l1.7 -1.7l1.7 -1.6l-2.0 1.3h.1M40.4 -91.9l0.1 2.4l-2.0 -1.3l-1.6 1.8l2.1 1.2h.1M39.9 -25.2l0.8 2.2l1.2 2.1h.1M17.4 -76.1l0.8 -2.2l0.4 2.4l-1.9 1.4h.1M33.0 -50.5l0.4 -2.4l-2.4 -0.1h.1M8.7 -93.7l1.0 -2.2l0.0 -2.4h.1M45.8 -88.4l0.2 2.4l1.4 -2.0l-1.7 -1.7l-0.4 2.4h.1M23.3 -86.2l1.6 -1.8l1.9 1.5l-0.4 2.4l-0.1 -2.4h.1M9.5 -19.6l1.5 -1.9l-1.5 1.8h.1M4.1 -13.6l1.1 2.1h.1M48.7 -61.7l-1.1 -2.1l1.7 -1.7l1.9 1.4l2.3 0.5h.1M8.2 -67.5l1.9 1.5h.1M1.7 -46.5l-0.3 2.4h.1M48.7 -57.2l-0.0 -2.4l-1.0 2.2h.1M41.6 -37.4l0.1 -2.4h.1M49.8 -34.8l-2.4 -0.4l-0.5 2.3h.1M2.3 -5.6h.1M37.1 -17.7l1.7 -1.7h.1M12.9 -32.0l-2.2 1.0h.1M9.8 -42.4l-1.8 1.6l2.4 0.1h.1M25.1 -58.0l-1.6 -1.8h.1M48.3 -14.1l1.9 -1.4h.1M59.5 -58.2l1.0 2.2l2.0 1.4l0.7 -2.3l-1.1 -2.1h.1M43.0 -28.5l-0.1 -2.4l0.8 -2.3l1.1 -2.1l0.3 2.4h.1M60.3 -83.1h.1M23.1 -36.7l-2.4 -0.4l1.5 1.9h.1M26.9 -34.6l-2.3 0.7l2.4 0.2h.1M38.7 -22.2l-1.8 1.6l-1.5 -1.9l2.2 1.1h.1M4.3 -51.2l-2.2 -1.0l-2.4 -0.3l-1.8 1.6h.1M9.9 -42.2l2.4 -0.0l-1.5 1.9h.1M15.8 -19.4l-1.9 -1.5h.1M20.3 -14.9l0.8 -2.2l-0.8 -2.2h.1M22.0 -31.8l-1.9 -1.4l2.1 -1.2l1.8 1.6h.1M31.1 -24.2l-2.3 -0.6l-1.7 -1.7l1.8 -1.5h.1M54.7 -69.7l1.2 -2.1l-1.1 -2.1h.1M40.8 -86.1l-2.2 -1.0h.1M29.2 -88.3l-2.1 -1.2l-2.4 -0.1h.1M27.2 -31.9h.1M34.3 -31.9l0.5 -2.3l2.4 0.3h.1M35.5 -34.2l0.9 -2.2h.1M23.7 -26.4h.1M7.9 -89.1l0.3 -2.4l-2.4 -0.2h.1M11.7 -16.9h.1M58.9 -20.8l-2.4 -0.2l-2.1 1.2l-2.4 -0.1h.1M3.4 -39.6l-2.4 -0.0l-0.8 2.3l1.7 -1.7h.1M33.2 -79.8l-0.6 2.3h.1M29.1 -71.5l-1.2 -2.1l-2.4 0.3h.1M2.6 -68.9l2.1 1.2l0.1 2.4l2.2 -1.0l0.9 -2.2h.1M2.4 -69.8h.1M52.0 -17.5l-0.8 -2.3l1.8 -1.6l-1.1 -2.1l-1.3 2.0h.1M7.7 -77.9l1.2 -2.1l-1.6 1.8l-1.8 1.6l-1.5 1.9h.1M22.3 -51.9l2.4 0.1l-2.2 1.0h.1M31.5 -71.0l-2.4 -0.2h.1M53.7 -24.7h.1M48.1 -45.1h.1M11.2 -81.2l2.3 -0.5l-0.7 -2.3h.1M25.4 -78.3l-2.1 1.2h.1M12.2 -41.7l-0.4 -2.4l-2.4 -0.1h.1M40.2 -12.6l1.6 1.8l0.1 2.4l-1.6 1.8h.1M12.7 -52.5l-2.4 0.2h.1" stroke="#969696" stroke-width="2.7" stroke-linecap="round" stroke-linejoin="round" fill="none" filter="url(#b04)"/>
<use href="#intF" fill="#d6d6d6" opacity="0.55"/>
<use href="#pilF" fill="url(#pdL)"/><use href="#botF" fill="url(#pdL)"/>
<path d="M15.2 6V160M51.9 6V160" stroke="#f4f4f4" stroke-width="1.5" opacity="0.85"/>
<path d="M6 2.4H15M42.5 2.4H51.8" stroke="#f6f6f6" stroke-width="2.2" opacity="0.9"/>
<rect x="0" y="177.6" width="61.2" height="2.6" fill="#fafafa"/>
<path d="M17 164.2Q28.7 173.4 40.5 164.2" stroke="#888" stroke-width="2.4" fill="none" transform="translate(0 -1.6)" filter="url(#b04)"/>
<use href="#penO" stroke="#1f5f1f" stroke-width="1.6"/>
<circle cx="29" cy="160.5" r="2.1" fill="#fbfbfb" stroke="#a8a8a8" stroke-width="0.9"/>
<g fill="#e9e01c" font-weight="bold" font-style="italic" font-size="12.5"><text x="19.5" y="181.3" textLength="20.5" lengthAdjust="spacingAndGlyphs">527</text><text x="-4.5" y="181.3">5</text><text x="55.6" y="181.3">5</text></g>
<rect x="0" y="182" width="61.2" height="2.6" fill="#2a5a2a"/>
</g>
<g transform="translate(393.50 949.0)" clip-path="url(#cb)">
<rect x="0" y="-94.0" width="61.2" height="278.4000000000001" fill="url(#pfine)"/>
<path d="M33.2 -44.8l-1.6 1.8l0.7 -2.3l0.4 2.4h.1M56.9 -20.3l1.5 1.8h.1M61.1 -86.8l-2.2 0.9h.1M56.2 -85.3l-0.7 -2.3l1.8 -1.6l-1.1 2.1l1.4 -2.0h.1M49.5 -48.2l-0.3 2.4h.1M24.1 -27.0h.1M1.8 -44.0l-1.5 1.9l1.0 2.2l0.8 -2.2h.1M42.8 -90.3l-2.3 0.6l-2.3 -0.8l-2.4 -0.1h.1M61.2 -49.0l1.4 2.0h.1M61.2 -65.1l1.1 2.1l1.3 -2.0h.1M46.0 -20.1l1.3 2.0h.1M58.1 -66.8l1.7 -1.7l-2.2 -0.9l-0.9 2.2h.1M20.7 -73.6l2.1 1.2l-1.5 -1.9h.1M3.2 -41.5l1.4 -2.0l-0.7 -2.3h.1M22.8 -26.2l2.3 0.8l-0.3 -2.4l-2.0 -1.3h.1M56.2 -85.6l-0.7 2.3h.1M16.2 -49.0l-0.2 -2.4l-1.0 2.2h.1M24.9 -76.2l-1.2 -2.1l2.2 -1.0h.1M54.6 -31.9l2.2 -1.0l1.3 -2.0h.1M27.1 -21.7h.1M9.1 -2.8l-2.1 1.1l-1.7 1.7h.1M28.9 -56.6l-2.3 -0.8l1.5 1.9h.1M42.1 -65.8l-2.1 -1.2h.1M37.8 -85.0l2.4 0.2l-0.6 -2.3h.1M32.6 -60.9l2.2 1.0h.1M48.1 -50.8l-0.8 2.3l-2.3 0.8h.1M2.8 -32.5l2.2 0.9h.1M23.2 -87.8l-1.3 2.0l-2.3 0.6h.1M28.6 -60.7l2.3 0.5l-2.1 -1.2l-2.3 -0.7h.1M46.8 -6.9l0.8 -2.2l1.3 -2.0l1.5 1.9h.1M13.4 -58.9l-2.1 -1.1l0.2 2.4l1.2 2.1l2.0 -1.3h.1M27.6 -72.5h.1M39.5 -60.9l-2.0 1.4l0.8 2.3h.1M9.3 -88.0h.1M44.5 -4.1l-2.4 0.2h.1M18.2 -26.3l-2.0 1.4l0.4 -2.4h.1M18.8 -89.3l0.0 -2.4h.1M18.9 -61.4l-0.9 -2.2h.1M19.8 -11.9l-0.8 -2.3l-1.9 -1.4l0.8 2.3h.1M15.5 -43.1l-1.8 -1.5h.1M10.5 -49.2l0.4 2.4l1.5 -1.9l-1.8 1.6h.1M3.0 -65.5l1.6 1.7l-2.4 0.4l2.3 -0.7h.1M27.1 -51.8h.1M53.3 -58.9l-2.3 -0.6l-0.7 2.3h.1M57.7 -40.4l1.9 1.4l-1.8 1.6l2.0 -1.3h.1M56.9 -30.5l-2.3 -0.6h.1M33.7 -34.9l-1.1 -2.1h.1M25.4 -78.2l-0.7 -2.3l-2.2 0.9l-2.2 1.1l-0.6 2.3h.1M40.4 -58.5l2.4 -0.4h.1M13.3 -80.6l2.3 -0.7l2.3 0.6h.1M19.7 -59.0l-0.1 -2.4l-2.4 0.1h.1M29.1 -76.4h.1M40.2 -68.9l-0.7 -2.3h.1M56.7 -63.7l-1.4 2.0h.1M43.8 -90.4h.1M18.2 -74.2h.1M34.2 -70.9l-2.3 -0.6l-1.1 2.1h.1M34.2 -58.6l-1.1 2.1l-0.5 -2.3h.1M7.2 -68.3l1.0 -2.2l-2.1 -1.2l2.4 -0.2l-1.3 2.0h.1M24.9 -17.7l2.4 0.4l-2.0 -1.3l-1.8 -1.6l-1.3 -2.0h.1M16.1 -66.4l2.4 -0.2h.1M23.2 -51.5l-1.5 1.9l-1.0 -2.2h.1M37.7 -73.0l2.0 1.3l-2.1 -1.1l-0.1 2.4h.1M31.9 -59.2l0.9 2.2h.1M30.7 -77.6l2.4 0.1h.1M50.4 -28.9l-0.8 2.3l-1.0 2.2h.1M1.2 -25.1l2.2 1.1h.1M44.3 -53.3l-2.4 -0.1l2.1 -1.2l-2.3 -0.8h.1M30.1 -54.3l-0.2 2.4l0.9 2.2l1.6 1.8h.1M35.3 -21.3l-2.2 1.0l1.2 -2.1l1.5 1.9l1.9 1.5h.1M40.6 -74.4l1.7 1.7h.1M48.5 -80.8l1.0 2.2l-2.0 1.3l-1.0 -2.2h.1M43.8 -55.7l2.4 0.4l0.0 -2.4h.1M39.3 -53.8l1.4 -2.0h.1M24.8 -20.0l1.9 -1.5l-2.4 -0.4h.1M16.3 -9.4l-2.4 -0.5l2.3 0.7l1.4 -2.0l0.9 2.2h.1M36.7 -7.3l0.5 -2.3l0.8 -2.2h.1M48.8 -41.7l-0.8 -2.3h.1M31.5 -55.3l-2.4 -0.4h.1M55.9 -3.2l2.3 0.8h.1M53.1 -17.5l-2.4 -0.4h.1M3.0 -2.1l0.3 -2.4h.1M40.0 -86.2l1.4 1.9l1.9 -1.5h.1M61.0 -13.3l2.3 0.7h.1M32.5 -57.6h.1M17.8 -34.1l-1.1 -2.1h.1M9.1 -36.3l-1.0 -2.2h.1M49.5 -54.6l2.3 0.7l-2.4 -0.1h.1M15.2 -49.2l-1.3 -2.0h.1M41.1 -16.2l1.0 -2.2l-1.7 -1.7l2.3 0.5l2.4 -0.2h.1M5.3 -38.9l2.0 -1.4l1.3 -2.0l2.2 -1.0h.1M45.8 -4.4l-2.1 1.2h.1M52.4 -21.3l-2.3 -0.8h.1M49.0 -31.9l2.3 -0.6h.1M43.1 -60.0l-2.3 -0.7l-2.4 -0.2h.1M43.9 -81.3l-0.3 -2.4h.1M21.3 -16.0l-0.3 -2.4l2.0 -1.4l-2.2 0.9l2.2 -0.8h.1M34.5 -45.9l0.1 -2.4l-1.6 1.8l1.9 1.5l-2.4 0.2h.1M27.1 -77.5l-2.4 -0.2h.1M16.9 -20.0h.1M23.1 -20.3l0.1 2.4l-1.9 1.4h.1M50.7 -82.2l-1.4 -1.9l-0.9 2.2l-0.1 -2.4l-0.5 -2.4h.1M19.8 -62.3l-1.4 2.0h.1M15.4 -75.7h.1M47.0 -77.5l0.6 -2.3l-1.8 -1.5l-2.3 0.5h.1M53.2 -24.5l-1.0 2.2l2.3 -0.8l-1.0 2.2h.1M33.0 -65.2l-2.3 0.6l-1.3 -2.0h.1M50.0 -85.6l-0.6 2.3l0.8 2.3l2.0 -1.3h.1M19.7 -22.3l0.2 -2.4h.1M45.7 -12.7l-2.4 -0.2h.1M21.5 -70.5l1.4 -1.9h.1M56.5 -90.5l-1.8 1.6h.1M54.3 -69.0l-1.4 1.9l-2.4 -0.1l2.4 -0.3h.1M44.7 -34.5l-1.0 -2.2l2.1 1.1l2.3 -0.5h.1M24.6 -68.5l2.4 0.1h.1M15.1 -66.2l-2.3 0.6l-1.8 1.5l-0.0 2.4h.1M51.5 -90.4l1.3 2.0h.1M20.4 -17.8l2.1 -1.1l2.4 0.4h.1M40.8 -34.8h.1M18.3 -85.6l2.4 0.2l0.0 2.4l0.8 -2.2l1.2 2.1h.1M60.9 -55.0l1.5 -1.8l0.3 -2.4l2.3 0.8l-1.7 1.6h.1M48.8 -89.8l-1.5 1.9h.1M57.4 -72.4l0.0 -2.4h.1M47.5 -17.9l-2.3 -0.7l-1.1 2.1l2.0 -1.3h.1M5.3 -50.6l-0.7 -2.3h.1M22.7 -61.0l1.1 -2.2h.1M35.0 -42.4h.1M56.0 -61.5l-0.7 2.3l1.6 -1.8h.1" stroke="#969696" stroke-width="2.7" stroke-linecap="round" stroke-linejoin="round" fill="none" filter="url(#b04)"/>
<use href="#intF" fill="#d6d6d6" opacity="0.55"/>
<use href="#pilF" fill="url(#pdL)"/><use href="#botF" fill="url(#pdL)"/>
<path d="M15.2 6V160M51.9 6V160" stroke="#f4f4f4" stroke-width="1.5" opacity="0.85"/>
<path d="M6 2.4H15M42.5 2.4H51.8" stroke="#f6f6f6" stroke-width="2.2" opacity="0.9"/>
<rect x="0" y="177.6" width="61.2" height="2.6" fill="#fafafa"/>
<path d="M17 164.2Q28.7 173.4 40.5 164.2" stroke="#888" stroke-width="2.4" fill="none" transform="translate(0 -1.6)" filter="url(#b04)"/>
<use href="#penO" stroke="#1f5f1f" stroke-width="1.6"/>
<circle cx="35" cy="161" r="2.1" fill="#fbfbfb" stroke="#a8a8a8" stroke-width="0.9"/>
<g fill="#e9e01c" font-weight="bold" font-style="italic" font-size="12.5"><text x="19.5" y="181.3" textLength="20.5" lengthAdjust="spacingAndGlyphs">527</text><text x="-4.5" y="181.3">5</text><text x="55.6" y="181.3">5</text></g>
<rect x="0" y="182" width="61.2" height="2.6" fill="#2a5a2a"/>
</g>
<g transform="translate(457.30 949.0)" clip-path="url(#cb)">
<rect x="0" y="-94.0" width="61.2" height="278.4000000000001" fill="url(#pfine)"/>
<path d="M14.5 -83.7l2.4 0.3l-2.4 0.4h.1M27.4 -61.4l2.3 0.5l1.7 -1.7l-2.2 1.0h.1M22.6 -65.4l2.4 -0.2h.1M19.3 -29.3l-2.2 0.9l2.0 -1.3l0.6 2.3l1.4 2.0h.1M12.7 -43.6h.1M12.3 -55.4l-1.4 -2.0l0.3 -2.4h.1M51.6 -23.1l1.2 2.1l-1.4 -1.9l-0.8 2.3l-0.4 -2.4h.1M27.7 -36.2l-2.3 -0.6l-0.6 2.3h.1M10.4 -91.3l-2.3 0.7h.1M4.8 -90.5l1.2 -2.1l1.8 1.6h.1M54.7 -13.5l2.4 0.3h.1M19.7 -39.9l1.7 -1.7h.1M0.6 -86.4l2.4 -0.2l-2.4 0.5l-1.7 1.7h.1M52.3 -82.1h.1M40.5 -62.6h.1M15.4 -52.7l-1.2 -2.1l0.0 2.4h.1M53.3 -43.6l-1.0 -2.2l1.9 -1.4l-1.5 1.8h.1M55.2 -19.6h.1M20.2 -16.8l-1.6 1.8l-1.0 2.2h.1M35.1 -74.9l-1.8 1.6l1.6 -1.7l-2.2 -0.8h.1M35.0 -58.2l1.4 2.0l-1.3 2.0h.1M2.6 -80.4h.1M55.8 -78.1l-0.5 -2.3h.1M4.9 -4.2l-0.2 2.4l1.5 -1.9l-2.4 0.4l-2.2 -1.0h.1M15.3 -14.4l-1.3 2.0l-1.3 -2.0h.1M57.1 -65.0l-2.4 0.0l2.1 1.2h.1M33.7 -93.6l0.1 -2.4l-1.4 -2.0l-2.2 0.9l-1.6 -1.8h.1M56.8 -43.6l0.2 2.4l-0.4 -2.4h.1M40.7 -80.7l2.4 0.3h.1M22.2 -29.7l-2.0 1.3h.1M38.2 -60.6h.1M13.9 -86.4l0.8 -2.3h.1M40.3 -26.1l2.2 -0.9l2.2 -0.9h.1M23.0 -15.3l-0.5 -2.3l0.7 2.3l-1.8 -1.6h.1M2.3 -16.6h.1M38.6 -69.3l0.6 2.3l-1.6 1.8h.1M27.2 -19.4l-2.4 0.4h.1M61.1 -47.9l-2.1 1.2l-2.2 -1.0h.1M51.1 -11.6l-0.6 2.3l0.6 -2.3h.1M31.3 -63.8l1.5 -1.9l1.6 -1.8l1.5 -1.9l-1.7 -1.7h.1M45.5 -73.4l2.3 -0.7l2.3 0.6h.1M59.2 -93.0l-1.0 -2.2l1.7 1.7h.1M1.2 -37.6l1.3 -2.0h.1M15.6 -67.6l2.1 -1.2h.1M22.1 -73.4l-2.2 0.9h.1M21.7 -14.8l2.3 -0.6l-1.1 -2.1l0.9 -2.2l-1.6 -1.7h.1M22.9 -45.8l-1.1 2.1h.1M57.9 -21.2l-2.1 -1.1l-2.3 0.8h.1M46.5 -74.6l1.8 1.6l2.2 0.8l1.9 1.5h.1M34.6 -75.4l-0.4 2.4l0.3 -2.4l-1.8 1.6h.1M5.4 -9.7h.1M33.4 -53.3l2.3 -0.8l-1.7 1.7l-2.4 0.1h.1M24.9 -24.9l-1.7 1.7l-1.7 -1.7l1.3 -2.0h.1M46.9 -65.0l-0.4 -2.4l0.0 2.4h.1M2.0 -47.4l-1.7 1.6l1.6 -1.8h.1M14.3 -38.0l2.0 1.3h.1M52.2 -60.1l-0.6 2.3l-0.1 2.4l0.4 2.4h.1M47.2 -61.7l-2.4 -0.5h.1M20.2 -27.4l-2.3 -0.5l-2.3 -0.7h.1M7.0 -33.6l-2.2 0.9l-1.8 1.6l2.1 -1.1l1.5 1.9h.1M22.0 -63.2l2.3 -0.6h.1M14.1 -15.2l-1.4 -1.9l1.2 2.1h.1M29.6 -90.8l-1.4 1.9h.1M57.3 -39.0l-2.2 -1.0l2.0 -1.3h.1M50.6 -54.9h.1M15.4 -27.1l-0.5 -2.3l2.3 0.6l0.5 2.3h.1M34.5 -56.2l2.1 -1.1l-0.2 -2.4h.1M27.7 -70.1l-0.0 2.4l-0.8 -2.3h.1M9.7 -57.1l1.5 1.8l-2.1 1.2h.1M41.1 -73.8h.1M15.8 -34.7l-1.1 2.1l-1.9 1.4l-0.7 2.3h.1M12.6 -68.5l1.2 2.1l-2.2 -1.1l-2.3 -0.7h.1M53.3 -65.5l-1.2 2.1l2.4 0.4l2.2 0.9h.1M1.7 -77.0l-2.4 0.2l-0.6 2.3h.1M39.8 -85.2h.1M25.4 -66.6l-2.2 0.9l0.4 -2.4h.1M21.5 -62.6l2.4 -0.3h.1M26.6 -54.1l2.3 -0.6l-2.4 -0.2h.1M29.0 -88.5l0.9 -2.2l1.4 1.9h.1M54.1 -66.6l-2.4 -0.4l0.4 -2.4l2.2 -0.9l1.2 -2.1h.1M41.1 -88.1l2.3 0.5l-2.1 1.2h.1M58.5 -32.1l-2.4 -0.2h.1M33.1 -11.8l1.9 1.4l2.3 0.6h.1M43.6 -86.2l-2.4 -0.0l-1.7 1.7h.1M48.7 -13.8h.1M20.2 -83.3l-0.5 2.3l-1.4 1.9h.1M20.1 -20.9l1.5 -1.9l0.6 -2.3l2.4 0.2h.1M8.2 -28.7l0.9 2.2h.1M53.3 -42.9l1.3 2.0l1.3 2.0l0.1 2.4l0.3 2.4h.1M6.3 -7.2l2.0 -1.3l-0.5 -2.3h.1M47.9 -37.4l-2.4 0.4l-2.4 0.2h.1M11.7 -33.5l2.3 0.7h.1M59.1 -21.1l2.2 -1.0l-2.4 0.2l1.4 1.9l2.0 1.3h.1M16.2 -47.2h.1M55.3 -17.9l-2.0 -1.3h.1M57.4 -22.0l1.5 -1.9l0.4 -2.4l-1.1 2.1l0.8 -2.2h.1M7.8 -51.3l2.4 0.5l-1.2 -2.1h.1M13.2 -20.6l0.7 -2.3l-1.6 1.8l-1.7 1.7h.1M24.2 -36.4l0.4 2.4h.1M53.3 -34.4l2.1 1.1l2.4 -0.1l-2.4 0.0l-2.4 -0.2h.1M27.4 -20.5l-1.7 -1.7h.1M58.0 -19.3l-2.4 -0.2l-0.4 -2.4h.1M2.0 -72.6l-0.8 -2.3h.1M57.3 -64.9l2.4 0.4l0.9 -2.2l-0.6 2.3l-2.3 -0.6h.1M0.5 -64.5h.1M57.4 -55.0l-0.9 2.2h.1M42.8 -36.7h.1M4.5 -92.9l0.3 -2.4h.1M42.6 -18.3l1.2 -2.1l-1.2 -2.1h.1M25.5 -45.4l-1.4 2.0h.1M59.8 -66.9l-2.0 1.3l-0.2 2.4h.1M24.9 -71.7l1.4 2.0l-2.2 0.9l-1.4 -2.0l1.8 -1.5h.1M34.8 -55.3l-1.8 -1.5l2.2 1.1h.1M16.6 -38.4l-0.4 2.4l-0.6 -2.3l-1.9 -1.5l2.2 -0.9h.1M58.4 -29.9l2.4 -0.4l-0.3 -2.4l0.6 -2.3l-2.3 0.7h.1M54.4 -86.1l1.4 1.9l2.2 -0.9l-1.0 -2.2h.1M47.3 -38.4l2.4 0.4h.1M39.4 -48.9l2.3 -0.6l-1.2 -2.1h.1M38.6 -4.6l-1.0 -2.2l-2.3 -0.6h.1M16.9 -82.6l-0.5 2.4l1.9 1.4h.1M39.8 -36.4l-1.6 1.8l-1.9 -1.5h.1M54.2 -53.2l0.8 2.3l-1.9 -1.4l2.1 -1.1l2.3 0.8h.1M33.4 -67.7l-2.4 0.4l-0.9 2.2l2.2 -1.1h.1M47.6 -37.4l-0.3 -2.4h.1M8.2 -41.1l2.2 1.0h.1M9.2 -34.2h.1M18.2 -18.7l1.1 -2.1l2.1 1.1l0.3 2.4h.1M20.7 -63.5l2.3 -0.7l-1.2 2.1l2.1 -1.2h.1M13.8 -17.2l1.7 -1.7h.1M34.9 -12.5l0.8 -2.3l-1.8 -1.6h.1M55.6 -80.5l2.4 -0.0h.1M24.3 -46.4l1.3 2.0h.1M32.9 -24.8l-1.3 2.0l0.1 2.4h.1M26.4 -20.5l-1.7 -1.6l2.2 -0.9l-0.5 -2.4h.1M58.0 -45.4l-0.2 2.4h.1" stroke="#969696" stroke-width="2.7" stroke-linecap="round" stroke-linejoin="round" fill="none" filter="url(#b04)"/>
<use href="#intF" fill="#d6d6d6" opacity="0.55"/>
<use href="#pilF" fill="url(#pdL)"/><use href="#botF" fill="url(#pdL)"/>
<path d="M15.2 6V160M51.9 6V160" stroke="#f4f4f4" stroke-width="1.5" opacity="0.85"/>
<path d="M6 2.4H15M42.5 2.4H51.8" stroke="#f6f6f6" stroke-width="2.2" opacity="0.9"/>
<rect x="0" y="177.6" width="61.2" height="2.6" fill="#fafafa"/>
<path d="M17 164.2Q28.7 173.4 40.5 164.2" stroke="#888" stroke-width="2.4" fill="none" transform="translate(0 -1.6)" filter="url(#b04)"/>
<use href="#penO" stroke="#1f5f1f" stroke-width="1.6"/>
<circle cx="31" cy="161" r="2.1" fill="#fbfbfb" stroke="#a8a8a8" stroke-width="0.9"/>
<g fill="#e9e01c" font-weight="bold" font-style="italic" font-size="12.5"><text x="19.5" y="181.3" textLength="20.5" lengthAdjust="spacingAndGlyphs">527</text><text x="-4.5" y="181.3">5</text><text x="55.6" y="181.3">5</text></g>
<rect x="0" y="182" width="61.2" height="2.6" fill="#2a5a2a"/>
</g>
<g transform="translate(521.10 949.0)" clip-path="url(#cb)">
<rect x="0" y="-94.0" width="61.2" height="278.4000000000001" fill="url(#pfine)"/>
<path d="M20.7 -36.8l-2.3 -0.7l0.5 -2.4l0.7 -2.3l2.3 0.6h.1M8.0 -67.7l-2.0 1.4l0.9 2.2h.1M44.1 -45.0l-2.3 0.7l2.4 0.4l-1.9 1.5h.1M5.5 -26.1l-2.4 -0.4l-2.4 -0.4l-1.2 -2.1h.1M19.1 -18.6l-0.9 -2.2l-2.4 0.2l1.3 2.0l1.5 -1.9h.1M44.3 -32.4h.1M53.4 -68.8l2.4 0.2h.1M0.3 -51.4l-2.4 -0.1l0.9 2.2l1.7 1.7l2.3 0.7h.1M44.4 -48.8l1.5 -1.8h.1M8.8 -91.1l-0.1 -2.4l-1.5 1.9l0.4 -2.4l-2.4 -0.4h.1M41.7 -92.3l1.9 -1.4l0.7 -2.3h.1M29.9 -64.1l2.4 0.4l-0.2 -2.4h.1M25.2 -54.1l-2.2 -1.0l-0.5 2.4l2.4 -0.3h.1M53.9 -84.3l-2.3 0.7h.1M22.9 -31.5h.1M22.9 -75.4l-2.2 -1.1h.1M18.2 -69.9l1.2 -2.1l0.2 -2.4h.1M29.8 -61.0l-2.3 -0.7l2.4 0.1h.1M45.1 -20.7l1.1 2.1l-1.1 -2.1l2.1 1.1l-0.2 -2.4h.1M27.2 -76.5l1.6 1.7l1.0 2.2l1.8 -1.6h.1M26.6 -73.0l2.1 1.1l1.6 1.8l-2.0 1.3h.1M43.4 -88.2l2.0 1.4h.1M27.1 -64.2l-2.0 1.3h.1M56.4 -9.0h.1M37.4 -81.9l0.7 -2.3l1.4 -1.9l-2.0 -1.4l0.7 -2.3h.1M34.6 -44.7l0.8 -2.3l0.1 -2.4l-0.4 -2.4l-1.4 1.9h.1M36.6 -12.4l2.3 0.5l2.2 0.9h.1M32.4 -52.5h.1M26.7 -31.1l-0.6 2.3l0.2 2.4l-0.7 -2.3h.1M37.2 -12.3l-2.2 0.9h.1M42.0 -24.7l-1.7 1.7l2.4 0.4l2.1 1.1l-0.6 -2.3h.1M51.0 -69.8l1.8 1.6l-2.1 -1.2h.1M47.5 -66.3l-1.9 -1.4l-2.4 0.2h.1M24.6 -67.4l-0.3 -2.4l-2.4 -0.3l0.7 -2.3l-0.5 2.3h.1M5.6 -22.4l-0.6 2.3l0.9 2.2h.1M30.9 -86.6l2.1 -1.1l2.0 1.4l2.4 0.3h.1M43.5 -55.7h.1M28.6 -47.2l1.0 2.2l1.3 2.0h.1M14.5 -13.0l0.7 2.3h.1M7.4 -28.5l1.7 -1.7h.1M15.2 -53.3l2.0 -1.3h.1M5.1 -80.2l-1.8 1.6h.1M12.5 -49.6l-1.2 2.1h.1M41.4 -65.6l1.2 2.1l1.5 1.9h.1M51.4 -93.2l-2.4 0.1h.1M20.9 -92.4l-1.5 -1.9l-0.7 2.3l-1.6 -1.8h.1M37.6 -55.4l-2.0 -1.4l-0.0 -2.4h.1M34.5 -83.4l-2.0 1.3l2.2 -1.0l-2.3 -0.6h.1M38.5 -93.0l2.1 -1.2l2.3 -0.6h.1M16.9 -8.2h.1M30.8 -30.0h.1M16.4 -22.8l-2.4 0.4h.1M22.6 -67.7l0.8 -2.3l-2.4 0.0l-2.2 0.8h.1M1.3 -43.9l-1.2 -2.1h.1M46.5 -70.6l0.1 2.4l0.7 2.3l0.3 -2.4l-2.4 -0.0h.1M55.8 -87.8l0.2 2.4l2.3 0.5l-1.3 2.0h.1M32.7 -75.1h.1M25.8 -35.2l-2.3 0.6l-1.7 1.7l-1.2 2.1l-2.2 -0.9h.1M21.4 -46.3l-1.7 1.7h.1M55.5 -89.5l2.1 1.1h.1M37.6 -89.0l0.6 2.3l-0.3 2.4l-2.4 0.2l1.0 -2.2h.1M58.6 -59.2l-2.4 0.2l-2.2 -1.0l-1.5 -1.9h.1M20.6 -35.6l2.4 0.2l-2.0 -1.3l-2.2 -0.9l-2.1 1.1h.1M40.2 -71.7l1.1 2.1h.1M24.2 -27.3l1.0 -2.2l1.4 1.9h.1M15.2 -26.7l-2.1 1.2l2.3 0.7h.1M52.6 -76.3l-1.1 -2.1l2.3 0.8h.1M3.4 -84.8l-2.4 0.1h.1M14.8 -89.5l1.2 -2.1l2.4 -0.4l-0.3 -2.4l1.2 -2.1h.1M45.1 -81.0l-0.1 2.4h.1M58.9 -62.3l2.0 1.3l-1.6 1.8l2.1 -1.2h.1M47.4 -68.5l-2.4 -0.5l-2.3 -0.8h.1M10.9 -26.8h.1M36.6 -4.3h.1M4.3 -15.6h.1M17.3 -76.0l1.9 -1.5l-2.2 1.0l2.3 0.5h.1M29.5 -24.1l1.1 2.1l-2.4 -0.3h.1M59.2 -57.5l2.0 1.3l1.7 1.7h.1M10.2 -4.8l1.0 2.2l2.4 0.3h.1M36.7 -52.3l2.2 -0.9l-0.4 2.4h.1M5.2 -28.0l1.9 1.5h.1M34.0 -52.1l-1.7 -1.7l1.4 -2.0l-2.0 1.3l-1.6 1.7h.1M43.0 -44.9l2.4 0.4h.1M1.7 -34.8l2.2 -0.8h.1M42.6 -57.7l0.6 2.3l1.3 2.0h.1M53.5 -82.1l-1.5 -1.9l-2.4 0.4h.1M19.3 -70.4l-0.9 2.2h.1M60.9 -31.0h.1M3.1 -14.7l-0.8 -2.2h.1M17.2 -93.6l-1.4 -1.9h.1M31.6 -83.9l2.4 -0.2l1.9 1.4l-1.5 1.9l-2.4 0.2h.1M42.3 -54.1h.1M51.6 -15.4l0.7 -2.3l-2.4 0.5l2.3 -0.7l2.3 -0.6h.1" stroke="#969696" stroke-width="2.7" stroke-linecap="round" stroke-linejoin="round" fill="none" filter="url(#b04)"/>
<use href="#intF" fill="#d6d6d6" opacity="0.55"/>
<use href="#pilF" fill="url(#pdL)"/><use href="#botF" fill="url(#pdL)"/>
<path d="M15.2 6V160M51.9 6V160" stroke="#f4f4f4" stroke-width="1.5" opacity="0.85"/>
<path d="M6 2.4H15M42.5 2.4H51.8" stroke="#f6f6f6" stroke-width="2.2" opacity="0.9"/>
<rect x="0" y="177.6" width="61.2" height="2.6" fill="#fafafa"/>
<path d="M17 164.2Q28.7 173.4 40.5 164.2" stroke="#888" stroke-width="2.4" fill="none" transform="translate(0 -1.6)" filter="url(#b04)"/>
<use href="#penO" stroke="#1f5f1f" stroke-width="1.6"/>
<circle cx="30.5" cy="161.5" r="2.1" fill="#fbfbfb" stroke="#a8a8a8" stroke-width="0.9"/>
<g fill="#e9e01c" font-weight="bold" font-style="italic" font-size="12.5"><text x="19.5" y="181.3" textLength="20.5" lengthAdjust="spacingAndGlyphs">527</text><text x="-4.5" y="181.3">5</text><text x="55.6" y="181.3">5</text></g>
<rect x="0" y="182" width="61.2" height="2.6" fill="#2a5a2a"/>
</g>
<g transform="translate(584.90 949.0)" clip-path="url(#cb)">
<rect x="0" y="-94.0" width="61.2" height="278.4000000000001" fill="url(#pfine)"/>
<path d="M38.0 -47.7l-1.3 -2.0l2.3 -0.6h.1M34.8 -41.9h.1M19.0 -45.6l2.3 -0.6l-0.0 -2.4l1.3 -2.0l1.4 2.0h.1M35.6 -61.0l1.5 1.9h.1M29.0 -83.7l-1.4 2.0h.1M3.5 -46.0l0.1 2.4l2.4 0.0l2.4 -0.3h.1M53.2 -41.8l1.7 -1.7l2.1 -1.1l-2.4 -0.1l-2.0 -1.3h.1M54.0 -29.3l-1.4 -2.0l0.3 2.4h.1M25.9 -23.4h.1M39.2 -55.5l-2.1 1.2h.1M6.2 -77.1h.1M58.7 -71.0h.1M35.3 -14.9l0.2 -2.4l1.3 -2.0h.1M11.4 -57.8l-1.0 -2.2l-0.7 -2.3h.1M38.9 -57.7l-1.9 -1.4l-1.5 -1.9h.1M34.2 -43.9l0.9 2.2l1.1 2.1h.1M31.9 -50.1l-2.1 1.2h.1M29.7 -10.0l2.3 -0.6l2.3 -0.7l0.6 -2.3l-2.4 0.4h.1M1.6 -29.5l0.2 -2.4h.1M3.2 -19.3l-0.1 -2.4l-2.2 1.0l-1.3 -2.0l1.2 -2.1h.1M36.9 -49.4l-1.0 2.2l1.2 2.1l-0.5 2.3l-1.4 -1.9h.1M47.2 -50.8h.1M28.2 -65.1l-2.0 -1.4l0.1 2.4h.1M9.9 -27.7h.1M58.6 -78.3h.1M42.4 -48.8h.1M39.8 -64.6h.1M50.2 -55.0l1.1 2.1l-2.1 1.1h.1M60.2 -22.4h.1M1.0 -35.8l-2.1 -1.2h.1M1.2 -68.3l-1.5 1.8l-2.4 0.1l1.6 1.8h.1M31.9 -13.3l2.0 -1.4l2.2 0.9l0.0 -2.4l2.2 -0.9h.1M60.7 -26.4l2.2 -0.9h.1M38.1 -58.6l-0.0 2.4l-0.9 -2.2h.1M58.0 -18.8l2.0 1.3h.1M42.5 -66.5l1.2 2.1l1.4 -1.9l1.6 1.8h.1M11.8 -73.2l-2.0 -1.3h.1M28.3 -36.5l-2.4 0.3l0.5 2.3l2.2 -1.0l0.4 -2.4h.1M20.8 -51.9l-2.0 1.3l1.4 1.9l1.7 1.7l0.9 -2.2h.1M11.6 -52.0l-2.4 0.2h.1M52.4 -63.4l-0.9 -2.2l-2.3 0.7h.1M12.2 -40.3l-0.1 2.4l-0.5 2.4l-2.3 0.6h.1M50.8 -88.3l1.1 -2.1l2.0 -1.4h.1M32.4 -24.3l-2.2 -1.0h.1M35.6 -9.5l0.1 -2.4l-1.7 -1.7l2.3 0.8l1.1 -2.1h.1M60.1 -47.4l2.3 0.8l2.2 0.9h.1M33.6 -50.1l0.8 -2.3l0.2 -2.4h.1M46.5 -40.1h.1M16.5 -24.4l2.4 -0.4l1.3 -2.0l-2.4 -0.0l2.1 1.2h.1M52.9 -35.7l-0.4 2.4l-1.7 -1.7l1.6 -1.8h.1M33.5 -74.3l1.2 2.1h.1M46.2 -75.4l-2.3 -0.6h.1M13.1 -92.2l1.9 -1.5l2.4 -0.3l-0.9 -2.2l1.4 -1.9h.1M57.5 -43.8l-0.6 -2.3l-0.6 2.3l2.3 0.6h.1M32.7 -30.3l1.5 1.9l2.1 -1.2l-2.4 -0.1l-0.9 2.2h.1M51.5 -6.0h.1M58.9 -35.1l2.4 -0.2l-1.7 -1.7l1.1 -2.2h.1M45.6 -38.4l1.0 2.2l0.2 2.4l2.1 -1.2l-2.4 -0.3h.1M37.2 -28.6l0.6 -2.3h.1M34.2 -12.1l-2.2 -0.9l-2.4 -0.4h.1M37.7 -30.1l-2.4 0.0l2.2 1.0l-1.0 2.2h.1M45.0 -74.5l-2.4 0.4h.1M41.4 -65.4l1.6 1.8l-1.9 -1.5l2.2 -0.9h.1M1.3 -64.2l-2.3 -0.7h.1M49.9 -86.3l-2.4 0.1l2.0 -1.3h.1M52.8 -52.2h.1M43.4 -38.0h.1M53.8 -55.0l2.4 0.0l-2.0 -1.3h.1M35.3 -32.9l1.3 -2.0l2.2 -0.9l-0.8 2.3h.1M54.3 -38.5l-2.3 0.7h.1M26.0 -66.4h.1M23.2 -73.5h.1M25.3 -43.0h.1M33.4 -40.2l-1.6 -1.8h.1M0.8 -89.7l-0.6 2.3h.1M10.5 -49.9l1.6 1.8l2.4 0.0l-2.2 1.1h.1M4.7 -91.7l-1.6 1.8h.1M5.7 -75.4l-0.5 2.3h.1M25.8 -15.9h.1M57.3 -30.4l-1.5 1.9l-0.2 2.4l1.4 1.9h.1M12.1 -12.3l-0.7 -2.3l1.9 -1.4h.1M42.4 -82.0l1.3 2.0l-1.3 2.0h.1M51.6 -80.1h.1" stroke="#969696" stroke-width="2.7" stroke-linecap="round" stroke-linejoin="round" fill="none" filter="url(#b04)"/>
<use href="#intF" fill="#d6d6d6" opacity="0.55"/>
<use href="#pilF" fill="url(#pdL)"/><use href="#botF" fill="url(#pdL)"/>
<path d="M15.2 6V160M51.9 6V160" stroke="#f4f4f4" stroke-width="1.5" opacity="0.85"/>
<path d="M6 2.4H15M42.5 2.4H51.8" stroke="#f6f6f6" stroke-width="2.2" opacity="0.9"/>
<rect x="0" y="177.6" width="61.2" height="2.6" fill="#fafafa"/>
<path d="M17 164.2Q28.7 173.4 40.5 164.2" stroke="#888" stroke-width="2.4" fill="none" transform="translate(0 -1.6)" filter="url(#b04)"/>
<use href="#penO" stroke="#1f5f1f" stroke-width="1.6"/>
<circle cx="29" cy="162" r="2.1" fill="#fbfbfb" stroke="#a8a8a8" stroke-width="0.9"/>
<g fill="#e9e01c" font-weight="bold" font-style="italic" font-size="12.5"><text x="19.5" y="181.3" textLength="20.5" lengthAdjust="spacingAndGlyphs">527</text><text x="-4.5" y="181.3">5</text><text x="55.6" y="181.3">5</text></g>
<rect x="0" y="182" width="61.2" height="2.6" fill="#2a5a2a"/>
</g>
<g transform="translate(648.90 949.0)" clip-path="url(#cb)">
<rect x="0" y="-94.0" width="61.2" height="278.4000000000001" fill="url(#pfine)"/>
<path d="M49.9 -62.2l1.5 1.9l-1.2 -2.1l1.9 1.5l2.2 1.0h.1M47.5 -71.8l-0.4 -2.4h.1M14.9 -16.2l2.2 0.9l-1.7 -1.6l2.1 1.1l-1.1 -2.1h.1M1.3 -43.5l-2.3 0.6l0.6 2.3h.1M17.9 -55.7l0.4 2.4l2.2 0.9h.1M16.3 -81.0l-1.2 -2.0l-2.0 1.3l-1.8 -1.5l-1.3 2.0h.1M29.0 -47.1h.1M40.3 -25.9l-2.4 0.1l2.4 -0.3h.1M34.6 -44.6h.1M48.7 -64.6l-0.5 -2.3h.1M16.5 -59.4h.1M14.7 -78.4l0.7 -2.3l0.4 2.4h.1M43.4 -76.1l-1.2 -2.1l1.8 -1.6h.1M13.5 -58.9l-0.1 2.4h.1M29.3 -84.2l2.4 -0.4h.1M46.2 -53.7l-0.7 2.3h.1M46.8 -44.8l2.1 -1.1l1.1 -2.1l2.4 -0.3h.1M2.9 -14.1l-2.3 0.7l1.6 1.8l-2.1 1.2h.1M21.9 -36.1l1.5 -1.9l-0.7 -2.3h.1M57.7 -37.8l1.3 -2.0l2.0 1.3l-1.5 -1.8l-0.1 -2.4h.1M22.5 -50.8l0.4 -2.4l1.4 -2.0h.1M33.4 -53.6l1.7 -1.7l1.5 1.8l-2.2 0.9h.1M8.4 -17.1h.1M36.9 -19.0l-1.0 -2.2l1.1 -2.1h.1M29.8 -29.4l-1.4 2.0l-1.3 2.0h.1M53.5 -18.7l-1.1 2.1l2.0 -1.3h.1M5.7 -21.6l-1.6 -1.8h.1M36.4 -30.0h.1M12.1 -21.9l2.4 -0.4l2.3 -0.6l-0.9 2.2l-1.7 -1.7h.1M36.9 -81.6l-1.3 -2.0l-0.9 2.2l2.3 0.8l-2.4 -0.3h.1M8.8 -59.9l-1.7 1.7l-2.3 -0.7l-0.9 -2.2l1.5 -1.9h.1M47.5 -16.3l2.3 -0.8h.1M34.5 -66.0l-1.6 1.8l2.2 -0.9h.1M32.7 -83.4l2.3 -0.8h.1M13.4 -33.6l-1.9 1.5l-2.2 1.1l1.6 -1.8h.1M50.6 -30.6l0.7 2.3l2.4 -0.0l0.7 2.3h.1M43.0 -8.5l-0.9 2.2l0.7 -2.3h.1M36.5 -17.3l1.0 -2.2l1.3 2.0h.1M4.4 -29.3l-1.7 -1.7h.1M3.4 -50.1l1.9 -1.5h.1M7.3 -41.1h.1M36.0 -59.9l1.4 -2.0h.1M40.0 -89.2l-0.1 2.4l-0.3 -2.4l1.3 2.0h.1M33.7 -55.7l-2.0 -1.4h.1M38.9 -25.1l1.5 -1.9l1.5 1.9l1.0 -2.2h.1M31.1 -18.2l0.8 -2.3h.1M2.5 -71.7l-2.4 -0.2l-0.2 2.4l-1.7 1.7h.1M9.3 -75.0l-1.0 2.2h.1M45.6 -59.0l-1.2 -2.1h.1M8.2 -23.0l-1.6 1.8l1.2 -2.1l-2.2 -1.0l2.2 -1.0h.1M43.5 -31.3l-1.6 1.8l-0.6 -2.3h.1M61.1 -90.8l2.1 1.2h.1M29.9 -76.3l1.7 1.7l-1.2 -2.1h.1M53.2 -76.6l0.8 -2.3h.1M50.5 -90.9l1.9 1.5l1.2 -2.1h.1M42.1 -34.0l0.2 -2.4l0.2 2.4h.1M27.9 -23.6l1.5 1.9h.1M0.3 -90.7l-1.8 -1.6l1.2 -2.1h.1M33.9 -19.5l1.3 -2.0h.1M23.3 -25.2l1.5 1.8l-1.2 -2.1h.1M51.3 -40.2l-2.1 1.1l-1.5 1.9l-2.4 0.3h.1M32.9 -20.4l-0.7 -2.3h.1M47.9 -27.3l2.1 1.2h.1M37.4 -91.3l0.7 2.3l-2.4 -0.1l0.7 -2.3h.1M1.9 -68.0l-0.8 -2.3l-2.0 1.3h.1M16.7 -62.1l0.6 2.3l1.0 -2.2l0.6 -2.3l1.9 -1.5h.1M48.9 -26.7l0.9 -2.2h.1M45.6 -29.1l-0.1 -2.4l0.8 2.3h.1M28.4 -34.5l1.5 1.8l-2.4 -0.2l-1.7 1.6l2.4 0.1h.1M15.2 -74.2h.1M22.1 -39.0l2.4 -0.3l1.5 -1.9h.1M3.0 -75.3l1.5 1.9l-2.2 0.9h.1M46.8 -49.3l1.6 1.8l-2.1 -1.2l2.4 0.3h.1M13.7 -45.1l1.7 1.6l1.4 2.0h.1M5.9 -87.2l-1.9 1.5h.1M55.5 -71.8l-0.8 -2.3h.1M27.4 -7.3l-2.3 0.8l1.6 1.8h.1M50.2 -40.4l1.5 1.8l1.9 -1.5l-2.4 0.2h.1M19.5 -39.5l-0.8 2.3l1.2 -2.1h.1M8.9 -84.8l0.5 2.3l-1.6 -1.8l1.7 1.7l-1.9 -1.4h.1M11.3 -86.7h.1M56.6 -12.8l2.3 0.7h.1M0.6 -77.5l-2.3 -0.7l-0.2 2.4l1.1 2.1l-1.8 1.6h.1M57.2 -71.7l-2.3 0.5h.1M15.9 -23.3l2.4 -0.2l-0.7 2.3l-1.1 -2.1l1.5 -1.9h.1M11.3 -14.4l2.2 -0.9l-1.8 -1.6h.1M60.1 -20.4l0.5 2.3h.1M38.1 -23.6h.1M24.9 -37.3l2.1 1.2l-2.4 0.1l2.2 -1.0l-0.2 2.4h.1" stroke="#969696" stroke-width="2.7" stroke-linecap="round" stroke-linejoin="round" fill="none" filter="url(#b04)"/>
<use href="#intF" fill="#d6d6d6" opacity="0.55"/>
<use href="#pilF" fill="url(#pdL)"/><use href="#botF" fill="url(#pdL)"/>
<path d="M15.2 6V160M51.9 6V160" stroke="#f4f4f4" stroke-width="1.5" opacity="0.85"/>
<path d="M6 2.4H15M42.5 2.4H51.8" stroke="#f6f6f6" stroke-width="2.2" opacity="0.9"/>
<rect x="0" y="177.6" width="61.2" height="2.6" fill="#fafafa"/>
<path d="M17 164.2Q28.7 173.4 40.5 164.2" stroke="#888" stroke-width="2.4" fill="none" transform="translate(0 -1.6)" filter="url(#b04)"/>
<use href="#penO" stroke="#1f5f1f" stroke-width="1.6"/>
<circle cx="26.5" cy="161.5" r="2.1" fill="#fbfbfb" stroke="#a8a8a8" stroke-width="0.9"/>
<g fill="#e9e01c" font-weight="bold" font-style="italic" font-size="12.5"><text x="19.5" y="181.3" textLength="20.5" lengthAdjust="spacingAndGlyphs">527</text><text x="-4.5" y="181.3">5</text><text x="55.6" y="181.3">5</text></g>
<rect x="0" y="182" width="61.2" height="2.6" fill="#2a5a2a"/>
</g>
</g>
<g id="panel-f">
<defs>
<pattern id="fpL" width="11.3" height="11.26" patternUnits="userSpaceOnUse" patternTransform="translate(0.3 6.75)"><rect width="11.3" height="11.26" fill="#808080"/><rect x="3.2" y="3.4" width="4.9" height="4.5" rx="1.2" fill="#fefefe"/></pattern>
<pattern id="fpD" width="11.5" height="11.26" patternUnits="userSpaceOnUse" patternTransform="translate(0.3 6.75)"><rect width="11.5" height="11.26" fill="#4f4f4f"/><rect x="3.3" y="3.4" width="5" height="4.5" rx="1.2" fill="#858585"/></pattern>
<pattern id="fpD2" width="11.9" height="11.26" patternUnits="userSpaceOnUse" patternTransform="translate(2.4 6.75)"><rect width="11.9" height="11.26" fill="#6b6b6b"/><rect x="3.5" y="3.4" width="5" height="4.5" rx="1.2" fill="#979797"/></pattern>
<pattern id="fbg" width="11.3" height="11.25" patternUnits="userSpaceOnUse"><rect width="11.3" height="11.25" fill="#dedede"/><rect x="2.6" y="3.2" width="5.6" height="4.8" rx="1.2" fill="#ececec"/></pattern>
<filter id="fb" x="-5%" y="-5%" width="110%" height="110%"><feGaussianBlur stdDeviation="1.0"/></filter>
<filter id="fb2" x="-5%" y="-5%" width="110%" height="110%"><feGaussianBlur stdDeviation="1.8"/></filter>
</defs>
<text x="766.20" y="508.00" font-size="23" font-weight="bold">f</text>
<text x="819.20" y="535.40" font-size="30.5" textLength="55.0" lengthAdjust="spacingAndGlyphs">Ref.</text>
<text x="960.40" y="535.40" font-size="30.5" textLength="78.0" lengthAdjust="spacingAndGlyphs">Day 1</text>
<text x="1119.80" y="535.40" font-size="30.5" textLength="78.0" lengthAdjust="spacingAndGlyphs">Day 2</text>
<text x="1271.00" y="535.40" font-size="30.5" textLength="80.4" lengthAdjust="spacingAndGlyphs">Day 6</text>
<text x="1415.30" y="535.40" font-size="30.5" textLength="98.2" lengthAdjust="spacingAndGlyphs">Day 10</text>
<rect x="920.80" y="566.00" width="6.60" height="460.00" fill="#000" stroke="none" stroke-width="1" />
<rect x="1075.00" y="566.00" width="7.70" height="459.50" fill="#000" stroke="none" stroke-width="1" />
<rect x="1231.00" y="566.00" width="8.10" height="459.50" fill="#000" stroke="none" stroke-width="1" />
<rect x="1386.70" y="566.00" width="8.10" height="459.50" fill="#000" stroke="none" stroke-width="1" />
<clipPath id="cf0"><rect x="0" y="566.0" width="152.4" height="460.0"/></clipPath>
<g transform="translate(768.4 0)" clip-path="url(#cf0)">
<rect x="-2" y="564.0" width="156.39999999999998" height="465.0" fill="url(#fpD2)" filter="url(#fb)"/>
<g filter="url(#fb)"><path d="M44.4 978.5Q74.85 997.5 105.3 978.5V1030.0H44.4ZM-2 983.0Q5.5 981.0 9.5 978.5V1030.0H-2ZM140.8 978.5Q145.8 982.0 154.39999999999998 984.0V1030.0H140.8Z" fill="url(#fpD2)"/><g transform="translate(9.5 0)"><path d="M0 1030.0V579.5Q0 573.5 6 573.5H28.9Q34.9 573.5 34.9 579.5V1030.0Z" fill="url(#fpD)"/></g><g transform="translate(105.3 0)"><path d="M0 1030.0V579.5Q0 573.5 6 573.5H29.500000000000014Q35.500000000000014 573.5 35.500000000000014 579.5V1030.0Z" fill="url(#fpD)"/></g></g>
<circle cx="74.6" cy="811" r="4.5" fill="#8a8a8a" filter="url(#fb)"/>
<path d="M9.5 1030.0V579.5Q9.5 573.5 15.5 573.5H38.4Q44.4 573.5 44.4 579.5V1030.0M105.3 1030.0V579.5Q105.3 573.5 111.3 573.5H134.8Q140.8 573.5 140.8 579.5V1030.0M44.4 978.5Q74.85 997.5 105.3 978.5M-2 983.0Q5.5 981.0 9.5 978.5M140.8 978.5Q145.8 982.0 154.39999999999998 984.0" fill="none" stroke="#1b5a1b" stroke-width="3" filter="url(#b07)"/>
<g fill="#f2ea18" font-weight="bold" font-style="italic" font-size="26.5" filter="url(#b04)"><text x="50.3" y="1016" textLength="51" lengthAdjust="spacingAndGlyphs">527</text><text x="-9" y="1016">5</text><text x="144.4" y="1016">5</text></g>
<rect x="-2" y="1018" width="156.39999999999998" height="9" fill="#1d521d"/>
</g>
<clipPath id="cf1"><rect x="0" y="566.0" width="147.7" height="459.0"/></clipPath>
<g transform="translate(927.3 0)" clip-path="url(#cf1)">
<rect x="-2" y="564.0" width="151.70000000000005" height="465.0" fill="url(#fbg)" filter="url(#fb)"/>
<path d="M8.2 1030.0V579.5Q8.2 573.5 14.2 573.5H36.1Q42.1 573.5 42.1 579.5V1030.0M99.9 1030.0V579.5Q99.9 573.5 105.9 573.5H128.8Q134.8 573.5 134.8 579.5V1030.0M42.1 978.5Q71.0 997.5 99.9 978.5M-2 983.0Q4.199999999999999 981.0 8.2 978.5M134.8 978.5Q139.8 982.0 149.70000000000005 984.0" fill="none" stroke="#5a505a" stroke-width="8.5" filter="url(#fb2)" opacity="0.85"/>
<g filter="url(#fb)"><path d="M42.1 978.5Q71.0 997.5 99.9 978.5V1030.0H42.1ZM-2 983.0Q4.199999999999999 981.0 8.2 978.5V1030.0H-2ZM134.8 978.5Q139.8 982.0 149.70000000000005 984.0V1030.0H134.8Z" fill="url(#fpL)"/><g transform="translate(8.2 0)"><path d="M0 1030.0V579.5Q0 573.5 6 573.5H27.900000000000006Q33.900000000000006 573.5 33.900000000000006 579.5V1030.0Z" fill="url(#fpL)"/></g><g transform="translate(99.9 0)"><path d="M0 1030.0V579.5Q0 573.5 6 573.5H28.900000000000006Q34.900000000000006 573.5 34.900000000000006 579.5V1030.0Z" fill="url(#fpL)"/></g>
<rect x="12.2" y="577.5" width="25.900000000000006" height="10.5" rx="4" fill="#fdfdfd"/><rect x="103.9" y="577.5" width="26.900000000000006" height="10.5" rx="4" fill="#fdfdfd"/>
<rect x="31.6" y="616.5" width="6.6" height="347.0" fill="#fcfcfc"/><rect x="124.30000000000001" y="616.5" width="6.6" height="347.0" fill="#fcfcfc"/>
<rect x="-2" y="1006.5" width="151.70000000000005" height="9" fill="#fdfdfd"/>
</g>
<path d="M45.1 563.0V970.5Q71.0 993.0 96.9 970.5V563.0Z" fill="#e2e2e2" opacity="0.55" filter="url(#fb)"/>
<path d="M42.1 978.5Q71.0 997.5 99.9 978.5" fill="none" stroke="#777" stroke-width="5" transform="translate(0 -4)" filter="url(#fb2)"/>
<circle cx="73.9" cy="810.8" r="5.6" fill="#fafafa" stroke="#9a9a9a" stroke-width="2.2" filter="url(#fb)"/>
<path d="M8.2 1030.0V579.5Q8.2 573.5 14.2 573.5H36.1Q42.1 573.5 42.1 579.5V1030.0M99.9 1030.0V579.5Q99.9 573.5 105.9 573.5H128.8Q134.8 573.5 134.8 579.5V1030.0M42.1 978.5Q71.0 997.5 99.9 978.5M-2 983.0Q4.199999999999999 981.0 8.2 978.5M134.8 978.5Q139.8 982.0 149.70000000000005 984.0" fill="none" stroke="#0b2c0b" stroke-width="3.6" filter="url(#b07)"/>
<path d="M8.2 1030.0V579.5Q8.2 573.5 14.2 573.5H36.1Q42.1 573.5 42.1 579.5V1030.0M99.9 1030.0V579.5Q99.9 573.5 105.9 573.5H128.8Q134.8 573.5 134.8 579.5V1030.0M42.1 978.5Q71.0 997.5 99.9 978.5M-2 983.0Q4.199999999999999 981.0 8.2 978.5M134.8 978.5Q139.8 982.0 149.70000000000005 984.0" fill="none" stroke="#1a5a1a" stroke-width="1.2" filter="url(#b04)" opacity="0.55"/>
<g fill="#f4ec10" font-weight="bold" font-style="italic" font-size="26.5" filter="url(#b04)"><text x="47.8" y="1016" textLength="50" lengthAdjust="spacingAndGlyphs">527</text><text x="-9" y="1016">5</text><text x="138.7" y="1016">5</text></g>
<rect x="-2" y="1018.2" width="151.70000000000005" height="4.2" fill="#153f15" filter="url(#b04)"/>
<rect x="-2" y="1022.5" width="151.70000000000005" height="4" fill="#fff"/>
<path d="M0 566.6H147.70000000000005" stroke="#222" stroke-width="1.4"/>
</g>
<clipPath id="cf2"><rect x="0" y="566.0" width="148.4" height="459.0"/></clipPath>
<g transform="translate(1082.6 0)" clip-path="url(#cf2)">
<rect x="-2" y="564.0" width="152.4000000000001" height="465.0" fill="url(#fbg)" filter="url(#fb)"/>
<path d="M8.4 1030.0V579.5Q8.4 573.5 14.4 573.5H36.3Q42.3 573.5 42.3 579.5V1030.0M101.3 1030.0V579.5Q101.3 573.5 107.3 573.5H130.2Q136.2 573.5 136.2 579.5V1030.0M42.3 978.5Q71.8 997.5 101.3 978.5M-2 983.0Q4.4 981.0 8.4 978.5M136.2 978.5Q141.2 982.0 150.4000000000001 984.0" fill="none" stroke="#5a505a" stroke-width="8.5" filter="url(#fb2)" opacity="0.85"/>
<g filter="url(#fb)"><path d="M42.3 978.5Q71.8 997.5 101.3 978.5V1030.0H42.3ZM-2 983.0Q4.4 981.0 8.4 978.5V1030.0H-2ZM136.2 978.5Q141.2 982.0 150.4000000000001 984.0V1030.0H136.2Z" fill="url(#fpL)"/><g transform="translate(8.4 0)"><path d="M0 1030.0V579.5Q0 573.5 6 573.5H27.9Q33.9 573.5 33.9 579.5V1030.0Z" fill="url(#fpL)"/></g><g transform="translate(101.3 0)"><path d="M0 1030.0V579.5Q0 573.5 6 573.5H28.89999999999999Q34.89999999999999 573.5 34.89999999999999 579.5V1030.0Z" fill="url(#fpL)"/></g>
<rect x="12.4" y="577.5" width="25.9" height="10.5" rx="4" fill="#fdfdfd"/><rect x="105.3" y="577.5" width="26.89999999999999" height="10.5" rx="4" fill="#fdfdfd"/>
<rect x="31.799999999999997" y="616.5" width="6.6" height="347.0" fill="#fcfcfc"/><rect x="125.69999999999999" y="616.5" width="6.6" height="347.0" fill="#fcfcfc"/>
<rect x="-2" y="1006.5" width="152.4000000000001" height="9" fill="#fdfdfd"/>
</g>
<path d="M45.3 563.0V970.5Q71.8 993.0 98.3 970.5V563.0Z" fill="#e2e2e2" opacity="0.55" filter="url(#fb)"/>
<path d="M42.3 978.5Q71.8 997.5 101.3 978.5" fill="none" stroke="#777" stroke-width="5" transform="translate(0 -4)" filter="url(#fb2)"/>
<circle cx="74.4" cy="835" r="5.6" fill="#fafafa" stroke="#9a9a9a" stroke-width="2.2" filter="url(#fb)"/>
<path d="M8.4 1030.0V579.5Q8.4 573.5 14.4 573.5H36.3Q42.3 573.5 42.3 579.5V1030.0M101.3 1030.0V579.5Q101.3 573.5 107.3 573.5H130.2Q136.2 573.5 136.2 579.5V1030.0M42.3 978.5Q71.8 997.5 101.3 978.5M-2 983.0Q4.4 981.0 8.4 978.5M136.2 978.5Q141.2 982.0 150.4000000000001 984.0" fill="none" stroke="#0b2c0b" stroke-width="3.6" filter="url(#b07)"/>
<path d="M8.4 1030.0V579.5Q8.4 573.5 14.4 573.5H36.3Q42.3 573.5 42.3 579.5V1030.0M101.3 1030.0V579.5Q101.3 573.5 107.3 573.5H130.2Q136.2 573.5 136.2 579.5V1030.0M42.3 978.5Q71.8 997.5 101.3 978.5M-2 983.0Q4.4 981.0 8.4 978.5M136.2 978.5Q141.2 982.0 150.4000000000001 984.0" fill="none" stroke="#1a5a1a" stroke-width="1.2" filter="url(#b04)" opacity="0.55"/>
<g fill="#f4ec10" font-weight="bold" font-style="italic" font-size="26.5" filter="url(#b04)"><text x="47.8" y="1016" textLength="50" lengthAdjust="spacingAndGlyphs">527</text><text x="-9" y="1016">5</text><text x="139.4" y="1016">5</text></g>
<rect x="-2" y="1018.2" width="152.4000000000001" height="4.2" fill="#153f15" filter="url(#b04)"/>
<rect x="-2" y="1022.5" width="152.4000000000001" height="4" fill="#fff"/>
</g>
<clipPath id="cf3"><rect x="0" y="566.0" width="147.6" height="459.0"/></clipPath>
<g transform="translate(1239.1 0)" clip-path="url(#cf3)">
<rect x="-2" y="564.0" width="151.60000000000014" height="465.0" fill="url(#fbg)" filter="url(#fb)"/>
<path d="M8.2 1030.0V579.5Q8.2 573.5 14.2 573.5H36.5Q42.5 573.5 42.5 579.5V1030.0M101.3 1030.0V579.5Q101.3 573.5 107.3 573.5H130.2Q136.2 573.5 136.2 579.5V1030.0M42.5 978.5Q71.9 997.5 101.3 978.5M-2 983.0Q4.199999999999999 981.0 8.2 978.5M136.2 978.5Q141.2 982.0 149.60000000000014 984.0" fill="none" stroke="#5a505a" stroke-width="8.5" filter="url(#fb2)" opacity="0.85"/>
<g filter="url(#fb)"><path d="M42.5 978.5Q71.9 997.5 101.3 978.5V1030.0H42.5ZM-2 983.0Q4.199999999999999 981.0 8.2 978.5V1030.0H-2ZM136.2 978.5Q141.2 982.0 149.60000000000014 984.0V1030.0H136.2Z" fill="url(#fpL)"/><g transform="translate(8.2 0)"><path d="M0 1030.0V579.5Q0 573.5 6 573.5H28.299999999999997Q34.3 573.5 34.3 579.5V1030.0Z" fill="url(#fpL)"/></g><g transform="translate(101.3 0)"><path d="M0 1030.0V579.5Q0 573.5 6 573.5H28.89999999999999Q34.89999999999999 573.5 34.89999999999999 579.5V1030.0Z" fill="url(#fpL)"/></g>
<rect x="12.2" y="577.5" width="26.299999999999997" height="10.5" rx="4" fill="#fdfdfd"/><rect x="105.3" y="577.5" width="26.89999999999999" height="10.5" rx="4" fill="#fdfdfd"/>
<rect x="32.0" y="616.5" width="6.6" height="347.0" fill="#fcfcfc"/><rect x="125.69999999999999" y="616.5" width="6.6" height="347.0" fill="#fcfcfc"/>
<rect x="-2" y="1006.5" width="151.60000000000014" height="9" fill="#fdfdfd"/>
</g>
<path d="M45.5 563.0V970.5Q71.9 993.0 98.3 970.5V563.0Z" fill="#e2e2e2" opacity="0.55" filter="url(#fb)"/>
<path d="M42.5 978.5Q71.9 997.5 101.3 978.5" fill="none" stroke="#777" stroke-width="5" transform="translate(0 -4)" filter="url(#fb2)"/>
<circle cx="85.4" cy="968" r="5.6" fill="#fafafa" stroke="#9a9a9a" stroke-width="2.2" filter="url(#fb)"/>
<path d="M8.2 1030.0V579.5Q8.2 573.5 14.2 573.5H36.5Q42.5 573.5 42.5 579.5V1030.0M101.3 1030.0V579.5Q101.3 573.5 107.3 573.5H130.2Q136.2 573.5 136.2 579.5V1030.0M42.5 978.5Q71.9 997.5 101.3 978.5M-2 983.0Q4.199999999999999 981.0 8.2 978.5M136.2 978.5Q141.2 982.0 149.60000000000014 984.0" fill="none" stroke="#0b2c0b" stroke-width="3.6" filter="url(#b07)"/>
<path d="M8.2 1030.0V579.5Q8.2 573.5 14.2 573.5H36.5Q42.5 573.5 42.5 579.5V1030.0M101.3 1030.0V579.5Q101.3 573.5 107.3 573.5H130.2Q136.2 573.5 136.2 579.5V1030.0M42.5 978.5Q71.9 997.5 101.3 978.5M-2 983.0Q4.199999999999999 981.0 8.2 978.5M136.2 978.5Q141.2 982.0 149.60000000000014 984.0" fill="none" stroke="#1a5a1a" stroke-width="1.2" filter="url(#b04)" opacity="0.55"/>
<g fill="#f4ec10" font-weight="bold" font-style="italic" font-size="26.5" filter="url(#b04)"><text x="47.8" y="1016" textLength="50" lengthAdjust="spacingAndGlyphs">527</text><text x="-9" y="1016">5</text><text x="138.6" y="1016">5</text></g>
<rect x="-2" y="1018.2" width="151.60000000000014" height="4.2" fill="#153f15" filter="url(#b04)"/>
<rect x="-2" y="1022.5" width="151.60000000000014" height="4" fill="#fff"/>
</g>
<clipPath id="cf4"><rect x="0" y="566.0" width="148.8" height="459.0"/></clipPath>
<g transform="translate(1394.8 0)" clip-path="url(#cf4)">
<rect x="-2" y="564.0" width="152.79999999999995" height="465.0" fill="url(#fbg)" filter="url(#fb)"/>
<path d="M10.7 1030.0V579.5Q10.7 573.5 16.7 573.5H39.3Q45.3 573.5 45.3 579.5V1030.0M102.6 1030.0V579.5Q102.6 573.5 108.6 573.5H131.1Q137.1 573.5 137.1 579.5V1030.0M45.3 978.5Q73.94999999999999 997.5 102.6 978.5M-2 983.0Q6.699999999999999 981.0 10.7 978.5M137.1 978.5Q142.1 982.0 150.79999999999995 984.0" fill="none" stroke="#5a505a" stroke-width="8.5" filter="url(#fb2)" opacity="0.85"/>
<g filter="url(#fb)"><path d="M45.3 978.5Q73.94999999999999 997.5 102.6 978.5V1030.0H45.3ZM-2 983.0Q6.699999999999999 981.0 10.7 978.5V1030.0H-2ZM137.1 978.5Q142.1 982.0 150.79999999999995 984.0V1030.0H137.1Z" fill="url(#fpL)"/><g transform="translate(10.7 0)"><path d="M0 1030.0V579.5Q0 573.5 6 573.5H28.599999999999994Q34.599999999999994 573.5 34.599999999999994 579.5V1030.0Z" fill="url(#fpL)"/></g><g transform="translate(102.6 0)"><path d="M0 1030.0V579.5Q0 573.5 6 573.5H28.5Q34.5 573.5 34.5 579.5V1030.0Z" fill="url(#fpL)"/></g>
<rect x="14.7" y="577.5" width="26.599999999999994" height="10.5" rx="4" fill="#fdfdfd"/><rect x="106.6" y="577.5" width="26.5" height="10.5" rx="4" fill="#fdfdfd"/>
<rect x="34.8" y="616.5" width="6.6" height="347.0" fill="#fcfcfc"/><rect x="126.6" y="616.5" width="6.6" height="347.0" fill="#fcfcfc"/>
<rect x="-2" y="1006.5" width="152.79999999999995" height="9" fill="#fdfdfd"/>
</g>
<path d="M48.3 563.0V970.5Q73.94999999999999 993.0 99.6 970.5V563.0Z" fill="#e2e2e2" opacity="0.55" filter="url(#fb)"/>
<path d="M45.3 978.5Q73.94999999999999 997.5 102.6 978.5" fill="none" stroke="#777" stroke-width="5" transform="translate(0 -4)" filter="url(#fb2)"/>
<circle cx="63.3" cy="968" r="5.6" fill="#fafafa" stroke="#9a9a9a" stroke-width="2.2" filter="url(#fb)"/>
<path d="M10.7 1030.0V579.5Q10.7 573.5 16.7 573.5H39.3Q45.3 573.5 45.3 579.5V1030.0M102.6 1030.0V579.5Q102.6 573.5 108.6 573.5H131.1Q137.1 573.5 137.1 579.5V1030.0M45.3 978.5Q73.94999999999999 997.5 102.6 978.5M-2 983.0Q6.699999999999999 981.0 10.7 978.5M137.1 978.5Q142.1 982.0 150.79999999999995 984.0" fill="none" stroke="#0b2c0b" stroke-width="3.6" filter="url(#b07)"/>
<path d="M10.7 1030.0V579.5Q10.7 573.5 16.7 573.5H39.3Q45.3 573.5 45.3 579.5V1030.0M102.6 1030.0V579.5Q102.6 573.5 108.6 573.5H131.1Q137.1 573.5 137.1 579.5V1030.0M45.3 978.5Q73.94999999999999 997.5 102.6 978.5M-2 983.0Q6.699999999999999 981.0 10.7 978.5M137.1 978.5Q142.1 982.0 150.79999999999995 984.0" fill="none" stroke="#1a5a1a" stroke-width="1.2" filter="url(#b04)" opacity="0.55"/>
<g fill="#f4ec10" font-weight="bold" font-style="italic" font-size="26.5" filter="url(#b04)"><text x="47.8" y="1016" textLength="50" lengthAdjust="spacingAndGlyphs">527</text><text x="-9" y="1016">5</text><text x="139.8" y="1016">5</text></g>
<rect x="-2" y="1018.2" width="152.79999999999995" height="4.2" fill="#153f15" filter="url(#b04)"/>
<rect x="-2" y="1022.5" width="152.79999999999995" height="4" fill="#fff"/>
</g>
</g>
<g id="panel-g">
<text x="1579.50" y="509.00" font-size="23" font-weight="bold">g</text>
<path d="M1666.6 566.9H1834.6" stroke="#000" stroke-width="2.2" fill="none"/>
<path d="M1676.0 566.9V701.1M1828.8 566.9V701.1M1676.0 717.7V850.8M1828.8 717.7V850.8M1666.6 634.6H1676.0M1828.8 634.6H1834.6M1670.6 701.1H1680.6M1824 701.1H1834M1670.6 717.7H1680.6M1824 717.7H1834M1666.6 750.8H1676.0M1666.6 784.2H1676.0M1666.6 817.6H1676.0M1828.8 784.2H1834.6M1666.6 850.8H1834.6M1705.3 850.8V859.8M1751.8 850.8V859.8M1797.8 850.8V859.8" stroke="#000" stroke-width="1.8" fill="none"/>
<text x="1662.80" y="574.90" font-size="23.5" text-anchor="end">160</text>
<text x="1662.80" y="642.60" font-size="23.5" text-anchor="end">100</text>
<text x="1662.80" y="709.10" font-size="23.5" text-anchor="end">40</text>
<text x="1662.80" y="725.70" font-size="23.5" text-anchor="end">20</text>
<text x="1662.80" y="758.80" font-size="23.5" text-anchor="end">15</text>
<text x="1662.80" y="792.20" font-size="23.5" text-anchor="end">10</text>
<text x="1662.80" y="825.60" font-size="23.5" text-anchor="end">5</text>
<text x="1662.80" y="858.80" font-size="23.5" text-anchor="end">0</text>
<text x="1839.80" y="574.90" font-size="23.5">100</text>
<text x="1839.80" y="642.60" font-size="23.5">70</text>
<text x="1839.80" y="709.10" font-size="23.5">40</text>
<text x="1839.80" y="725.70" font-size="23.5">20</text>
<text x="1839.80" y="792.20" font-size="23.5">10</text>
<text x="1839.80" y="858.80" font-size="23.5">0</text>
<text x="1611.50" y="704.00" font-size="25" text-anchor="middle" textLength="262.0" lengthAdjust="spacingAndGlyphs" transform="rotate(-90 1611.50 704.00)">Single cell BM LLPC (#)</text>
<text x="1883.80" y="705.00" font-size="25" text-anchor="middle" textLength="272.0" lengthAdjust="spacingAndGlyphs" transform="rotate(90 1883.80 705.00)">Single cell BM LLPC (%)</text>
<path d="M1752.2 627.7V684.4M1744.8 627.7H1759.6M1744.8 684.4H1759.6" stroke="#000" stroke-width="1.7" fill="none"/>
<line x1="1737.20" y1="656.20" x2="1767.20" y2="656.20" stroke="#000" stroke-width="3.9" />
<circle cx="1751.7" cy="612.2" r="5.3"/>
<circle cx="1740.8" cy="631.2" r="5.3"/>
<circle cx="1763.1" cy="636.8" r="5.3"/>
<circle cx="1751.7" cy="655.9" r="5.3"/>
<circle cx="1763.1" cy="665.9" r="5.3"/>
<circle cx="1740.8" cy="669.4" r="5.3"/>
<circle cx="1763.1" cy="686.2" r="5.3"/>
<circle cx="1740.8" cy="693.7" r="5.3"/>
<path d="M1694.5 846.6H1717L1721.4 851.2L1717 855.8H1694.5L1690 851.2Z" fill="#000"/>
<path d="M1696 848.2H1716" stroke="#fff" stroke-width="0.7" stroke-dasharray="1.4 1.2"/>
<path d="M1786.5 846.8H1809L1813.3 851.2L1809 855.8H1786.5L1782.2 851.2Z" fill="#fff" stroke="#000" stroke-width="1"/>
<path d="M1783 850H1812.6L1809 846.6H1786.5Z" fill="#000"/>
<path d="M1790 852v3.5M1794.5 852.5a4 4 0 0 0 6.5 0M1805 852v3.5" stroke="#000" stroke-width="0.9" fill="none"/>
<text x="1713.80" y="879.50" font-size="25" text-anchor="end" transform="rotate(-45 1713.80 879.50)">Div (#)</text>
<text x="1760.30" y="879.50" font-size="25" text-anchor="end" transform="rotate(-45 1760.30 879.50)">Non-div (#)</text>
<text x="1806.30" y="879.50" font-size="25" text-anchor="end" transform="rotate(-45 1806.30 879.50)">Div (%)</text>
</g>
</svg>
</body></html>
